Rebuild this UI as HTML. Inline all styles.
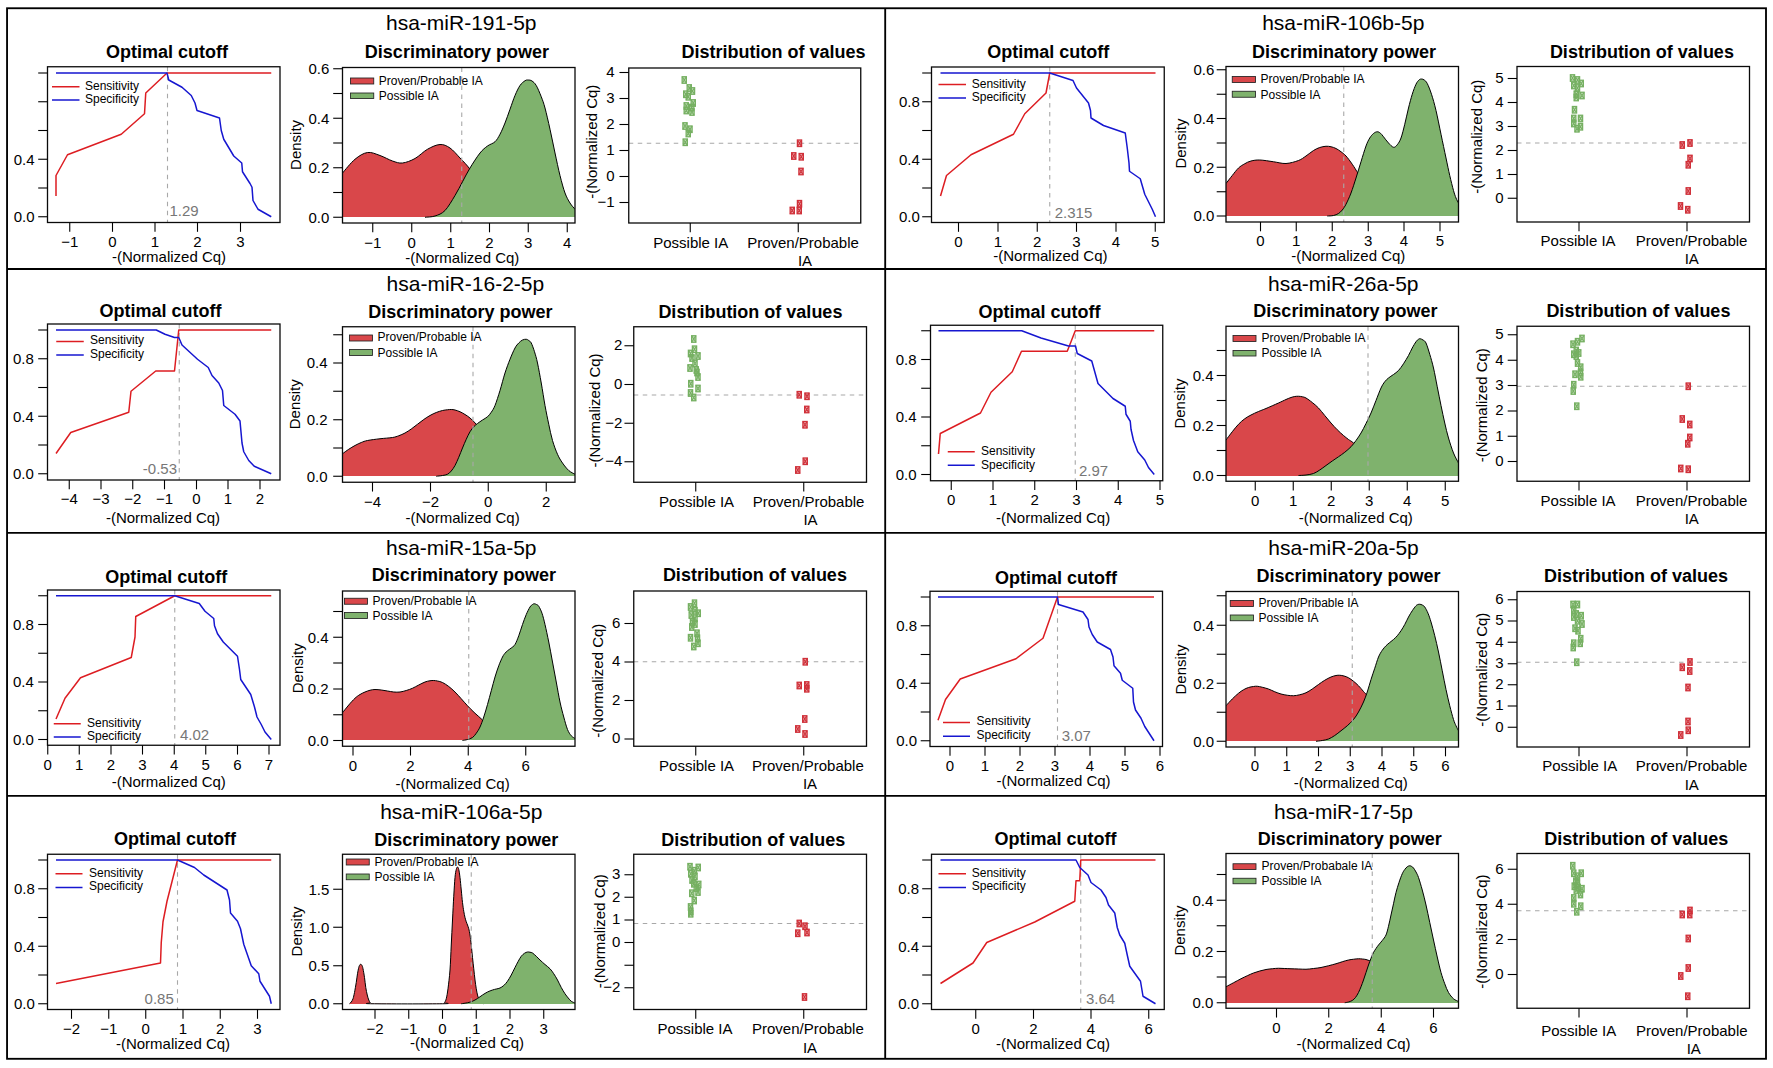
<!DOCTYPE html>
<html><head><meta charset="utf-8"><title>miRNA cutoff panels</title>
<style>html,body{margin:0;padding:0;background:#fff}svg{display:block}</style></head>
<body>
<svg width="1773" height="1068" viewBox="0 0 1773 1068" font-family='"Liberation Sans", sans-serif'>
<rect width="1773" height="1068" fill="#ffffff"/>
<text x="461.25" y="30" font-size="21" text-anchor="middle" fill="#000000">hsa-miR-191-5p</text>
<line x1="167.5" y1="66.75" x2="167.5" y2="222.5" stroke="#a8a8a8" stroke-width="1.1" stroke-dasharray="4.5 4.5"/>
<polyline points="56,196 56,175.5 67.5,154.75 121.25,134.25 144.5,113.75 145.75,93 167,73 271.25,73" fill="none" stroke="#dd1d22" stroke-width="1.5" stroke-linejoin="round" stroke-linecap="butt"/>
<polyline points="56,73 167,73 168.75,80 182,87.25 191.25,95.5 195,103 197,110.5 219.5,118 221.25,130.5 223.75,139.25 233.75,156 241.75,163 242.5,171.75 250,183.5 252,187.25 253,200.5 258,209.25 271.25,216.75" fill="none" stroke="#1616d0" stroke-width="1.5" stroke-linejoin="round" stroke-linecap="butt"/>
<rect x="47.5" y="66.75" width="232.5" height="155.75" fill="none" stroke="#0a0a0a" stroke-width="1.3"/>
<line x1="38.2" y1="73" x2="47.5" y2="73" stroke="#000000" stroke-width="1.1"/>
<line x1="38.2" y1="101.75" x2="47.5" y2="101.75" stroke="#000000" stroke-width="1.1"/>
<line x1="38.2" y1="130.5" x2="47.5" y2="130.5" stroke="#000000" stroke-width="1.1"/>
<line x1="38.2" y1="159.25" x2="47.5" y2="159.25" stroke="#000000" stroke-width="1.1"/>
<text x="34.5" y="164.55" font-size="15" text-anchor="end" fill="#000000">0.4</text>
<line x1="38.2" y1="188" x2="47.5" y2="188" stroke="#000000" stroke-width="1.1"/>
<line x1="38.2" y1="216.75" x2="47.5" y2="216.75" stroke="#000000" stroke-width="1.1"/>
<text x="34.5" y="222.05" font-size="15" text-anchor="end" fill="#000000">0.0</text>
<line x1="69.75" y1="222.5" x2="69.75" y2="231.8" stroke="#000000" stroke-width="1.1"/>
<text x="69.75" y="246.75" font-size="15" text-anchor="middle" fill="#000000">−1</text>
<line x1="112.5" y1="222.5" x2="112.5" y2="231.8" stroke="#000000" stroke-width="1.1"/>
<text x="112.5" y="246.75" font-size="15" text-anchor="middle" fill="#000000">0</text>
<line x1="155" y1="222.5" x2="155" y2="231.8" stroke="#000000" stroke-width="1.1"/>
<text x="155" y="246.75" font-size="15" text-anchor="middle" fill="#000000">1</text>
<line x1="197.5" y1="222.5" x2="197.5" y2="231.8" stroke="#000000" stroke-width="1.1"/>
<text x="197.5" y="246.75" font-size="15" text-anchor="middle" fill="#000000">2</text>
<line x1="240.5" y1="222.5" x2="240.5" y2="231.8" stroke="#000000" stroke-width="1.1"/>
<text x="240.5" y="246.75" font-size="15" text-anchor="middle" fill="#000000">3</text>
<text x="167" y="57.5" font-size="18" text-anchor="middle" font-weight="bold" fill="#000000">Optimal cutoff</text>
<text x="169" y="261.75" font-size="15" text-anchor="middle" fill="#000000">-(Normalized Cq)</text>
<text x="169.5" y="216" font-size="15" text-anchor="start" fill="#777777">1.29</text>
<line x1="52" y1="86.75" x2="79.5" y2="86.75" stroke="#dd1d22" stroke-width="1.5"/>
<line x1="52" y1="100" x2="79.5" y2="100" stroke="#1616d0" stroke-width="1.5"/>
<text x="85" y="90" font-size="12" text-anchor="start" fill="#000000">Sensitivity</text>
<text x="85" y="103" font-size="12" text-anchor="start" fill="#000000">Specificity</text>
<clipPath id="c1"><rect x="342.5" y="67.5" width="232.5" height="155.5"/></clipPath>
<g clip-path="url(#c1)">
<path d="M342.5,173 C344.58,170.71 350.83,162.67 355,159.25 C359.17,155.83 363.33,153.12 367.5,152.5 C371.67,151.88 375.83,154.08 380,155.5 C384.17,156.92 388.75,159.75 392.5,161 C396.25,162.25 398.75,163.42 402.5,163 C406.25,162.58 410.83,160.79 415,158.5 C419.17,156.21 423.33,151.58 427.5,149.25 C431.67,146.92 436.25,144.71 440,144.5 C443.75,144.29 446.67,145.75 450,148 C453.33,150.25 456.67,154.46 460,158 C463.33,161.54 466.67,164.67 470,169.25 C473.33,173.83 476.67,180.29 480,185.5 C483.33,190.71 486.67,196.12 490,200.5 C493.33,204.88 498.33,209.88 500,211.75 L500,217 L342.5,217 Z" fill="#d9474a" stroke="none"/>
<path d="M342.5,173 C344.58,170.71 350.83,162.67 355,159.25 C359.17,155.83 363.33,153.12 367.5,152.5 C371.67,151.88 375.83,154.08 380,155.5 C384.17,156.92 388.75,159.75 392.5,161 C396.25,162.25 398.75,163.42 402.5,163 C406.25,162.58 410.83,160.79 415,158.5 C419.17,156.21 423.33,151.58 427.5,149.25 C431.67,146.92 436.25,144.71 440,144.5 C443.75,144.29 446.67,145.75 450,148 C453.33,150.25 456.67,154.46 460,158 C463.33,161.54 466.67,164.67 470,169.25 C473.33,173.83 476.67,180.29 480,185.5 C483.33,190.71 486.67,196.12 490,200.5 C493.33,204.88 498.33,209.88 500,211.75" fill="none" stroke="#000000" stroke-width="1" stroke-linejoin="round"/>
<path d="M425,217.25 C426.67,217.04 431.67,217.12 435,216 C438.33,214.88 441.67,213.92 445,210.5 C448.33,207.08 452.08,200.29 455,195.5 C457.92,190.71 460,186.33 462.5,181.75 C465,177.17 467.08,172.79 470,168 C472.92,163.21 477.08,156.67 480,153 C482.92,149.33 485,147.88 487.5,146 C490,144.12 492.92,143.71 495,141.75 C497.08,139.79 498.33,137.38 500,134.25 C501.67,131.12 503.33,127.17 505,123 C506.67,118.83 508.33,113.83 510,109.25 C511.67,104.67 513.33,99.46 515,95.5 C516.67,91.54 518.33,87.96 520,85.5 C521.67,83.04 523.62,81.67 525,80.75 C526.38,79.83 527.08,79.96 528.25,80 C529.42,80.04 530.67,80.08 532,81 C533.33,81.92 534.71,82.88 536.25,85.5 C537.79,88.12 539.79,93 541.25,96.75 C542.71,100.5 543.54,102.58 545,108 C546.46,113.42 548.33,121.75 550,129.25 C551.67,136.75 553.33,145.29 555,153 C556.67,160.71 558.33,168.83 560,175.5 C561.67,182.17 563.33,188.42 565,193 C566.67,197.58 568.33,200.29 570,203 C571.67,205.71 574.17,208.21 575,209.25 L575,217 L425,217 Z" fill="#7fb26d" stroke="none"/>
<path d="M425,217.25 C426.67,217.04 431.67,217.12 435,216 C438.33,214.88 441.67,213.92 445,210.5 C448.33,207.08 452.08,200.29 455,195.5 C457.92,190.71 460,186.33 462.5,181.75 C465,177.17 467.08,172.79 470,168 C472.92,163.21 477.08,156.67 480,153 C482.92,149.33 485,147.88 487.5,146 C490,144.12 492.92,143.71 495,141.75 C497.08,139.79 498.33,137.38 500,134.25 C501.67,131.12 503.33,127.17 505,123 C506.67,118.83 508.33,113.83 510,109.25 C511.67,104.67 513.33,99.46 515,95.5 C516.67,91.54 518.33,87.96 520,85.5 C521.67,83.04 523.62,81.67 525,80.75 C526.38,79.83 527.08,79.96 528.25,80 C529.42,80.04 530.67,80.08 532,81 C533.33,81.92 534.71,82.88 536.25,85.5 C537.79,88.12 539.79,93 541.25,96.75 C542.71,100.5 543.54,102.58 545,108 C546.46,113.42 548.33,121.75 550,129.25 C551.67,136.75 553.33,145.29 555,153 C556.67,160.71 558.33,168.83 560,175.5 C561.67,182.17 563.33,188.42 565,193 C566.67,197.58 568.33,200.29 570,203 C571.67,205.71 574.17,208.21 575,209.25" fill="none" stroke="#000000" stroke-width="1" stroke-linejoin="round"/>
</g>
<line x1="461.75" y1="67.5" x2="461.75" y2="223" stroke="#a8a8a8" stroke-width="1.1" stroke-dasharray="4.5 4.5"/>
<rect x="342.5" y="67.5" width="232.5" height="155.5" fill="none" stroke="#0a0a0a" stroke-width="1.3"/>
<line x1="333.2" y1="68.75" x2="342.5" y2="68.75" stroke="#000000" stroke-width="1.1"/>
<text x="329.3" y="74.05" font-size="15" text-anchor="end" fill="#000000">0.6</text>
<line x1="333.2" y1="93.5" x2="342.5" y2="93.5" stroke="#000000" stroke-width="1.1"/>
<line x1="333.2" y1="118.25" x2="342.5" y2="118.25" stroke="#000000" stroke-width="1.1"/>
<text x="329.3" y="123.55" font-size="15" text-anchor="end" fill="#000000">0.4</text>
<line x1="333.2" y1="143" x2="342.5" y2="143" stroke="#000000" stroke-width="1.1"/>
<line x1="333.2" y1="167.75" x2="342.5" y2="167.75" stroke="#000000" stroke-width="1.1"/>
<text x="329.3" y="173.05" font-size="15" text-anchor="end" fill="#000000">0.2</text>
<line x1="333.2" y1="192.5" x2="342.5" y2="192.5" stroke="#000000" stroke-width="1.1"/>
<line x1="333.2" y1="217.25" x2="342.5" y2="217.25" stroke="#000000" stroke-width="1.1"/>
<text x="329.3" y="222.55" font-size="15" text-anchor="end" fill="#000000">0.0</text>
<line x1="372.75" y1="223" x2="372.75" y2="232.3" stroke="#000000" stroke-width="1.1"/>
<text x="372.75" y="247.5" font-size="15" text-anchor="middle" fill="#000000">−1</text>
<line x1="411.75" y1="223" x2="411.75" y2="232.3" stroke="#000000" stroke-width="1.1"/>
<text x="411.75" y="247.5" font-size="15" text-anchor="middle" fill="#000000">0</text>
<line x1="450.75" y1="223" x2="450.75" y2="232.3" stroke="#000000" stroke-width="1.1"/>
<text x="450.75" y="247.5" font-size="15" text-anchor="middle" fill="#000000">1</text>
<line x1="489.5" y1="223" x2="489.5" y2="232.3" stroke="#000000" stroke-width="1.1"/>
<text x="489.5" y="247.5" font-size="15" text-anchor="middle" fill="#000000">2</text>
<line x1="528.25" y1="223" x2="528.25" y2="232.3" stroke="#000000" stroke-width="1.1"/>
<text x="528.25" y="247.5" font-size="15" text-anchor="middle" fill="#000000">3</text>
<line x1="567.25" y1="223" x2="567.25" y2="232.3" stroke="#000000" stroke-width="1.1"/>
<text x="567.25" y="247.5" font-size="15" text-anchor="middle" fill="#000000">4</text>
<text x="456.9" y="57.5" font-size="18" text-anchor="middle" font-weight="bold" fill="#000000">Discriminatory power</text>
<text x="462.25" y="263" font-size="15" text-anchor="middle" fill="#000000">-(Normalized Cq)</text>
<text x="301.25" y="144.9" font-size="15" text-anchor="middle" fill="#000000" transform="rotate(-90 301.25 144.9)">Density</text>
<rect x="350.5" y="78" width="23.25" height="6" fill="#d9474a" stroke="#222" stroke-width="0.85"/>
<rect x="350.5" y="93" width="23.25" height="5.5" fill="#7fb26d" stroke="#222" stroke-width="0.85"/>
<text x="378.75" y="84.5" font-size="12" text-anchor="start" fill="#000000">Proven/Probable IA</text>
<text x="378.75" y="99.75" font-size="12" text-anchor="start" fill="#000000">Possible IA</text>
<line x1="628.75" y1="143.25" x2="860.75" y2="143.25" stroke="#a8a8a8" stroke-width="1.1" stroke-dasharray="4.5 4.5"/>
<g stroke="#76b062" stroke-width="1.3" fill="#76b062" fill-opacity="0.38"><rect x="682.15" y="76.75" width="4.2" height="6.5"/></g>
<path d="M682.15,76.75 L686.35,83.25 M686.35,76.75 L682.15,83.25" stroke="#76b062" stroke-width="1.2" fill="none"/>
<g stroke="#76b062" stroke-width="1.3" fill="#76b062" fill-opacity="0.38"><rect x="687.15" y="84.75" width="4.2" height="6.5"/></g>
<path d="M687.15,84.75 L691.35,91.25 M691.35,84.75 L687.15,91.25" stroke="#76b062" stroke-width="1.2" fill="none"/>
<g stroke="#76b062" stroke-width="1.3" fill="#76b062" fill-opacity="0.38"><rect x="690.4" y="87.75" width="4.2" height="6.5"/></g>
<path d="M690.4,87.75 L694.6,94.25 M694.6,87.75 L690.4,94.25" stroke="#76b062" stroke-width="1.2" fill="none"/>
<g stroke="#76b062" stroke-width="1.3" fill="#76b062" fill-opacity="0.38"><rect x="683.65" y="91" width="4.2" height="6.5"/></g>
<path d="M683.65,91 L687.85,97.5 M687.85,91 L683.65,97.5" stroke="#76b062" stroke-width="1.2" fill="none"/>
<g stroke="#76b062" stroke-width="1.3" fill="#76b062" fill-opacity="0.38"><rect x="686.15" y="93.5" width="4.2" height="6.5"/></g>
<path d="M686.15,93.5 L690.35,100 M690.35,93.5 L686.15,100" stroke="#76b062" stroke-width="1.2" fill="none"/>
<g stroke="#76b062" stroke-width="1.3" fill="#76b062" fill-opacity="0.38"><rect x="691.15" y="99.75" width="4.2" height="6.5"/></g>
<path d="M691.15,99.75 L695.35,106.25 M695.35,99.75 L691.15,106.25" stroke="#76b062" stroke-width="1.2" fill="none"/>
<g stroke="#76b062" stroke-width="1.3" fill="#76b062" fill-opacity="0.38"><rect x="684.15" y="102.75" width="4.2" height="6.5"/></g>
<path d="M684.15,102.75 L688.35,109.25 M688.35,102.75 L684.15,109.25" stroke="#76b062" stroke-width="1.2" fill="none"/>
<g stroke="#76b062" stroke-width="1.3" fill="#76b062" fill-opacity="0.38"><rect x="689.65" y="104.25" width="4.2" height="6.5"/></g>
<path d="M689.65,104.25 L693.85,110.75 M693.85,104.25 L689.65,110.75" stroke="#76b062" stroke-width="1.2" fill="none"/>
<g stroke="#76b062" stroke-width="1.3" fill="#76b062" fill-opacity="0.38"><rect x="684.15" y="107.25" width="4.2" height="6.5"/></g>
<path d="M684.15,107.25 L688.35,113.75 M688.35,107.25 L684.15,113.75" stroke="#76b062" stroke-width="1.2" fill="none"/>
<g stroke="#76b062" stroke-width="1.3" fill="#76b062" fill-opacity="0.38"><rect x="689.9" y="108.75" width="4.2" height="6.5"/></g>
<path d="M689.9,108.75 L694.1,115.25 M694.1,108.75 L689.9,115.25" stroke="#76b062" stroke-width="1.2" fill="none"/>
<g stroke="#76b062" stroke-width="1.3" fill="#76b062" fill-opacity="0.38"><rect x="682.9" y="122.75" width="4.2" height="6.5"/></g>
<path d="M682.9,122.75 L687.1,129.25 M687.1,122.75 L682.9,129.25" stroke="#76b062" stroke-width="1.2" fill="none"/>
<g stroke="#76b062" stroke-width="1.3" fill="#76b062" fill-opacity="0.38"><rect x="687.9" y="126" width="4.2" height="6.5"/></g>
<path d="M687.9,126 L692.1,132.5 M692.1,126 L687.9,132.5" stroke="#76b062" stroke-width="1.2" fill="none"/>
<g stroke="#76b062" stroke-width="1.3" fill="#76b062" fill-opacity="0.38"><rect x="686.15" y="130.25" width="4.2" height="6.5"/></g>
<path d="M686.15,130.25 L690.35,136.75 M690.35,130.25 L686.15,136.75" stroke="#76b062" stroke-width="1.2" fill="none"/>
<g stroke="#76b062" stroke-width="1.3" fill="#76b062" fill-opacity="0.38"><rect x="683.15" y="139" width="4.2" height="6.5"/></g>
<path d="M683.15,139 L687.35,145.5 M687.35,139 L683.15,145.5" stroke="#76b062" stroke-width="1.2" fill="none"/>
<g stroke="#d0313a" stroke-width="1.3" fill="#d0313a" fill-opacity="0.38"><rect x="797.4" y="140" width="4.2" height="6.5"/></g>
<path d="M797.4,140 L801.6,146.5 M801.6,140 L797.4,146.5" stroke="#d0313a" stroke-width="1.2" fill="none"/>
<g stroke="#d0313a" stroke-width="1.3" fill="#d0313a" fill-opacity="0.38"><rect x="791.65" y="152.75" width="4.2" height="6.5"/></g>
<path d="M791.65,152.75 L795.85,159.25 M795.85,152.75 L791.65,159.25" stroke="#d0313a" stroke-width="1.2" fill="none"/>
<g stroke="#d0313a" stroke-width="1.3" fill="#d0313a" fill-opacity="0.38"><rect x="799.15" y="153.5" width="4.2" height="6.5"/></g>
<path d="M799.15,153.5 L803.35,160 M803.35,153.5 L799.15,160" stroke="#d0313a" stroke-width="1.2" fill="none"/>
<g stroke="#d0313a" stroke-width="1.3" fill="#d0313a" fill-opacity="0.38"><rect x="798.9" y="168.25" width="4.2" height="6.5"/></g>
<path d="M798.9,168.25 L803.1,174.75 M803.1,168.25 L798.9,174.75" stroke="#d0313a" stroke-width="1.2" fill="none"/>
<g stroke="#d0313a" stroke-width="1.3" fill="#d0313a" fill-opacity="0.38"><rect x="797.4" y="200.5" width="4.2" height="6.5"/></g>
<path d="M797.4,200.5 L801.6,207 M801.6,200.5 L797.4,207" stroke="#d0313a" stroke-width="1.2" fill="none"/>
<g stroke="#d0313a" stroke-width="1.3" fill="#d0313a" fill-opacity="0.38"><rect x="790.15" y="207.25" width="4.2" height="6.5"/></g>
<path d="M790.15,207.25 L794.35,213.75 M794.35,207.25 L790.15,213.75" stroke="#d0313a" stroke-width="1.2" fill="none"/>
<g stroke="#d0313a" stroke-width="1.3" fill="#d0313a" fill-opacity="0.38"><rect x="797.15" y="207.25" width="4.2" height="6.5"/></g>
<path d="M797.15,207.25 L801.35,213.75 M801.35,207.25 L797.15,213.75" stroke="#d0313a" stroke-width="1.2" fill="none"/>
<rect x="628.75" y="68" width="232" height="155" fill="none" stroke="#0a0a0a" stroke-width="1.3"/>
<line x1="619.45" y1="72.5" x2="628.75" y2="72.5" stroke="#000000" stroke-width="1.1"/>
<text x="614.55" y="76.9" font-size="15" text-anchor="end" fill="#000000">4</text>
<line x1="619.45" y1="98.5" x2="628.75" y2="98.5" stroke="#000000" stroke-width="1.1"/>
<text x="614.55" y="102.9" font-size="15" text-anchor="end" fill="#000000">3</text>
<line x1="619.45" y1="124.5" x2="628.75" y2="124.5" stroke="#000000" stroke-width="1.1"/>
<text x="614.55" y="128.9" font-size="15" text-anchor="end" fill="#000000">2</text>
<line x1="619.45" y1="150.5" x2="628.75" y2="150.5" stroke="#000000" stroke-width="1.1"/>
<text x="614.55" y="154.9" font-size="15" text-anchor="end" fill="#000000">1</text>
<line x1="619.45" y1="176.5" x2="628.75" y2="176.5" stroke="#000000" stroke-width="1.1"/>
<text x="614.55" y="180.9" font-size="15" text-anchor="end" fill="#000000">0</text>
<line x1="619.45" y1="202.5" x2="628.75" y2="202.5" stroke="#000000" stroke-width="1.1"/>
<text x="614.55" y="206.9" font-size="15" text-anchor="end" fill="#000000">−1</text>
<line x1="690.25" y1="223" x2="690.25" y2="232.3" stroke="#000000" stroke-width="1.1"/>
<line x1="798.25" y1="223" x2="798.25" y2="232.3" stroke="#000000" stroke-width="1.1"/>
<text x="773.6" y="57.5" font-size="18" text-anchor="middle" font-weight="bold" fill="#000000">Distribution of values</text>
<text x="596.75" y="141.75" font-size="15" text-anchor="middle" fill="#000000" transform="rotate(-90 596.75 141.75)">-(Normalized Cq)</text>
<text x="690.75" y="247.5" font-size="15" text-anchor="middle" fill="#000000">Possible IA</text>
<text x="803" y="247.5" font-size="15" text-anchor="middle" fill="#000000">Proven/Probable</text>
<text x="805" y="265.5" font-size="15" text-anchor="middle" fill="#000000">IA</text>
<text x="1343.25" y="30" font-size="21" text-anchor="middle" fill="#000000">hsa-miR-106b-5p</text>
<line x1="1049.75" y1="67" x2="1049.75" y2="222.5" stroke="#a8a8a8" stroke-width="1.1" stroke-dasharray="4.5 4.5"/>
<polyline points="940.5,196 946.5,175.5 971,154.75 1013.5,134.25 1024.75,113.75 1046,93 1049.75,73 1155.5,73" fill="none" stroke="#dd1d22" stroke-width="1.5" stroke-linejoin="round" stroke-linecap="butt"/>
<polyline points="940.5,73 1049.75,73 1073,80.5 1076.5,88 1088.5,103 1090.5,110.5 1091,118 1103.5,125.5 1125.25,133 1127.25,148 1129,163 1129.5,171.25 1140.25,178.75 1144.75,194.25 1152.25,209.25 1155.5,216.75" fill="none" stroke="#1616d0" stroke-width="1.5" stroke-linejoin="round" stroke-linecap="butt"/>
<rect x="931.5" y="67" width="232.75" height="155.5" fill="none" stroke="#0a0a0a" stroke-width="1.3"/>
<line x1="922.2" y1="73" x2="931.5" y2="73" stroke="#000000" stroke-width="1.1"/>
<line x1="922.2" y1="101.75" x2="931.5" y2="101.75" stroke="#000000" stroke-width="1.1"/>
<text x="919.8" y="107.05" font-size="15" text-anchor="end" fill="#000000">0.8</text>
<line x1="922.2" y1="130.5" x2="931.5" y2="130.5" stroke="#000000" stroke-width="1.1"/>
<line x1="922.2" y1="159.25" x2="931.5" y2="159.25" stroke="#000000" stroke-width="1.1"/>
<text x="919.8" y="164.55" font-size="15" text-anchor="end" fill="#000000">0.4</text>
<line x1="922.2" y1="188" x2="931.5" y2="188" stroke="#000000" stroke-width="1.1"/>
<line x1="922.2" y1="216.75" x2="931.5" y2="216.75" stroke="#000000" stroke-width="1.1"/>
<text x="919.8" y="222.05" font-size="15" text-anchor="end" fill="#000000">0.0</text>
<line x1="958.5" y1="222.5" x2="958.5" y2="231.8" stroke="#000000" stroke-width="1.1"/>
<text x="958.5" y="246.75" font-size="15" text-anchor="middle" fill="#000000">0</text>
<line x1="998" y1="222.5" x2="998" y2="231.8" stroke="#000000" stroke-width="1.1"/>
<text x="998" y="246.75" font-size="15" text-anchor="middle" fill="#000000">1</text>
<line x1="1037.25" y1="222.5" x2="1037.25" y2="231.8" stroke="#000000" stroke-width="1.1"/>
<text x="1037.25" y="246.75" font-size="15" text-anchor="middle" fill="#000000">2</text>
<line x1="1076.5" y1="222.5" x2="1076.5" y2="231.8" stroke="#000000" stroke-width="1.1"/>
<text x="1076.5" y="246.75" font-size="15" text-anchor="middle" fill="#000000">3</text>
<line x1="1116" y1="222.5" x2="1116" y2="231.8" stroke="#000000" stroke-width="1.1"/>
<text x="1116" y="246.75" font-size="15" text-anchor="middle" fill="#000000">4</text>
<line x1="1155.25" y1="222.5" x2="1155.25" y2="231.8" stroke="#000000" stroke-width="1.1"/>
<text x="1155.25" y="246.75" font-size="15" text-anchor="middle" fill="#000000">5</text>
<text x="1048.25" y="57.5" font-size="18" text-anchor="middle" font-weight="bold" fill="#000000">Optimal cutoff</text>
<text x="1050.4" y="261.25" font-size="15" text-anchor="middle" fill="#000000">-(Normalized Cq)</text>
<text x="1054.75" y="217.5" font-size="15" text-anchor="start" fill="#777777">2.315</text>
<line x1="938.5" y1="84.5" x2="966" y2="84.5" stroke="#dd1d22" stroke-width="1.5"/>
<line x1="938.5" y1="98" x2="966" y2="98" stroke="#1616d0" stroke-width="1.5"/>
<text x="971.75" y="87.5" font-size="12" text-anchor="start" fill="#000000">Sensitivity</text>
<text x="971.75" y="101" font-size="12" text-anchor="start" fill="#000000">Specificity</text>
<clipPath id="c2"><rect x="1226" y="66.5" width="232.5" height="155.5"/></clipPath>
<g clip-path="url(#c2)">
<path d="M1226,183.5 C1227.04,182.17 1230.17,178.08 1232.25,175.5 C1234.33,172.92 1236.42,169.96 1238.5,168 C1240.58,166.04 1242.67,164.92 1244.75,163.75 C1246.83,162.58 1248.5,161.62 1251,161 C1253.5,160.38 1256,159.88 1259.75,160 C1263.5,160.12 1269.12,161.17 1273.5,161.75 C1277.88,162.33 1281.83,163.71 1286,163.5 C1290.17,163.29 1295.17,161.75 1298.5,160.5 C1301.83,159.25 1303.5,157.67 1306,156 C1308.5,154.33 1311.21,151.92 1313.5,150.5 C1315.79,149.08 1317.67,148.21 1319.75,147.5 C1321.83,146.79 1324.12,146.38 1326,146.25 C1327.88,146.12 1329.33,146.38 1331,146.75 C1332.67,147.12 1334.33,147.67 1336,148.5 C1337.67,149.33 1339.33,150.5 1341,151.75 C1342.67,153 1344.12,153.92 1346,156 C1347.88,158.08 1350.17,161.21 1352.25,164.25 C1354.33,167.29 1356.21,170.29 1358.5,174.25 C1360.79,178.21 1363.5,183.62 1366,188 C1368.5,192.38 1371,196.96 1373.5,200.5 C1376,204.04 1379.75,207.79 1381,209.25 L1381,216 L1226,216 Z" fill="#d9474a" stroke="none"/>
<path d="M1226,183.5 C1227.04,182.17 1230.17,178.08 1232.25,175.5 C1234.33,172.92 1236.42,169.96 1238.5,168 C1240.58,166.04 1242.67,164.92 1244.75,163.75 C1246.83,162.58 1248.5,161.62 1251,161 C1253.5,160.38 1256,159.88 1259.75,160 C1263.5,160.12 1269.12,161.17 1273.5,161.75 C1277.88,162.33 1281.83,163.71 1286,163.5 C1290.17,163.29 1295.17,161.75 1298.5,160.5 C1301.83,159.25 1303.5,157.67 1306,156 C1308.5,154.33 1311.21,151.92 1313.5,150.5 C1315.79,149.08 1317.67,148.21 1319.75,147.5 C1321.83,146.79 1324.12,146.38 1326,146.25 C1327.88,146.12 1329.33,146.38 1331,146.75 C1332.67,147.12 1334.33,147.67 1336,148.5 C1337.67,149.33 1339.33,150.5 1341,151.75 C1342.67,153 1344.12,153.92 1346,156 C1347.88,158.08 1350.17,161.21 1352.25,164.25 C1354.33,167.29 1356.21,170.29 1358.5,174.25 C1360.79,178.21 1363.5,183.62 1366,188 C1368.5,192.38 1371,196.96 1373.5,200.5 C1376,204.04 1379.75,207.79 1381,209.25" fill="none" stroke="#000000" stroke-width="1" stroke-linejoin="round"/>
<path d="M1327.25,216 C1328.29,215.92 1331.62,215.92 1333.5,215.5 C1335.38,215.08 1337.04,214.42 1338.5,213.5 C1339.96,212.58 1341,211.54 1342.25,210 C1343.5,208.46 1344.54,207.08 1346,204.25 C1347.46,201.42 1349.33,197.38 1351,193 C1352.67,188.62 1354.33,183.21 1356,178 C1357.67,172.79 1359.33,167.08 1361,161.75 C1362.67,156.42 1364.54,149.96 1366,146 C1367.46,142.04 1368.5,140.08 1369.75,138 C1371,135.92 1372.25,134.54 1373.5,133.5 C1374.75,132.46 1376.08,131.79 1377.25,131.75 C1378.42,131.71 1379.46,132.42 1380.5,133.25 C1381.54,134.08 1382.17,135.12 1383.5,136.75 C1384.83,138.38 1386.83,141.25 1388.5,143 C1390.17,144.75 1392.04,146.96 1393.5,147.25 C1394.96,147.54 1396,146.29 1397.25,144.75 C1398.5,143.21 1399.75,141.42 1401,138 C1402.25,134.58 1403.5,129.25 1404.75,124.25 C1406,119.25 1407.25,113 1408.5,108 C1409.75,103 1411,98.21 1412.25,94.25 C1413.5,90.29 1414.88,86.62 1416,84.25 C1417.12,81.88 1418.08,80.88 1419,80 C1419.92,79.12 1420.62,79 1421.5,79 C1422.38,79 1423.29,79.25 1424.25,80 C1425.21,80.75 1426.04,81.12 1427.25,83.5 C1428.46,85.88 1430.04,89.75 1431.5,94.25 C1432.96,98.75 1434.42,103.83 1436,110.5 C1437.58,117.17 1439.33,126.33 1441,134.25 C1442.67,142.17 1444.54,151.12 1446,158 C1447.46,164.88 1448.5,170.08 1449.75,175.5 C1451,180.92 1452.46,186.75 1453.5,190.5 C1454.54,194.25 1455.17,195.92 1456,198 C1456.83,200.08 1458.08,202.17 1458.5,203 L1458.5,216 L1327.25,216 Z" fill="#7fb26d" stroke="none"/>
<path d="M1327.25,216 C1328.29,215.92 1331.62,215.92 1333.5,215.5 C1335.38,215.08 1337.04,214.42 1338.5,213.5 C1339.96,212.58 1341,211.54 1342.25,210 C1343.5,208.46 1344.54,207.08 1346,204.25 C1347.46,201.42 1349.33,197.38 1351,193 C1352.67,188.62 1354.33,183.21 1356,178 C1357.67,172.79 1359.33,167.08 1361,161.75 C1362.67,156.42 1364.54,149.96 1366,146 C1367.46,142.04 1368.5,140.08 1369.75,138 C1371,135.92 1372.25,134.54 1373.5,133.5 C1374.75,132.46 1376.08,131.79 1377.25,131.75 C1378.42,131.71 1379.46,132.42 1380.5,133.25 C1381.54,134.08 1382.17,135.12 1383.5,136.75 C1384.83,138.38 1386.83,141.25 1388.5,143 C1390.17,144.75 1392.04,146.96 1393.5,147.25 C1394.96,147.54 1396,146.29 1397.25,144.75 C1398.5,143.21 1399.75,141.42 1401,138 C1402.25,134.58 1403.5,129.25 1404.75,124.25 C1406,119.25 1407.25,113 1408.5,108 C1409.75,103 1411,98.21 1412.25,94.25 C1413.5,90.29 1414.88,86.62 1416,84.25 C1417.12,81.88 1418.08,80.88 1419,80 C1419.92,79.12 1420.62,79 1421.5,79 C1422.38,79 1423.29,79.25 1424.25,80 C1425.21,80.75 1426.04,81.12 1427.25,83.5 C1428.46,85.88 1430.04,89.75 1431.5,94.25 C1432.96,98.75 1434.42,103.83 1436,110.5 C1437.58,117.17 1439.33,126.33 1441,134.25 C1442.67,142.17 1444.54,151.12 1446,158 C1447.46,164.88 1448.5,170.08 1449.75,175.5 C1451,180.92 1452.46,186.75 1453.5,190.5 C1454.54,194.25 1455.17,195.92 1456,198 C1456.83,200.08 1458.08,202.17 1458.5,203" fill="none" stroke="#000000" stroke-width="1" stroke-linejoin="round"/>
</g>
<line x1="1343.75" y1="66.5" x2="1343.75" y2="222" stroke="#a8a8a8" stroke-width="1.1" stroke-dasharray="4.5 4.5"/>
<rect x="1226" y="66.5" width="232.5" height="155.5" fill="none" stroke="#0a0a0a" stroke-width="1.3"/>
<line x1="1216.7" y1="69.75" x2="1226" y2="69.75" stroke="#000000" stroke-width="1.1"/>
<text x="1214.3" y="75.05" font-size="15" text-anchor="end" fill="#000000">0.6</text>
<line x1="1216.7" y1="94.25" x2="1226" y2="94.25" stroke="#000000" stroke-width="1.1"/>
<line x1="1216.7" y1="118.5" x2="1226" y2="118.5" stroke="#000000" stroke-width="1.1"/>
<text x="1214.3" y="123.8" font-size="15" text-anchor="end" fill="#000000">0.4</text>
<line x1="1216.7" y1="143" x2="1226" y2="143" stroke="#000000" stroke-width="1.1"/>
<line x1="1216.7" y1="167.25" x2="1226" y2="167.25" stroke="#000000" stroke-width="1.1"/>
<text x="1214.3" y="172.55" font-size="15" text-anchor="end" fill="#000000">0.2</text>
<line x1="1216.7" y1="191.75" x2="1226" y2="191.75" stroke="#000000" stroke-width="1.1"/>
<line x1="1216.7" y1="216" x2="1226" y2="216" stroke="#000000" stroke-width="1.1"/>
<text x="1214.3" y="221.3" font-size="15" text-anchor="end" fill="#000000">0.0</text>
<line x1="1260.5" y1="222" x2="1260.5" y2="231.3" stroke="#000000" stroke-width="1.1"/>
<text x="1260.5" y="246" font-size="15" text-anchor="middle" fill="#000000">0</text>
<line x1="1296.25" y1="222" x2="1296.25" y2="231.3" stroke="#000000" stroke-width="1.1"/>
<text x="1296.25" y="246" font-size="15" text-anchor="middle" fill="#000000">1</text>
<line x1="1332.25" y1="222" x2="1332.25" y2="231.3" stroke="#000000" stroke-width="1.1"/>
<text x="1332.25" y="246" font-size="15" text-anchor="middle" fill="#000000">2</text>
<line x1="1368.25" y1="222" x2="1368.25" y2="231.3" stroke="#000000" stroke-width="1.1"/>
<text x="1368.25" y="246" font-size="15" text-anchor="middle" fill="#000000">3</text>
<line x1="1404" y1="222" x2="1404" y2="231.3" stroke="#000000" stroke-width="1.1"/>
<text x="1404" y="246" font-size="15" text-anchor="middle" fill="#000000">4</text>
<line x1="1440" y1="222" x2="1440" y2="231.3" stroke="#000000" stroke-width="1.1"/>
<text x="1440" y="246" font-size="15" text-anchor="middle" fill="#000000">5</text>
<text x="1344.1" y="58.25" font-size="18" text-anchor="middle" font-weight="bold" fill="#000000">Discriminatory power</text>
<text x="1348.25" y="261.25" font-size="15" text-anchor="middle" fill="#000000">-(Normalized Cq)</text>
<text x="1186" y="143.6" font-size="15" text-anchor="middle" fill="#000000" transform="rotate(-90 1186 143.6)">Density</text>
<rect x="1232.25" y="76.5" width="23.25" height="6" fill="#d9474a" stroke="#222" stroke-width="0.85"/>
<rect x="1232.25" y="91.25" width="23.25" height="6" fill="#7fb26d" stroke="#222" stroke-width="0.85"/>
<text x="1260.5" y="83" font-size="12" text-anchor="start" fill="#000000">Proven/Probable IA</text>
<text x="1260.5" y="98.5" font-size="12" text-anchor="start" fill="#000000">Possible IA</text>
<line x1="1517" y1="143" x2="1749.5" y2="143" stroke="#a8a8a8" stroke-width="1.1" stroke-dasharray="4.5 4.5"/>
<g stroke="#76b062" stroke-width="1.3" fill="#76b062" fill-opacity="0.38"><rect x="1570.4" y="74.75" width="4.2" height="6.5"/></g>
<path d="M1570.4,74.75 L1574.6,81.25 M1574.6,74.75 L1570.4,81.25" stroke="#76b062" stroke-width="1.2" fill="none"/>
<g stroke="#76b062" stroke-width="1.3" fill="#76b062" fill-opacity="0.38"><rect x="1575.4" y="76.75" width="4.2" height="6.5"/></g>
<path d="M1575.4,76.75 L1579.6,83.25 M1579.6,76.75 L1575.4,83.25" stroke="#76b062" stroke-width="1.2" fill="none"/>
<g stroke="#76b062" stroke-width="1.3" fill="#76b062" fill-opacity="0.38"><rect x="1579.15" y="80.25" width="4.2" height="6.5"/></g>
<path d="M1579.15,80.25 L1583.35,86.75 M1583.35,80.25 L1579.15,86.75" stroke="#76b062" stroke-width="1.2" fill="none"/>
<g stroke="#76b062" stroke-width="1.3" fill="#76b062" fill-opacity="0.38"><rect x="1571.65" y="82.25" width="4.2" height="6.5"/></g>
<path d="M1571.65,82.25 L1575.85,88.75 M1575.85,82.25 L1571.65,88.75" stroke="#76b062" stroke-width="1.2" fill="none"/>
<g stroke="#76b062" stroke-width="1.3" fill="#76b062" fill-opacity="0.38"><rect x="1575.4" y="84.75" width="4.2" height="6.5"/></g>
<path d="M1575.4,84.75 L1579.6,91.25 M1579.6,84.75 L1575.4,91.25" stroke="#76b062" stroke-width="1.2" fill="none"/>
<g stroke="#76b062" stroke-width="1.3" fill="#76b062" fill-opacity="0.38"><rect x="1574.15" y="91" width="4.2" height="6.5"/></g>
<path d="M1574.15,91 L1578.35,97.5 M1578.35,91 L1574.15,97.5" stroke="#76b062" stroke-width="1.2" fill="none"/>
<g stroke="#76b062" stroke-width="1.3" fill="#76b062" fill-opacity="0.38"><rect x="1579.9" y="92.25" width="4.2" height="6.5"/></g>
<path d="M1579.9,92.25 L1584.1,98.75 M1584.1,92.25 L1579.9,98.75" stroke="#76b062" stroke-width="1.2" fill="none"/>
<g stroke="#76b062" stroke-width="1.3" fill="#76b062" fill-opacity="0.38"><rect x="1574.15" y="94.25" width="4.2" height="6.5"/></g>
<path d="M1574.15,94.25 L1578.35,100.75 M1578.35,94.25 L1574.15,100.75" stroke="#76b062" stroke-width="1.2" fill="none"/>
<g stroke="#76b062" stroke-width="1.3" fill="#76b062" fill-opacity="0.38"><rect x="1572.4" y="106.5" width="4.2" height="6.5"/></g>
<path d="M1572.4,106.5 L1576.6,113 M1576.6,106.5 L1572.4,113" stroke="#76b062" stroke-width="1.2" fill="none"/>
<g stroke="#76b062" stroke-width="1.3" fill="#76b062" fill-opacity="0.38"><rect x="1571.65" y="115.25" width="4.2" height="6.5"/></g>
<path d="M1571.65,115.25 L1575.85,121.75 M1575.85,115.25 L1571.65,121.75" stroke="#76b062" stroke-width="1.2" fill="none"/>
<g stroke="#76b062" stroke-width="1.3" fill="#76b062" fill-opacity="0.38"><rect x="1578.4" y="115.25" width="4.2" height="6.5"/></g>
<path d="M1578.4,115.25 L1582.6,121.75 M1582.6,115.25 L1578.4,121.75" stroke="#76b062" stroke-width="1.2" fill="none"/>
<g stroke="#76b062" stroke-width="1.3" fill="#76b062" fill-opacity="0.38"><rect x="1571.65" y="120.25" width="4.2" height="6.5"/></g>
<path d="M1571.65,120.25 L1575.85,126.75 M1575.85,120.25 L1571.65,126.75" stroke="#76b062" stroke-width="1.2" fill="none"/>
<g stroke="#76b062" stroke-width="1.3" fill="#76b062" fill-opacity="0.38"><rect x="1578.4" y="123.5" width="4.2" height="6.5"/></g>
<path d="M1578.4,123.5 L1582.6,130 M1582.6,123.5 L1578.4,130" stroke="#76b062" stroke-width="1.2" fill="none"/>
<g stroke="#76b062" stroke-width="1.3" fill="#76b062" fill-opacity="0.38"><rect x="1574.9" y="125.5" width="4.2" height="6.5"/></g>
<path d="M1574.9,125.5 L1579.1,132 M1579.1,125.5 L1574.9,132" stroke="#76b062" stroke-width="1.2" fill="none"/>
<g stroke="#d0313a" stroke-width="1.3" fill="#d0313a" fill-opacity="0.38"><rect x="1687.9" y="139.75" width="4.2" height="6.5"/></g>
<path d="M1687.9,139.75 L1692.1,146.25 M1692.1,139.75 L1687.9,146.25" stroke="#d0313a" stroke-width="1.2" fill="none"/>
<g stroke="#d0313a" stroke-width="1.3" fill="#d0313a" fill-opacity="0.38"><rect x="1680.15" y="141.75" width="4.2" height="6.5"/></g>
<path d="M1680.15,141.75 L1684.35,148.25 M1684.35,141.75 L1680.15,148.25" stroke="#d0313a" stroke-width="1.2" fill="none"/>
<g stroke="#d0313a" stroke-width="1.3" fill="#d0313a" fill-opacity="0.38"><rect x="1687.9" y="155.25" width="4.2" height="6.5"/></g>
<path d="M1687.9,155.25 L1692.1,161.75 M1692.1,155.25 L1687.9,161.75" stroke="#d0313a" stroke-width="1.2" fill="none"/>
<g stroke="#d0313a" stroke-width="1.3" fill="#d0313a" fill-opacity="0.38"><rect x="1686.15" y="161.5" width="4.2" height="6.5"/></g>
<path d="M1686.15,161.5 L1690.35,168 M1690.35,161.5 L1686.15,168" stroke="#d0313a" stroke-width="1.2" fill="none"/>
<g stroke="#d0313a" stroke-width="1.3" fill="#d0313a" fill-opacity="0.38"><rect x="1686.15" y="187.75" width="4.2" height="6.5"/></g>
<path d="M1686.15,187.75 L1690.35,194.25 M1690.35,187.75 L1686.15,194.25" stroke="#d0313a" stroke-width="1.2" fill="none"/>
<g stroke="#d0313a" stroke-width="1.3" fill="#d0313a" fill-opacity="0.38"><rect x="1678.4" y="202.75" width="4.2" height="6.5"/></g>
<path d="M1678.4,202.75 L1682.6,209.25 M1682.6,202.75 L1678.4,209.25" stroke="#d0313a" stroke-width="1.2" fill="none"/>
<g stroke="#d0313a" stroke-width="1.3" fill="#d0313a" fill-opacity="0.38"><rect x="1685.65" y="206.5" width="4.2" height="6.5"/></g>
<path d="M1685.65,206.5 L1689.85,213 M1689.85,206.5 L1685.65,213" stroke="#d0313a" stroke-width="1.2" fill="none"/>
<rect x="1517" y="66.5" width="232.5" height="155.5" fill="none" stroke="#0a0a0a" stroke-width="1.3"/>
<line x1="1507.7" y1="78.5" x2="1517" y2="78.5" stroke="#000000" stroke-width="1.1"/>
<text x="1503.5" y="82.9" font-size="15" text-anchor="end" fill="#000000">5</text>
<line x1="1507.7" y1="102.5" x2="1517" y2="102.5" stroke="#000000" stroke-width="1.1"/>
<text x="1503.5" y="106.9" font-size="15" text-anchor="end" fill="#000000">4</text>
<line x1="1507.7" y1="126.5" x2="1517" y2="126.5" stroke="#000000" stroke-width="1.1"/>
<text x="1503.5" y="130.9" font-size="15" text-anchor="end" fill="#000000">3</text>
<line x1="1507.7" y1="150.5" x2="1517" y2="150.5" stroke="#000000" stroke-width="1.1"/>
<text x="1503.5" y="154.9" font-size="15" text-anchor="end" fill="#000000">2</text>
<line x1="1507.7" y1="174.5" x2="1517" y2="174.5" stroke="#000000" stroke-width="1.1"/>
<text x="1503.5" y="178.9" font-size="15" text-anchor="end" fill="#000000">1</text>
<line x1="1507.7" y1="198.25" x2="1517" y2="198.25" stroke="#000000" stroke-width="1.1"/>
<text x="1503.5" y="202.65" font-size="15" text-anchor="end" fill="#000000">0</text>
<line x1="1579" y1="222" x2="1579" y2="231.3" stroke="#000000" stroke-width="1.1"/>
<line x1="1687" y1="222" x2="1687" y2="231.3" stroke="#000000" stroke-width="1.1"/>
<text x="1641.9" y="58.25" font-size="18" text-anchor="middle" font-weight="bold" fill="#000000">Distribution of values</text>
<text x="1482.25" y="136.75" font-size="15" text-anchor="middle" fill="#000000" transform="rotate(-90 1482.25 136.75)">-(Normalized Cq)</text>
<text x="1578.1" y="246" font-size="15" text-anchor="middle" fill="#000000">Possible IA</text>
<text x="1691.6" y="246" font-size="15" text-anchor="middle" fill="#000000">Proven/Probable</text>
<text x="1691.75" y="264.25" font-size="15" text-anchor="middle" fill="#000000">IA</text>
<text x="465.4" y="291.25" font-size="21" text-anchor="middle" fill="#000000">hsa-miR-16-2-5p</text>
<line x1="179.25" y1="324" x2="179.25" y2="480" stroke="#a8a8a8" stroke-width="1.1" stroke-dasharray="4.5 4.5"/>
<polyline points="56,453.5 70.75,432.5 128.75,412.25 131,391.25 155.75,371 174.5,371 178.75,330 271.25,330" fill="none" stroke="#dd1d22" stroke-width="1.5" stroke-linejoin="round" stroke-linecap="butt"/>
<polyline points="56,330 156.25,330 165,334.25 174.5,337.5 178.75,337.5 182,345 197.5,359.25 208.25,367.5 212,375.5 218.75,383 222.5,390.5 223.75,405.5 235,414.25 240,421 242,443 243.75,451.75 248.75,460.5 254.25,466.25 271.25,473.75" fill="none" stroke="#1616d0" stroke-width="1.5" stroke-linejoin="round" stroke-linecap="butt"/>
<rect x="47.5" y="324" width="232.5" height="156" fill="none" stroke="#0a0a0a" stroke-width="1.3"/>
<line x1="38.2" y1="330" x2="47.5" y2="330" stroke="#000000" stroke-width="1.1"/>
<line x1="38.2" y1="358.75" x2="47.5" y2="358.75" stroke="#000000" stroke-width="1.1"/>
<text x="33.8" y="364.05" font-size="15" text-anchor="end" fill="#000000">0.8</text>
<line x1="38.2" y1="387.5" x2="47.5" y2="387.5" stroke="#000000" stroke-width="1.1"/>
<line x1="38.2" y1="416.25" x2="47.5" y2="416.25" stroke="#000000" stroke-width="1.1"/>
<text x="33.8" y="421.55" font-size="15" text-anchor="end" fill="#000000">0.4</text>
<line x1="38.2" y1="445" x2="47.5" y2="445" stroke="#000000" stroke-width="1.1"/>
<line x1="38.2" y1="473.75" x2="47.5" y2="473.75" stroke="#000000" stroke-width="1.1"/>
<text x="33.8" y="479.05" font-size="15" text-anchor="end" fill="#000000">0.0</text>
<line x1="69.25" y1="480" x2="69.25" y2="489.3" stroke="#000000" stroke-width="1.1"/>
<text x="69.25" y="504.25" font-size="15" text-anchor="middle" fill="#000000">−4</text>
<line x1="101" y1="480" x2="101" y2="489.3" stroke="#000000" stroke-width="1.1"/>
<text x="101" y="504.25" font-size="15" text-anchor="middle" fill="#000000">−3</text>
<line x1="132.75" y1="480" x2="132.75" y2="489.3" stroke="#000000" stroke-width="1.1"/>
<text x="132.75" y="504.25" font-size="15" text-anchor="middle" fill="#000000">−2</text>
<line x1="164.5" y1="480" x2="164.5" y2="489.3" stroke="#000000" stroke-width="1.1"/>
<text x="164.5" y="504.25" font-size="15" text-anchor="middle" fill="#000000">−1</text>
<line x1="196.5" y1="480" x2="196.5" y2="489.3" stroke="#000000" stroke-width="1.1"/>
<text x="196.5" y="504.25" font-size="15" text-anchor="middle" fill="#000000">0</text>
<line x1="228" y1="480" x2="228" y2="489.3" stroke="#000000" stroke-width="1.1"/>
<text x="228" y="504.25" font-size="15" text-anchor="middle" fill="#000000">1</text>
<line x1="260" y1="480" x2="260" y2="489.3" stroke="#000000" stroke-width="1.1"/>
<text x="260" y="504.25" font-size="15" text-anchor="middle" fill="#000000">2</text>
<text x="160.5" y="316.5" font-size="18" text-anchor="middle" font-weight="bold" fill="#000000">Optimal cutoff</text>
<text x="163" y="523" font-size="15" text-anchor="middle" fill="#000000">-(Normalized Cq)</text>
<text x="177" y="473.5" font-size="15" text-anchor="end" fill="#777777">-0.53</text>
<line x1="56.25" y1="341.5" x2="83.75" y2="341.5" stroke="#dd1d22" stroke-width="1.5"/>
<line x1="56.25" y1="355" x2="83.75" y2="355" stroke="#1616d0" stroke-width="1.5"/>
<text x="90" y="344.25" font-size="12" text-anchor="start" fill="#000000">Sensitivity</text>
<text x="90" y="358" font-size="12" text-anchor="start" fill="#000000">Specificity</text>
<clipPath id="c3"><rect x="342.5" y="326.75" width="232.5" height="155.5"/></clipPath>
<g clip-path="url(#c3)">
<path d="M342.5,453.75 C343.54,453 346.67,450.62 348.75,449.25 C350.83,447.88 352.92,446.62 355,445.5 C357.08,444.38 359.17,443.33 361.25,442.5 C363.33,441.67 364.38,441.12 367.5,440.5 C370.62,439.88 375.83,439.25 380,438.75 C384.17,438.25 389.38,438 392.5,437.5 C395.62,437 396.67,436.5 398.75,435.75 C400.83,435 402.92,434.12 405,433 C407.08,431.88 409.17,430.46 411.25,429 C413.33,427.54 415.42,425.83 417.5,424.25 C419.58,422.67 421.67,420.96 423.75,419.5 C425.83,418.04 427.92,416.67 430,415.5 C432.08,414.33 434.17,413.33 436.25,412.5 C438.33,411.67 440.62,410.96 442.5,410.5 C444.38,410.04 446.04,409.92 447.5,409.75 C448.96,409.58 450,409.46 451.25,409.5 C452.5,409.54 453.54,409.62 455,410 C456.46,410.38 458.33,411 460,411.75 C461.67,412.5 463.33,413.46 465,414.5 C466.67,415.54 468.12,416.38 470,418 C471.88,419.62 474.17,421.75 476.25,424.25 C478.33,426.75 480.21,429.46 482.5,433 C484.79,436.54 487.5,441.33 490,445.5 C492.5,449.67 495,454.25 497.5,458 C500,461.75 502.5,465.42 505,468 C507.5,470.58 511.25,472.58 512.5,473.5 L512.5,476 L342.5,476 Z" fill="#d9474a" stroke="none"/>
<path d="M342.5,453.75 C343.54,453 346.67,450.62 348.75,449.25 C350.83,447.88 352.92,446.62 355,445.5 C357.08,444.38 359.17,443.33 361.25,442.5 C363.33,441.67 364.38,441.12 367.5,440.5 C370.62,439.88 375.83,439.25 380,438.75 C384.17,438.25 389.38,438 392.5,437.5 C395.62,437 396.67,436.5 398.75,435.75 C400.83,435 402.92,434.12 405,433 C407.08,431.88 409.17,430.46 411.25,429 C413.33,427.54 415.42,425.83 417.5,424.25 C419.58,422.67 421.67,420.96 423.75,419.5 C425.83,418.04 427.92,416.67 430,415.5 C432.08,414.33 434.17,413.33 436.25,412.5 C438.33,411.67 440.62,410.96 442.5,410.5 C444.38,410.04 446.04,409.92 447.5,409.75 C448.96,409.58 450,409.46 451.25,409.5 C452.5,409.54 453.54,409.62 455,410 C456.46,410.38 458.33,411 460,411.75 C461.67,412.5 463.33,413.46 465,414.5 C466.67,415.54 468.12,416.38 470,418 C471.88,419.62 474.17,421.75 476.25,424.25 C478.33,426.75 480.21,429.46 482.5,433 C484.79,436.54 487.5,441.33 490,445.5 C492.5,449.67 495,454.25 497.5,458 C500,461.75 502.5,465.42 505,468 C507.5,470.58 511.25,472.58 512.5,473.5" fill="none" stroke="#000000" stroke-width="1" stroke-linejoin="round"/>
<path d="M436.25,476.25 C437.29,476.12 440.62,475.83 442.5,475.5 C444.38,475.17 446.04,475 447.5,474.25 C448.96,473.5 450,472.46 451.25,471 C452.5,469.54 453.75,467.79 455,465.5 C456.25,463.21 457.5,460.17 458.75,457.25 C460,454.33 461.25,451 462.5,448 C463.75,445 465,441.96 466.25,439.25 C467.5,436.54 468.75,433.83 470,431.75 C471.25,429.67 472.5,428.12 473.75,426.75 C475,425.38 476.04,424.62 477.5,423.5 C478.96,422.38 480.83,421.12 482.5,420 C484.17,418.88 486.04,418.04 487.5,416.75 C488.96,415.46 490,414.12 491.25,412.25 C492.5,410.38 493.54,409.12 495,405.5 C496.46,401.88 498.33,395.92 500,390.5 C501.67,385.08 503.33,378.21 505,373 C506.67,367.79 508.33,363.42 510,359.25 C511.67,355.08 513.54,350.71 515,348 C516.46,345.29 517.5,344.33 518.75,343 C520,341.67 521.25,340.62 522.5,340 C523.75,339.38 525.21,339.17 526.25,339.25 C527.29,339.33 527.92,339.88 528.75,340.5 C529.58,341.12 530.29,341.12 531.25,343 C532.21,344.88 533.46,348.42 534.5,351.75 C535.54,355.08 536.38,357.79 537.5,363 C538.62,368.21 540,375.92 541.25,383 C542.5,390.08 543.75,398.62 545,405.5 C546.25,412.38 547.5,418.42 548.75,424.25 C550,430.08 551.04,435.5 552.5,440.5 C553.96,445.5 555.83,450.5 557.5,454.25 C559.17,458 560.62,460.29 562.5,463 C564.38,465.71 566.67,468.62 568.75,470.5 C570.83,472.38 573.96,473.62 575,474.25 L575,476 L436.25,476 Z" fill="#7fb26d" stroke="none"/>
<path d="M436.25,476.25 C437.29,476.12 440.62,475.83 442.5,475.5 C444.38,475.17 446.04,475 447.5,474.25 C448.96,473.5 450,472.46 451.25,471 C452.5,469.54 453.75,467.79 455,465.5 C456.25,463.21 457.5,460.17 458.75,457.25 C460,454.33 461.25,451 462.5,448 C463.75,445 465,441.96 466.25,439.25 C467.5,436.54 468.75,433.83 470,431.75 C471.25,429.67 472.5,428.12 473.75,426.75 C475,425.38 476.04,424.62 477.5,423.5 C478.96,422.38 480.83,421.12 482.5,420 C484.17,418.88 486.04,418.04 487.5,416.75 C488.96,415.46 490,414.12 491.25,412.25 C492.5,410.38 493.54,409.12 495,405.5 C496.46,401.88 498.33,395.92 500,390.5 C501.67,385.08 503.33,378.21 505,373 C506.67,367.79 508.33,363.42 510,359.25 C511.67,355.08 513.54,350.71 515,348 C516.46,345.29 517.5,344.33 518.75,343 C520,341.67 521.25,340.62 522.5,340 C523.75,339.38 525.21,339.17 526.25,339.25 C527.29,339.33 527.92,339.88 528.75,340.5 C529.58,341.12 530.29,341.12 531.25,343 C532.21,344.88 533.46,348.42 534.5,351.75 C535.54,355.08 536.38,357.79 537.5,363 C538.62,368.21 540,375.92 541.25,383 C542.5,390.08 543.75,398.62 545,405.5 C546.25,412.38 547.5,418.42 548.75,424.25 C550,430.08 551.04,435.5 552.5,440.5 C553.96,445.5 555.83,450.5 557.5,454.25 C559.17,458 560.62,460.29 562.5,463 C564.38,465.71 566.67,468.62 568.75,470.5 C570.83,472.38 573.96,473.62 575,474.25" fill="none" stroke="#000000" stroke-width="1" stroke-linejoin="round"/>
</g>
<line x1="473" y1="326.75" x2="473" y2="482.25" stroke="#a8a8a8" stroke-width="1.1" stroke-dasharray="4.5 4.5"/>
<rect x="342.5" y="326.75" width="232.5" height="155.5" fill="none" stroke="#0a0a0a" stroke-width="1.3"/>
<line x1="333.2" y1="334.75" x2="342.5" y2="334.75" stroke="#000000" stroke-width="1.1"/>
<line x1="333.2" y1="363" x2="342.5" y2="363" stroke="#000000" stroke-width="1.1"/>
<text x="327.5" y="368.3" font-size="15" text-anchor="end" fill="#000000">0.4</text>
<line x1="333.2" y1="391.25" x2="342.5" y2="391.25" stroke="#000000" stroke-width="1.1"/>
<line x1="333.2" y1="419.75" x2="342.5" y2="419.75" stroke="#000000" stroke-width="1.1"/>
<text x="327.5" y="425.05" font-size="15" text-anchor="end" fill="#000000">0.2</text>
<line x1="333.2" y1="448" x2="342.5" y2="448" stroke="#000000" stroke-width="1.1"/>
<line x1="333.2" y1="476.25" x2="342.5" y2="476.25" stroke="#000000" stroke-width="1.1"/>
<text x="327.5" y="481.55" font-size="15" text-anchor="end" fill="#000000">0.0</text>
<line x1="372.5" y1="482.25" x2="372.5" y2="491.55" stroke="#000000" stroke-width="1.1"/>
<text x="372.5" y="506.75" font-size="15" text-anchor="middle" fill="#000000">−4</text>
<line x1="430.5" y1="482.25" x2="430.5" y2="491.55" stroke="#000000" stroke-width="1.1"/>
<text x="430.5" y="506.75" font-size="15" text-anchor="middle" fill="#000000">−2</text>
<line x1="488.25" y1="482.25" x2="488.25" y2="491.55" stroke="#000000" stroke-width="1.1"/>
<text x="488.25" y="506.75" font-size="15" text-anchor="middle" fill="#000000">0</text>
<line x1="546.25" y1="482.25" x2="546.25" y2="491.55" stroke="#000000" stroke-width="1.1"/>
<text x="546.25" y="506.75" font-size="15" text-anchor="middle" fill="#000000">2</text>
<text x="460.4" y="318.25" font-size="18" text-anchor="middle" font-weight="bold" fill="#000000">Discriminatory power</text>
<text x="462.6" y="522.5" font-size="15" text-anchor="middle" fill="#000000">-(Normalized Cq)</text>
<text x="299.5" y="404.25" font-size="15" text-anchor="middle" fill="#000000" transform="rotate(-90 299.5 404.25)">Density</text>
<rect x="349.5" y="335" width="23" height="6" fill="#d9474a" stroke="#222" stroke-width="0.85"/>
<rect x="349.5" y="349.5" width="23" height="6" fill="#7fb26d" stroke="#222" stroke-width="0.85"/>
<text x="377.5" y="341.25" font-size="12" text-anchor="start" fill="#000000">Proven/Probable IA</text>
<text x="377.5" y="356.75" font-size="12" text-anchor="start" fill="#000000">Possible IA</text>
<line x1="633.75" y1="395" x2="866.5" y2="395" stroke="#a8a8a8" stroke-width="1.1" stroke-dasharray="4.5 4.5"/>
<g stroke="#76b062" stroke-width="1.3" fill="#76b062" fill-opacity="0.38"><rect x="691.65" y="335.75" width="4.2" height="6.5"/></g>
<path d="M691.65,335.75 L695.85,342.25 M695.85,335.75 L691.65,342.25" stroke="#76b062" stroke-width="1.2" fill="none"/>
<g stroke="#76b062" stroke-width="1.3" fill="#76b062" fill-opacity="0.38"><rect x="692.4" y="346" width="4.2" height="6.5"/></g>
<path d="M692.4,346 L696.6,352.5 M696.6,346 L692.4,352.5" stroke="#76b062" stroke-width="1.2" fill="none"/>
<g stroke="#76b062" stroke-width="1.3" fill="#76b062" fill-opacity="0.38"><rect x="688.4" y="350.25" width="4.2" height="6.5"/></g>
<path d="M688.4,350.25 L692.6,356.75 M692.6,350.25 L688.4,356.75" stroke="#76b062" stroke-width="1.2" fill="none"/>
<g stroke="#76b062" stroke-width="1.3" fill="#76b062" fill-opacity="0.38"><rect x="695.9" y="352.75" width="4.2" height="6.5"/></g>
<path d="M695.9,352.75 L700.1,359.25 M700.1,352.75 L695.9,359.25" stroke="#76b062" stroke-width="1.2" fill="none"/>
<g stroke="#76b062" stroke-width="1.3" fill="#76b062" fill-opacity="0.38"><rect x="689.9" y="354.75" width="4.2" height="6.5"/></g>
<path d="M689.9,354.75 L694.1,361.25 M694.1,354.75 L689.9,361.25" stroke="#76b062" stroke-width="1.2" fill="none"/>
<g stroke="#76b062" stroke-width="1.3" fill="#76b062" fill-opacity="0.38"><rect x="692.9" y="360.25" width="4.2" height="6.5"/></g>
<path d="M692.9,360.25 L697.1,366.75 M697.1,360.25 L692.9,366.75" stroke="#76b062" stroke-width="1.2" fill="none"/>
<g stroke="#76b062" stroke-width="1.3" fill="#76b062" fill-opacity="0.38"><rect x="687.9" y="364.75" width="4.2" height="6.5"/></g>
<path d="M687.9,364.75 L692.1,371.25 M692.1,364.75 L687.9,371.25" stroke="#76b062" stroke-width="1.2" fill="none"/>
<g stroke="#76b062" stroke-width="1.3" fill="#76b062" fill-opacity="0.38"><rect x="694.15" y="366.75" width="4.2" height="6.5"/></g>
<path d="M694.15,366.75 L698.35,373.25 M698.35,366.75 L694.15,373.25" stroke="#76b062" stroke-width="1.2" fill="none"/>
<g stroke="#76b062" stroke-width="1.3" fill="#76b062" fill-opacity="0.38"><rect x="694.9" y="369.25" width="4.2" height="6.5"/></g>
<path d="M694.9,369.25 L699.1,375.75 M699.1,369.25 L694.9,375.75" stroke="#76b062" stroke-width="1.2" fill="none"/>
<g stroke="#76b062" stroke-width="1.3" fill="#76b062" fill-opacity="0.38"><rect x="695.9" y="373.75" width="4.2" height="6.5"/></g>
<path d="M695.9,373.75 L700.1,380.25 M700.1,373.75 L695.9,380.25" stroke="#76b062" stroke-width="1.2" fill="none"/>
<g stroke="#76b062" stroke-width="1.3" fill="#76b062" fill-opacity="0.38"><rect x="688.65" y="380.5" width="4.2" height="6.5"/></g>
<path d="M688.65,380.5 L692.85,387 M692.85,380.5 L688.65,387" stroke="#76b062" stroke-width="1.2" fill="none"/>
<g stroke="#76b062" stroke-width="1.3" fill="#76b062" fill-opacity="0.38"><rect x="695.9" y="385.25" width="4.2" height="6.5"/></g>
<path d="M695.9,385.25 L700.1,391.75 M700.1,385.25 L695.9,391.75" stroke="#76b062" stroke-width="1.2" fill="none"/>
<g stroke="#76b062" stroke-width="1.3" fill="#76b062" fill-opacity="0.38"><rect x="688.4" y="389.75" width="4.2" height="6.5"/></g>
<path d="M688.4,389.75 L692.6,396.25 M692.6,389.75 L688.4,396.25" stroke="#76b062" stroke-width="1.2" fill="none"/>
<g stroke="#76b062" stroke-width="1.3" fill="#76b062" fill-opacity="0.38"><rect x="691.65" y="394.25" width="4.2" height="6.5"/></g>
<path d="M691.65,394.25 L695.85,400.75 M695.85,394.25 L691.65,400.75" stroke="#76b062" stroke-width="1.2" fill="none"/>
<g stroke="#d0313a" stroke-width="1.3" fill="#d0313a" fill-opacity="0.38"><rect x="797.15" y="391.5" width="4.2" height="6.5"/></g>
<path d="M797.15,391.5 L801.35,398 M801.35,391.5 L797.15,398" stroke="#d0313a" stroke-width="1.2" fill="none"/>
<g stroke="#d0313a" stroke-width="1.3" fill="#d0313a" fill-opacity="0.38"><rect x="804.9" y="393" width="4.2" height="6.5"/></g>
<path d="M804.9,393 L809.1,399.5 M809.1,393 L804.9,399.5" stroke="#d0313a" stroke-width="1.2" fill="none"/>
<g stroke="#d0313a" stroke-width="1.3" fill="#d0313a" fill-opacity="0.38"><rect x="804.65" y="406.25" width="4.2" height="6.5"/></g>
<path d="M804.65,406.25 L808.85,412.75 M808.85,406.25 L804.65,412.75" stroke="#d0313a" stroke-width="1.2" fill="none"/>
<g stroke="#d0313a" stroke-width="1.3" fill="#d0313a" fill-opacity="0.38"><rect x="802.9" y="421.5" width="4.2" height="6.5"/></g>
<path d="M802.9,421.5 L807.1,428 M807.1,421.5 L802.9,428" stroke="#d0313a" stroke-width="1.2" fill="none"/>
<g stroke="#d0313a" stroke-width="1.3" fill="#d0313a" fill-opacity="0.38"><rect x="803.15" y="458" width="4.2" height="6.5"/></g>
<path d="M803.15,458 L807.35,464.5 M807.35,458 L803.15,464.5" stroke="#d0313a" stroke-width="1.2" fill="none"/>
<g stroke="#d0313a" stroke-width="1.3" fill="#d0313a" fill-opacity="0.38"><rect x="795.65" y="466.75" width="4.2" height="6.5"/></g>
<path d="M795.65,466.75 L799.85,473.25 M799.85,466.75 L795.65,473.25" stroke="#d0313a" stroke-width="1.2" fill="none"/>
<rect x="633.75" y="326.75" width="232.75" height="155.5" fill="none" stroke="#0a0a0a" stroke-width="1.3"/>
<line x1="624.45" y1="345.75" x2="633.75" y2="345.75" stroke="#000000" stroke-width="1.1"/>
<text x="622.45" y="350.15" font-size="15" text-anchor="end" fill="#000000">2</text>
<line x1="624.45" y1="384.5" x2="633.75" y2="384.5" stroke="#000000" stroke-width="1.1"/>
<text x="622.45" y="388.9" font-size="15" text-anchor="end" fill="#000000">0</text>
<line x1="624.45" y1="423.25" x2="633.75" y2="423.25" stroke="#000000" stroke-width="1.1"/>
<text x="622.45" y="427.65" font-size="15" text-anchor="end" fill="#000000">−2</text>
<line x1="624.45" y1="461.75" x2="633.75" y2="461.75" stroke="#000000" stroke-width="1.1"/>
<text x="622.45" y="466.15" font-size="15" text-anchor="end" fill="#000000">−4</text>
<line x1="695.75" y1="482.25" x2="695.75" y2="491.55" stroke="#000000" stroke-width="1.1"/>
<line x1="803.75" y1="482.25" x2="803.75" y2="491.55" stroke="#000000" stroke-width="1.1"/>
<text x="750.4" y="318.25" font-size="18" text-anchor="middle" font-weight="bold" fill="#000000">Distribution of values</text>
<text x="600" y="410.5" font-size="15" text-anchor="middle" fill="#000000" transform="rotate(-90 600 410.5)">-(Normalized Cq)</text>
<text x="696.6" y="506.75" font-size="15" text-anchor="middle" fill="#000000">Possible IA</text>
<text x="808.6" y="506.75" font-size="15" text-anchor="middle" fill="#000000">Proven/Probable</text>
<text x="810.5" y="525" font-size="15" text-anchor="middle" fill="#000000">IA</text>
<text x="1343.25" y="291.25" font-size="21" text-anchor="middle" fill="#000000">hsa-miR-26a-5p</text>
<line x1="1075.25" y1="325.25" x2="1075.25" y2="480.75" stroke="#a8a8a8" stroke-width="1.1" stroke-dasharray="4.5 4.5"/>
<polyline points="938.5,454 940.25,433.5 980.5,413 991,392.25 1012.25,371.75 1021.5,351.25 1067.25,351.25 1071,341.75 1075.25,330.75 1154.25,330.75" fill="none" stroke="#dd1d22" stroke-width="1.5" stroke-linejoin="round" stroke-linecap="butt"/>
<polyline points="938.5,330.75 1021.75,330.75 1041,338 1068.5,346 1075.5,346 1077.25,353.5 1091.75,361 1098,383.5 1113,398.5 1125.25,406.25 1126,414.25 1130.25,421.25 1131,429.25 1133.5,440.5 1137.75,451.75 1144.75,460 1148.5,467.5 1154.25,474.5" fill="none" stroke="#1616d0" stroke-width="1.5" stroke-linejoin="round" stroke-linecap="butt"/>
<rect x="930.5" y="325.25" width="232.25" height="155.5" fill="none" stroke="#0a0a0a" stroke-width="1.3"/>
<line x1="921.2" y1="330.75" x2="930.5" y2="330.75" stroke="#000000" stroke-width="1.1"/>
<line x1="921.2" y1="359.5" x2="930.5" y2="359.5" stroke="#000000" stroke-width="1.1"/>
<text x="916.5" y="364.8" font-size="15" text-anchor="end" fill="#000000">0.8</text>
<line x1="921.2" y1="388.25" x2="930.5" y2="388.25" stroke="#000000" stroke-width="1.1"/>
<line x1="921.2" y1="417" x2="930.5" y2="417" stroke="#000000" stroke-width="1.1"/>
<text x="916.5" y="422.3" font-size="15" text-anchor="end" fill="#000000">0.4</text>
<line x1="921.2" y1="445.75" x2="930.5" y2="445.75" stroke="#000000" stroke-width="1.1"/>
<line x1="921.2" y1="474.5" x2="930.5" y2="474.5" stroke="#000000" stroke-width="1.1"/>
<text x="916.5" y="479.8" font-size="15" text-anchor="end" fill="#000000">0.0</text>
<line x1="951.25" y1="480.75" x2="951.25" y2="490.05" stroke="#000000" stroke-width="1.1"/>
<text x="951.25" y="505" font-size="15" text-anchor="middle" fill="#000000">0</text>
<line x1="993" y1="480.75" x2="993" y2="490.05" stroke="#000000" stroke-width="1.1"/>
<text x="993" y="505" font-size="15" text-anchor="middle" fill="#000000">1</text>
<line x1="1034.75" y1="480.75" x2="1034.75" y2="490.05" stroke="#000000" stroke-width="1.1"/>
<text x="1034.75" y="505" font-size="15" text-anchor="middle" fill="#000000">2</text>
<line x1="1076.5" y1="480.75" x2="1076.5" y2="490.05" stroke="#000000" stroke-width="1.1"/>
<text x="1076.5" y="505" font-size="15" text-anchor="middle" fill="#000000">3</text>
<line x1="1118.25" y1="480.75" x2="1118.25" y2="490.05" stroke="#000000" stroke-width="1.1"/>
<text x="1118.25" y="505" font-size="15" text-anchor="middle" fill="#000000">4</text>
<line x1="1160" y1="480.75" x2="1160" y2="490.05" stroke="#000000" stroke-width="1.1"/>
<text x="1160" y="505" font-size="15" text-anchor="middle" fill="#000000">5</text>
<text x="1039.4" y="317.75" font-size="18" text-anchor="middle" font-weight="bold" fill="#000000">Optimal cutoff</text>
<text x="1053.1" y="523" font-size="15" text-anchor="middle" fill="#000000">-(Normalized Cq)</text>
<text x="1079" y="475.5" font-size="15" text-anchor="start" fill="#777777">2.97</text>
<line x1="947.75" y1="451.75" x2="974.75" y2="451.75" stroke="#dd1d22" stroke-width="1.5"/>
<line x1="947.75" y1="465.25" x2="974.75" y2="465.25" stroke="#1616d0" stroke-width="1.5"/>
<text x="981" y="455" font-size="12" text-anchor="start" fill="#000000">Sensitivity</text>
<text x="981" y="468.5" font-size="12" text-anchor="start" fill="#000000">Specificity</text>
<clipPath id="c4"><rect x="1226" y="326.25" width="232.5" height="155"/></clipPath>
<g clip-path="url(#c4)">
<path d="M1226,440 C1227.04,438.62 1230.17,434.38 1232.25,431.75 C1234.33,429.12 1236.42,426.42 1238.5,424.25 C1240.58,422.08 1242.67,420.29 1244.75,418.75 C1246.83,417.21 1248.71,416.21 1251,415 C1253.29,413.79 1256,412.58 1258.5,411.5 C1261,410.42 1262.67,409.92 1266,408.5 C1269.33,407.08 1275.17,404.5 1278.5,403 C1281.83,401.5 1283.92,400.42 1286,399.5 C1288.08,398.58 1289.54,398 1291,397.5 C1292.46,397 1293.5,396.71 1294.75,396.5 C1296,396.29 1297.25,396.21 1298.5,396.25 C1299.75,396.29 1301,396.46 1302.25,396.75 C1303.5,397.04 1304.33,397.04 1306,398 C1307.67,398.96 1310.17,400.83 1312.25,402.5 C1314.33,404.17 1316.42,405.83 1318.5,408 C1320.58,410.17 1322.67,413 1324.75,415.5 C1326.83,418 1328.92,420.62 1331,423 C1333.08,425.38 1335.17,427.67 1337.25,429.75 C1339.33,431.83 1341.62,433.88 1343.5,435.5 C1345.38,437.12 1346.83,438.25 1348.5,439.5 C1350.17,440.75 1351,440.75 1353.5,443 C1356,445.25 1360.17,449.67 1363.5,453 C1366.83,456.33 1370.17,460 1373.5,463 C1376.83,466 1381.83,469.67 1383.5,471 L1383.5,476 L1226,476 Z" fill="#d9474a" stroke="none"/>
<path d="M1226,440 C1227.04,438.62 1230.17,434.38 1232.25,431.75 C1234.33,429.12 1236.42,426.42 1238.5,424.25 C1240.58,422.08 1242.67,420.29 1244.75,418.75 C1246.83,417.21 1248.71,416.21 1251,415 C1253.29,413.79 1256,412.58 1258.5,411.5 C1261,410.42 1262.67,409.92 1266,408.5 C1269.33,407.08 1275.17,404.5 1278.5,403 C1281.83,401.5 1283.92,400.42 1286,399.5 C1288.08,398.58 1289.54,398 1291,397.5 C1292.46,397 1293.5,396.71 1294.75,396.5 C1296,396.29 1297.25,396.21 1298.5,396.25 C1299.75,396.29 1301,396.46 1302.25,396.75 C1303.5,397.04 1304.33,397.04 1306,398 C1307.67,398.96 1310.17,400.83 1312.25,402.5 C1314.33,404.17 1316.42,405.83 1318.5,408 C1320.58,410.17 1322.67,413 1324.75,415.5 C1326.83,418 1328.92,420.62 1331,423 C1333.08,425.38 1335.17,427.67 1337.25,429.75 C1339.33,431.83 1341.62,433.88 1343.5,435.5 C1345.38,437.12 1346.83,438.25 1348.5,439.5 C1350.17,440.75 1351,440.75 1353.5,443 C1356,445.25 1360.17,449.67 1363.5,453 C1366.83,456.33 1370.17,460 1373.5,463 C1376.83,466 1381.83,469.67 1383.5,471" fill="none" stroke="#000000" stroke-width="1" stroke-linejoin="round"/>
<path d="M1298.5,475.5 C1299.75,475.42 1303.5,475.33 1306,475 C1308.5,474.67 1311.21,474.33 1313.5,473.5 C1315.79,472.67 1317.67,471.33 1319.75,470 C1321.83,468.67 1323.92,467 1326,465.5 C1328.08,464 1330.17,462.46 1332.25,461 C1334.33,459.54 1336.42,458.21 1338.5,456.75 C1340.58,455.29 1342.67,453.92 1344.75,452.25 C1346.83,450.58 1349.12,448.71 1351,446.75 C1352.88,444.79 1354.33,442.79 1356,440.5 C1357.67,438.21 1359.33,435.83 1361,433 C1362.67,430.17 1364.33,426.83 1366,423.5 C1367.67,420.17 1369.33,416.83 1371,413 C1372.67,409.17 1374.33,404.67 1376,400.5 C1377.67,396.33 1379.54,391.12 1381,388 C1382.46,384.88 1383.5,383.42 1384.75,381.75 C1386,380.08 1387.04,379.21 1388.5,378 C1389.96,376.79 1391.83,375.75 1393.5,374.5 C1395.17,373.25 1396.83,372.29 1398.5,370.5 C1400.17,368.71 1401.83,366.25 1403.5,363.75 C1405.17,361.25 1407.04,358.12 1408.5,355.5 C1409.96,352.88 1411,350.29 1412.25,348 C1413.5,345.71 1414.96,343.21 1416,341.75 C1417.04,340.29 1417.79,339.75 1418.5,339.25 C1419.21,338.75 1419.5,338.62 1420.25,338.75 C1421,338.88 1422.04,339.29 1423,340 C1423.96,340.71 1424.88,340.62 1426,343 C1427.12,345.38 1428.5,350.08 1429.75,354.25 C1431,358.42 1432.25,362.58 1433.5,368 C1434.75,373.42 1436,380.5 1437.25,386.75 C1438.5,393 1439.75,399.46 1441,405.5 C1442.25,411.54 1443.5,417.58 1444.75,423 C1446,428.42 1447.04,433 1448.5,438 C1449.96,443 1451.83,448.83 1453.5,453 C1455.17,457.17 1457.67,461.33 1458.5,463 L1458.5,476 L1298.5,476 Z" fill="#7fb26d" stroke="none"/>
<path d="M1298.5,475.5 C1299.75,475.42 1303.5,475.33 1306,475 C1308.5,474.67 1311.21,474.33 1313.5,473.5 C1315.79,472.67 1317.67,471.33 1319.75,470 C1321.83,468.67 1323.92,467 1326,465.5 C1328.08,464 1330.17,462.46 1332.25,461 C1334.33,459.54 1336.42,458.21 1338.5,456.75 C1340.58,455.29 1342.67,453.92 1344.75,452.25 C1346.83,450.58 1349.12,448.71 1351,446.75 C1352.88,444.79 1354.33,442.79 1356,440.5 C1357.67,438.21 1359.33,435.83 1361,433 C1362.67,430.17 1364.33,426.83 1366,423.5 C1367.67,420.17 1369.33,416.83 1371,413 C1372.67,409.17 1374.33,404.67 1376,400.5 C1377.67,396.33 1379.54,391.12 1381,388 C1382.46,384.88 1383.5,383.42 1384.75,381.75 C1386,380.08 1387.04,379.21 1388.5,378 C1389.96,376.79 1391.83,375.75 1393.5,374.5 C1395.17,373.25 1396.83,372.29 1398.5,370.5 C1400.17,368.71 1401.83,366.25 1403.5,363.75 C1405.17,361.25 1407.04,358.12 1408.5,355.5 C1409.96,352.88 1411,350.29 1412.25,348 C1413.5,345.71 1414.96,343.21 1416,341.75 C1417.04,340.29 1417.79,339.75 1418.5,339.25 C1419.21,338.75 1419.5,338.62 1420.25,338.75 C1421,338.88 1422.04,339.29 1423,340 C1423.96,340.71 1424.88,340.62 1426,343 C1427.12,345.38 1428.5,350.08 1429.75,354.25 C1431,358.42 1432.25,362.58 1433.5,368 C1434.75,373.42 1436,380.5 1437.25,386.75 C1438.5,393 1439.75,399.46 1441,405.5 C1442.25,411.54 1443.5,417.58 1444.75,423 C1446,428.42 1447.04,433 1448.5,438 C1449.96,443 1451.83,448.83 1453.5,453 C1455.17,457.17 1457.67,461.33 1458.5,463" fill="none" stroke="#000000" stroke-width="1" stroke-linejoin="round"/>
</g>
<line x1="1368" y1="326.25" x2="1368" y2="481.25" stroke="#a8a8a8" stroke-width="1.1" stroke-dasharray="4.5 4.5"/>
<rect x="1226" y="326.25" width="232.5" height="155" fill="none" stroke="#0a0a0a" stroke-width="1.3"/>
<line x1="1216.7" y1="350.5" x2="1226" y2="350.5" stroke="#000000" stroke-width="1.1"/>
<line x1="1216.7" y1="375.5" x2="1226" y2="375.5" stroke="#000000" stroke-width="1.1"/>
<text x="1213.5" y="380.8" font-size="15" text-anchor="end" fill="#000000">0.4</text>
<line x1="1216.7" y1="400.5" x2="1226" y2="400.5" stroke="#000000" stroke-width="1.1"/>
<line x1="1216.7" y1="425.5" x2="1226" y2="425.5" stroke="#000000" stroke-width="1.1"/>
<text x="1213.5" y="430.8" font-size="15" text-anchor="end" fill="#000000">0.2</text>
<line x1="1216.7" y1="450.5" x2="1226" y2="450.5" stroke="#000000" stroke-width="1.1"/>
<line x1="1216.7" y1="475.5" x2="1226" y2="475.5" stroke="#000000" stroke-width="1.1"/>
<text x="1213.5" y="480.8" font-size="15" text-anchor="end" fill="#000000">0.0</text>
<line x1="1255.25" y1="481.25" x2="1255.25" y2="490.55" stroke="#000000" stroke-width="1.1"/>
<text x="1255.25" y="505.5" font-size="15" text-anchor="middle" fill="#000000">0</text>
<line x1="1293.25" y1="481.25" x2="1293.25" y2="490.55" stroke="#000000" stroke-width="1.1"/>
<text x="1293.25" y="505.5" font-size="15" text-anchor="middle" fill="#000000">1</text>
<line x1="1331.25" y1="481.25" x2="1331.25" y2="490.55" stroke="#000000" stroke-width="1.1"/>
<text x="1331.25" y="505.5" font-size="15" text-anchor="middle" fill="#000000">2</text>
<line x1="1369.25" y1="481.25" x2="1369.25" y2="490.55" stroke="#000000" stroke-width="1.1"/>
<text x="1369.25" y="505.5" font-size="15" text-anchor="middle" fill="#000000">3</text>
<line x1="1407.25" y1="481.25" x2="1407.25" y2="490.55" stroke="#000000" stroke-width="1.1"/>
<text x="1407.25" y="505.5" font-size="15" text-anchor="middle" fill="#000000">4</text>
<line x1="1445.25" y1="481.25" x2="1445.25" y2="490.55" stroke="#000000" stroke-width="1.1"/>
<text x="1445.25" y="505.5" font-size="15" text-anchor="middle" fill="#000000">5</text>
<text x="1345.4" y="317" font-size="18" text-anchor="middle" font-weight="bold" fill="#000000">Discriminatory power</text>
<text x="1355.75" y="523" font-size="15" text-anchor="middle" fill="#000000">-(Normalized Cq)</text>
<text x="1184.75" y="403.6" font-size="15" text-anchor="middle" fill="#000000" transform="rotate(-90 1184.75 403.6)">Density</text>
<rect x="1233" y="335.5" width="23" height="6" fill="#d9474a" stroke="#222" stroke-width="0.85"/>
<rect x="1233" y="350.5" width="23" height="5.5" fill="#7fb26d" stroke="#222" stroke-width="0.85"/>
<text x="1261.5" y="342" font-size="12" text-anchor="start" fill="#000000">Proven/Probable IA</text>
<text x="1261.5" y="357.25" font-size="12" text-anchor="start" fill="#000000">Possible IA</text>
<line x1="1517" y1="386.25" x2="1749.5" y2="386.25" stroke="#a8a8a8" stroke-width="1.1" stroke-dasharray="4.5 4.5"/>
<g stroke="#76b062" stroke-width="1.3" fill="#76b062" fill-opacity="0.38"><rect x="1579.9" y="335.25" width="4.2" height="6.5"/></g>
<path d="M1579.9,335.25 L1584.1,341.75 M1584.1,335.25 L1579.9,341.75" stroke="#76b062" stroke-width="1.2" fill="none"/>
<g stroke="#76b062" stroke-width="1.3" fill="#76b062" fill-opacity="0.38"><rect x="1575.4" y="338.5" width="4.2" height="6.5"/></g>
<path d="M1575.4,338.5 L1579.6,345 M1579.6,338.5 L1575.4,345" stroke="#76b062" stroke-width="1.2" fill="none"/>
<g stroke="#76b062" stroke-width="1.3" fill="#76b062" fill-opacity="0.38"><rect x="1570.9" y="341" width="4.2" height="6.5"/></g>
<path d="M1570.9,341 L1575.1,347.5 M1575.1,341 L1570.9,347.5" stroke="#76b062" stroke-width="1.2" fill="none"/>
<g stroke="#76b062" stroke-width="1.3" fill="#76b062" fill-opacity="0.38"><rect x="1574.15" y="347.25" width="4.2" height="6.5"/></g>
<path d="M1574.15,347.25 L1578.35,353.75 M1578.35,347.25 L1574.15,353.75" stroke="#76b062" stroke-width="1.2" fill="none"/>
<g stroke="#76b062" stroke-width="1.3" fill="#76b062" fill-opacity="0.38"><rect x="1576.65" y="349.75" width="4.2" height="6.5"/></g>
<path d="M1576.65,349.75 L1580.85,356.25 M1580.85,349.75 L1576.65,356.25" stroke="#76b062" stroke-width="1.2" fill="none"/>
<g stroke="#76b062" stroke-width="1.3" fill="#76b062" fill-opacity="0.38"><rect x="1571.65" y="351" width="4.2" height="6.5"/></g>
<path d="M1571.65,351 L1575.85,357.5 M1575.85,351 L1571.65,357.5" stroke="#76b062" stroke-width="1.2" fill="none"/>
<g stroke="#76b062" stroke-width="1.3" fill="#76b062" fill-opacity="0.38"><rect x="1574.15" y="352.75" width="4.2" height="6.5"/></g>
<path d="M1574.15,352.75 L1578.35,359.25 M1578.35,352.75 L1574.15,359.25" stroke="#76b062" stroke-width="1.2" fill="none"/>
<g stroke="#76b062" stroke-width="1.3" fill="#76b062" fill-opacity="0.38"><rect x="1575.4" y="359.75" width="4.2" height="6.5"/></g>
<path d="M1575.4,359.75 L1579.6,366.25 M1579.6,359.75 L1575.4,366.25" stroke="#76b062" stroke-width="1.2" fill="none"/>
<g stroke="#76b062" stroke-width="1.3" fill="#76b062" fill-opacity="0.38"><rect x="1578.65" y="364" width="4.2" height="6.5"/></g>
<path d="M1578.65,364 L1582.85,370.5 M1582.85,364 L1578.65,370.5" stroke="#76b062" stroke-width="1.2" fill="none"/>
<g stroke="#76b062" stroke-width="1.3" fill="#76b062" fill-opacity="0.38"><rect x="1578.4" y="369.25" width="4.2" height="6.5"/></g>
<path d="M1578.4,369.25 L1582.6,375.75 M1582.6,369.25 L1578.4,375.75" stroke="#76b062" stroke-width="1.2" fill="none"/>
<g stroke="#76b062" stroke-width="1.3" fill="#76b062" fill-opacity="0.38"><rect x="1572.9" y="371" width="4.2" height="6.5"/></g>
<path d="M1572.9,371 L1577.1,377.5 M1577.1,371 L1572.9,377.5" stroke="#76b062" stroke-width="1.2" fill="none"/>
<g stroke="#76b062" stroke-width="1.3" fill="#76b062" fill-opacity="0.38"><rect x="1578.65" y="373.5" width="4.2" height="6.5"/></g>
<path d="M1578.65,373.5 L1582.85,380 M1582.85,373.5 L1578.65,380" stroke="#76b062" stroke-width="1.2" fill="none"/>
<g stroke="#76b062" stroke-width="1.3" fill="#76b062" fill-opacity="0.38"><rect x="1571.65" y="381.5" width="4.2" height="6.5"/></g>
<path d="M1571.65,381.5 L1575.85,388 M1575.85,381.5 L1571.65,388" stroke="#76b062" stroke-width="1.2" fill="none"/>
<g stroke="#76b062" stroke-width="1.3" fill="#76b062" fill-opacity="0.38"><rect x="1571.15" y="387.75" width="4.2" height="6.5"/></g>
<path d="M1571.15,387.75 L1575.35,394.25 M1575.35,387.75 L1571.15,394.25" stroke="#76b062" stroke-width="1.2" fill="none"/>
<g stroke="#76b062" stroke-width="1.3" fill="#76b062" fill-opacity="0.38"><rect x="1574.65" y="403" width="4.2" height="6.5"/></g>
<path d="M1574.65,403 L1578.85,409.5 M1578.85,403 L1574.65,409.5" stroke="#76b062" stroke-width="1.2" fill="none"/>
<g stroke="#d0313a" stroke-width="1.3" fill="#d0313a" fill-opacity="0.38"><rect x="1686.15" y="383" width="4.2" height="6.5"/></g>
<path d="M1686.15,383 L1690.35,389.5 M1690.35,383 L1686.15,389.5" stroke="#d0313a" stroke-width="1.2" fill="none"/>
<g stroke="#d0313a" stroke-width="1.3" fill="#d0313a" fill-opacity="0.38"><rect x="1680.15" y="415.75" width="4.2" height="6.5"/></g>
<path d="M1680.15,415.75 L1684.35,422.25 M1684.35,415.75 L1680.15,422.25" stroke="#d0313a" stroke-width="1.2" fill="none"/>
<g stroke="#d0313a" stroke-width="1.3" fill="#d0313a" fill-opacity="0.38"><rect x="1687.65" y="421.25" width="4.2" height="6.5"/></g>
<path d="M1687.65,421.25 L1691.85,427.75 M1691.85,421.25 L1687.65,427.75" stroke="#d0313a" stroke-width="1.2" fill="none"/>
<g stroke="#d0313a" stroke-width="1.3" fill="#d0313a" fill-opacity="0.38"><rect x="1687.65" y="434.25" width="4.2" height="6.5"/></g>
<path d="M1687.65,434.25 L1691.85,440.75 M1691.85,434.25 L1687.65,440.75" stroke="#d0313a" stroke-width="1.2" fill="none"/>
<g stroke="#d0313a" stroke-width="1.3" fill="#d0313a" fill-opacity="0.38"><rect x="1685.65" y="440.5" width="4.2" height="6.5"/></g>
<path d="M1685.65,440.5 L1689.85,447 M1689.85,440.5 L1685.65,447" stroke="#d0313a" stroke-width="1.2" fill="none"/>
<g stroke="#d0313a" stroke-width="1.3" fill="#d0313a" fill-opacity="0.38"><rect x="1678.65" y="465.25" width="4.2" height="6.5"/></g>
<path d="M1678.65,465.25 L1682.85,471.75 M1682.85,465.25 L1678.65,471.75" stroke="#d0313a" stroke-width="1.2" fill="none"/>
<g stroke="#d0313a" stroke-width="1.3" fill="#d0313a" fill-opacity="0.38"><rect x="1686.15" y="466" width="4.2" height="6.5"/></g>
<path d="M1686.15,466 L1690.35,472.5 M1690.35,466 L1686.15,472.5" stroke="#d0313a" stroke-width="1.2" fill="none"/>
<rect x="1517" y="326.25" width="232.5" height="155" fill="none" stroke="#0a0a0a" stroke-width="1.3"/>
<line x1="1507.7" y1="334.75" x2="1517" y2="334.75" stroke="#000000" stroke-width="1.1"/>
<text x="1503.7" y="339.15" font-size="15" text-anchor="end" fill="#000000">5</text>
<line x1="1507.7" y1="360.25" x2="1517" y2="360.25" stroke="#000000" stroke-width="1.1"/>
<text x="1503.7" y="364.65" font-size="15" text-anchor="end" fill="#000000">4</text>
<line x1="1507.7" y1="385.5" x2="1517" y2="385.5" stroke="#000000" stroke-width="1.1"/>
<text x="1503.7" y="389.9" font-size="15" text-anchor="end" fill="#000000">3</text>
<line x1="1507.7" y1="411" x2="1517" y2="411" stroke="#000000" stroke-width="1.1"/>
<text x="1503.7" y="415.4" font-size="15" text-anchor="end" fill="#000000">2</text>
<line x1="1507.7" y1="436.25" x2="1517" y2="436.25" stroke="#000000" stroke-width="1.1"/>
<text x="1503.7" y="440.65" font-size="15" text-anchor="end" fill="#000000">1</text>
<line x1="1507.7" y1="461.5" x2="1517" y2="461.5" stroke="#000000" stroke-width="1.1"/>
<text x="1503.7" y="465.9" font-size="15" text-anchor="end" fill="#000000">0</text>
<line x1="1579" y1="481.25" x2="1579" y2="490.55" stroke="#000000" stroke-width="1.1"/>
<line x1="1687" y1="481.25" x2="1687" y2="490.55" stroke="#000000" stroke-width="1.1"/>
<text x="1638.4" y="317" font-size="18" text-anchor="middle" font-weight="bold" fill="#000000">Distribution of values</text>
<text x="1486.7" y="405.25" font-size="15" text-anchor="middle" fill="#000000" transform="rotate(-90 1486.7 405.25)">-(Normalized Cq)</text>
<text x="1578.1" y="505.5" font-size="15" text-anchor="middle" fill="#000000">Possible IA</text>
<text x="1691.6" y="505.5" font-size="15" text-anchor="middle" fill="#000000">Proven/Probable</text>
<text x="1691.75" y="524.25" font-size="15" text-anchor="middle" fill="#000000">IA</text>
<text x="461.25" y="554.5" font-size="21" text-anchor="middle" fill="#000000">hsa-miR-15a-5p</text>
<line x1="174.75" y1="590" x2="174.75" y2="745.25" stroke="#a8a8a8" stroke-width="1.1" stroke-dasharray="4.5 4.5"/>
<polyline points="56,719 65,698.25 80.5,677.75 131.25,657.5 135,637 135.75,616.5 174.75,595.75 271.25,595.75" fill="none" stroke="#dd1d22" stroke-width="1.5" stroke-linejoin="round" stroke-linecap="butt"/>
<polyline points="56,595.75 174.75,595.75 199.25,603.5 205,611.25 213.75,618.5 214.5,625.75 217.5,633.75 223.25,642 237.5,656.25 239.5,669.5 240.75,679.5 250.75,694.5 254.5,707 257,717 261.25,724.5 265,732 271.25,739.5" fill="none" stroke="#1616d0" stroke-width="1.5" stroke-linejoin="round" stroke-linecap="butt"/>
<rect x="47.5" y="590" width="232.5" height="155.25" fill="none" stroke="#0a0a0a" stroke-width="1.3"/>
<line x1="38.2" y1="595.75" x2="47.5" y2="595.75" stroke="#000000" stroke-width="1.1"/>
<line x1="38.2" y1="624.5" x2="47.5" y2="624.5" stroke="#000000" stroke-width="1.1"/>
<text x="33.8" y="629.8" font-size="15" text-anchor="end" fill="#000000">0.8</text>
<line x1="38.2" y1="653.25" x2="47.5" y2="653.25" stroke="#000000" stroke-width="1.1"/>
<line x1="38.2" y1="682" x2="47.5" y2="682" stroke="#000000" stroke-width="1.1"/>
<text x="33.8" y="687.3" font-size="15" text-anchor="end" fill="#000000">0.4</text>
<line x1="38.2" y1="710.75" x2="47.5" y2="710.75" stroke="#000000" stroke-width="1.1"/>
<line x1="38.2" y1="739.5" x2="47.5" y2="739.5" stroke="#000000" stroke-width="1.1"/>
<text x="33.8" y="744.8" font-size="15" text-anchor="end" fill="#000000">0.0</text>
<line x1="47.75" y1="745.25" x2="47.75" y2="754.55" stroke="#000000" stroke-width="1.1"/>
<text x="47.75" y="769.5" font-size="15" text-anchor="middle" fill="#000000">0</text>
<line x1="79.25" y1="745.25" x2="79.25" y2="754.55" stroke="#000000" stroke-width="1.1"/>
<text x="79.25" y="769.5" font-size="15" text-anchor="middle" fill="#000000">1</text>
<line x1="111" y1="745.25" x2="111" y2="754.55" stroke="#000000" stroke-width="1.1"/>
<text x="111" y="769.5" font-size="15" text-anchor="middle" fill="#000000">2</text>
<line x1="142.5" y1="745.25" x2="142.5" y2="754.55" stroke="#000000" stroke-width="1.1"/>
<text x="142.5" y="769.5" font-size="15" text-anchor="middle" fill="#000000">3</text>
<line x1="174.25" y1="745.25" x2="174.25" y2="754.55" stroke="#000000" stroke-width="1.1"/>
<text x="174.25" y="769.5" font-size="15" text-anchor="middle" fill="#000000">4</text>
<line x1="205.75" y1="745.25" x2="205.75" y2="754.55" stroke="#000000" stroke-width="1.1"/>
<text x="205.75" y="769.5" font-size="15" text-anchor="middle" fill="#000000">5</text>
<line x1="237.5" y1="745.25" x2="237.5" y2="754.55" stroke="#000000" stroke-width="1.1"/>
<text x="237.5" y="769.5" font-size="15" text-anchor="middle" fill="#000000">6</text>
<line x1="269" y1="745.25" x2="269" y2="754.55" stroke="#000000" stroke-width="1.1"/>
<text x="269" y="769.5" font-size="15" text-anchor="middle" fill="#000000">7</text>
<text x="166.25" y="582.75" font-size="18" text-anchor="middle" font-weight="bold" fill="#000000">Optimal cutoff</text>
<text x="168.75" y="787" font-size="15" text-anchor="middle" fill="#000000">-(Normalized Cq)</text>
<text x="180" y="740" font-size="15" text-anchor="start" fill="#777777">4.02</text>
<line x1="53.75" y1="723.75" x2="80.75" y2="723.75" stroke="#dd1d22" stroke-width="1.5"/>
<line x1="53.75" y1="737" x2="80.75" y2="737" stroke="#1616d0" stroke-width="1.5"/>
<text x="87" y="726.5" font-size="12" text-anchor="start" fill="#000000">Sensitivity</text>
<text x="87" y="740" font-size="12" text-anchor="start" fill="#000000">Specificity</text>
<clipPath id="c5"><rect x="342.5" y="591" width="232.5" height="155.25"/></clipPath>
<g clip-path="url(#c5)">
<path d="M342.5,712.75 C343.54,711.46 346.67,707.42 348.75,705 C350.83,702.58 353.12,700 355,698.25 C356.88,696.5 358.33,695.54 360,694.5 C361.67,693.46 363.33,692.71 365,692 C366.67,691.29 368.33,690.67 370,690.25 C371.67,689.83 373.12,689.54 375,689.5 C376.88,689.46 379.17,689.75 381.25,690 C383.33,690.25 385.42,690.67 387.5,691 C389.58,691.33 391.67,691.83 393.75,692 C395.83,692.17 397.92,692.25 400,692 C402.08,691.75 404.17,691.12 406.25,690.5 C408.33,689.88 410.42,689.17 412.5,688.25 C414.58,687.33 416.67,686.04 418.75,685 C420.83,683.96 423.12,682.71 425,682 C426.88,681.29 428.54,681 430,680.75 C431.46,680.5 432.5,680.46 433.75,680.5 C435,680.54 436.04,680.67 437.5,681 C438.96,681.33 440.62,681.58 442.5,682.5 C444.38,683.42 446.67,684.92 448.75,686.5 C450.83,688.08 452.92,689.96 455,692 C457.08,694.04 459.17,696.46 461.25,698.75 C463.33,701.04 465.21,703.33 467.5,705.75 C469.79,708.17 472.5,710.88 475,713.25 C477.5,715.62 480,717.5 482.5,720 C485,722.5 487.5,725.62 490,728.25 C492.5,730.88 496.25,734.5 497.5,735.75 L497.5,740 L342.5,740 Z" fill="#d9474a" stroke="none"/>
<path d="M342.5,712.75 C343.54,711.46 346.67,707.42 348.75,705 C350.83,702.58 353.12,700 355,698.25 C356.88,696.5 358.33,695.54 360,694.5 C361.67,693.46 363.33,692.71 365,692 C366.67,691.29 368.33,690.67 370,690.25 C371.67,689.83 373.12,689.54 375,689.5 C376.88,689.46 379.17,689.75 381.25,690 C383.33,690.25 385.42,690.67 387.5,691 C389.58,691.33 391.67,691.83 393.75,692 C395.83,692.17 397.92,692.25 400,692 C402.08,691.75 404.17,691.12 406.25,690.5 C408.33,689.88 410.42,689.17 412.5,688.25 C414.58,687.33 416.67,686.04 418.75,685 C420.83,683.96 423.12,682.71 425,682 C426.88,681.29 428.54,681 430,680.75 C431.46,680.5 432.5,680.46 433.75,680.5 C435,680.54 436.04,680.67 437.5,681 C438.96,681.33 440.62,681.58 442.5,682.5 C444.38,683.42 446.67,684.92 448.75,686.5 C450.83,688.08 452.92,689.96 455,692 C457.08,694.04 459.17,696.46 461.25,698.75 C463.33,701.04 465.21,703.33 467.5,705.75 C469.79,708.17 472.5,710.88 475,713.25 C477.5,715.62 480,717.5 482.5,720 C485,722.5 487.5,725.62 490,728.25 C492.5,730.88 496.25,734.5 497.5,735.75" fill="none" stroke="#000000" stroke-width="1" stroke-linejoin="round"/>
<path d="M462.5,740.5 C463.33,740.33 465.83,740 467.5,739.5 C469.17,739 471.04,738.54 472.5,737.5 C473.96,736.46 475,735 476.25,733.25 C477.5,731.5 478.75,729.71 480,727 C481.25,724.29 482.5,720.75 483.75,717 C485,713.25 486.25,708.88 487.5,704.5 C488.75,700.12 490,695.33 491.25,690.75 C492.5,686.17 493.75,681.17 495,677 C496.25,672.83 497.5,669.08 498.75,665.75 C500,662.42 501.46,659.08 502.5,657 C503.54,654.92 504.17,654.29 505,653.25 C505.83,652.21 506.46,651.62 507.5,650.75 C508.54,649.88 510,649.04 511.25,648 C512.5,646.96 513.75,646.54 515,644.5 C516.25,642.46 517.5,639.08 518.75,635.75 C520,632.42 521.25,628.04 522.5,624.5 C523.75,620.96 525,617.42 526.25,614.5 C527.5,611.58 528.96,608.67 530,607 C531.04,605.33 531.79,605.04 532.5,604.5 C533.21,603.96 533.58,603.75 534.25,603.75 C534.92,603.75 535.75,604.08 536.5,604.5 C537.25,604.92 537.83,604.79 538.75,606.25 C539.67,607.71 540.96,610.21 542,613.25 C543.04,616.29 543.88,619.71 545,624.5 C546.12,629.29 547.5,635.75 548.75,642 C550,648.25 551.25,655.33 552.5,662 C553.75,668.67 555,675.33 556.25,682 C557.5,688.67 558.75,696.17 560,702 C561.25,707.83 562.5,712.42 563.75,717 C565,721.58 566.25,726.38 567.5,729.5 C568.75,732.62 570,734.25 571.25,735.75 C572.5,737.25 574.38,738.04 575,738.5 L575,740 L462.5,740 Z" fill="#7fb26d" stroke="none"/>
<path d="M462.5,740.5 C463.33,740.33 465.83,740 467.5,739.5 C469.17,739 471.04,738.54 472.5,737.5 C473.96,736.46 475,735 476.25,733.25 C477.5,731.5 478.75,729.71 480,727 C481.25,724.29 482.5,720.75 483.75,717 C485,713.25 486.25,708.88 487.5,704.5 C488.75,700.12 490,695.33 491.25,690.75 C492.5,686.17 493.75,681.17 495,677 C496.25,672.83 497.5,669.08 498.75,665.75 C500,662.42 501.46,659.08 502.5,657 C503.54,654.92 504.17,654.29 505,653.25 C505.83,652.21 506.46,651.62 507.5,650.75 C508.54,649.88 510,649.04 511.25,648 C512.5,646.96 513.75,646.54 515,644.5 C516.25,642.46 517.5,639.08 518.75,635.75 C520,632.42 521.25,628.04 522.5,624.5 C523.75,620.96 525,617.42 526.25,614.5 C527.5,611.58 528.96,608.67 530,607 C531.04,605.33 531.79,605.04 532.5,604.5 C533.21,603.96 533.58,603.75 534.25,603.75 C534.92,603.75 535.75,604.08 536.5,604.5 C537.25,604.92 537.83,604.79 538.75,606.25 C539.67,607.71 540.96,610.21 542,613.25 C543.04,616.29 543.88,619.71 545,624.5 C546.12,629.29 547.5,635.75 548.75,642 C550,648.25 551.25,655.33 552.5,662 C553.75,668.67 555,675.33 556.25,682 C557.5,688.67 558.75,696.17 560,702 C561.25,707.83 562.5,712.42 563.75,717 C565,721.58 566.25,726.38 567.5,729.5 C568.75,732.62 570,734.25 571.25,735.75 C572.5,737.25 574.38,738.04 575,738.5" fill="none" stroke="#000000" stroke-width="1" stroke-linejoin="round"/>
</g>
<line x1="468.75" y1="591" x2="468.75" y2="746.25" stroke="#a8a8a8" stroke-width="1.1" stroke-dasharray="4.5 4.5"/>
<rect x="342.5" y="591" width="232.5" height="155.25" fill="none" stroke="#0a0a0a" stroke-width="1.3"/>
<line x1="333.2" y1="611.5" x2="342.5" y2="611.5" stroke="#000000" stroke-width="1.1"/>
<line x1="333.2" y1="637.25" x2="342.5" y2="637.25" stroke="#000000" stroke-width="1.1"/>
<text x="328.5" y="642.55" font-size="15" text-anchor="end" fill="#000000">0.4</text>
<line x1="333.2" y1="663" x2="342.5" y2="663" stroke="#000000" stroke-width="1.1"/>
<line x1="333.2" y1="689" x2="342.5" y2="689" stroke="#000000" stroke-width="1.1"/>
<text x="328.5" y="694.3" font-size="15" text-anchor="end" fill="#000000">0.2</text>
<line x1="333.2" y1="714.75" x2="342.5" y2="714.75" stroke="#000000" stroke-width="1.1"/>
<line x1="333.2" y1="740.5" x2="342.5" y2="740.5" stroke="#000000" stroke-width="1.1"/>
<text x="328.5" y="745.8" font-size="15" text-anchor="end" fill="#000000">0.0</text>
<line x1="353" y1="746.25" x2="353" y2="755.55" stroke="#000000" stroke-width="1.1"/>
<text x="353" y="770.75" font-size="15" text-anchor="middle" fill="#000000">0</text>
<line x1="410.5" y1="746.25" x2="410.5" y2="755.55" stroke="#000000" stroke-width="1.1"/>
<text x="410.5" y="770.75" font-size="15" text-anchor="middle" fill="#000000">2</text>
<line x1="468.25" y1="746.25" x2="468.25" y2="755.55" stroke="#000000" stroke-width="1.1"/>
<text x="468.25" y="770.75" font-size="15" text-anchor="middle" fill="#000000">4</text>
<line x1="525.75" y1="746.25" x2="525.75" y2="755.55" stroke="#000000" stroke-width="1.1"/>
<text x="525.75" y="770.75" font-size="15" text-anchor="middle" fill="#000000">6</text>
<text x="463.9" y="581" font-size="18" text-anchor="middle" font-weight="bold" fill="#000000">Discriminatory power</text>
<text x="452.6" y="789" font-size="15" text-anchor="middle" fill="#000000">-(Normalized Cq)</text>
<text x="302.5" y="668.25" font-size="15" text-anchor="middle" fill="#000000" transform="rotate(-90 302.5 668.25)">Density</text>
<rect x="344.5" y="598.25" width="23" height="6" fill="#d9474a" stroke="#222" stroke-width="0.85"/>
<rect x="344.5" y="612.5" width="23" height="6" fill="#7fb26d" stroke="#222" stroke-width="0.85"/>
<text x="372.5" y="604.5" font-size="12" text-anchor="start" fill="#000000">Proven/Probable IA</text>
<text x="372.5" y="620" font-size="12" text-anchor="start" fill="#000000">Possible IA</text>
<line x1="633.75" y1="661.75" x2="866.5" y2="661.75" stroke="#a8a8a8" stroke-width="1.1" stroke-dasharray="4.5 4.5"/>
<g stroke="#76b062" stroke-width="1.3" fill="#76b062" fill-opacity="0.38"><rect x="692.4" y="600" width="4.2" height="6.5"/></g>
<path d="M692.4,600 L696.6,606.5 M696.6,600 L692.4,606.5" stroke="#76b062" stroke-width="1.2" fill="none"/>
<g stroke="#76b062" stroke-width="1.3" fill="#76b062" fill-opacity="0.38"><rect x="688.4" y="603.75" width="4.2" height="6.5"/></g>
<path d="M688.4,603.75 L692.6,610.25 M692.6,603.75 L688.4,610.25" stroke="#76b062" stroke-width="1.2" fill="none"/>
<g stroke="#76b062" stroke-width="1.3" fill="#76b062" fill-opacity="0.38"><rect x="692.9" y="607.5" width="4.2" height="6.5"/></g>
<path d="M692.9,607.5 L697.1,614 M697.1,607.5 L692.9,614" stroke="#76b062" stroke-width="1.2" fill="none"/>
<g stroke="#76b062" stroke-width="1.3" fill="#76b062" fill-opacity="0.38"><rect x="696.15" y="610" width="4.2" height="6.5"/></g>
<path d="M696.15,610 L700.35,616.5 M700.35,610 L696.15,616.5" stroke="#76b062" stroke-width="1.2" fill="none"/>
<g stroke="#76b062" stroke-width="1.3" fill="#76b062" fill-opacity="0.38"><rect x="689.15" y="611.75" width="4.2" height="6.5"/></g>
<path d="M689.15,611.75 L693.35,618.25 M693.35,611.75 L689.15,618.25" stroke="#76b062" stroke-width="1.2" fill="none"/>
<g stroke="#76b062" stroke-width="1.3" fill="#76b062" fill-opacity="0.38"><rect x="692.9" y="615" width="4.2" height="6.5"/></g>
<path d="M692.9,615 L697.1,621.5 M697.1,615 L692.9,621.5" stroke="#76b062" stroke-width="1.2" fill="none"/>
<g stroke="#76b062" stroke-width="1.3" fill="#76b062" fill-opacity="0.38"><rect x="690.4" y="618.75" width="4.2" height="6.5"/></g>
<path d="M690.4,618.75 L694.6,625.25 M694.6,618.75 L690.4,625.25" stroke="#76b062" stroke-width="1.2" fill="none"/>
<g stroke="#76b062" stroke-width="1.3" fill="#76b062" fill-opacity="0.38"><rect x="692.9" y="620.75" width="4.2" height="6.5"/></g>
<path d="M692.9,620.75 L697.1,627.25 M697.1,620.75 L692.9,627.25" stroke="#76b062" stroke-width="1.2" fill="none"/>
<g stroke="#76b062" stroke-width="1.3" fill="#76b062" fill-opacity="0.38"><rect x="689.65" y="623.75" width="4.2" height="6.5"/></g>
<path d="M689.65,623.75 L693.85,630.25 M693.85,623.75 L689.65,630.25" stroke="#76b062" stroke-width="1.2" fill="none"/>
<g stroke="#76b062" stroke-width="1.3" fill="#76b062" fill-opacity="0.38"><rect x="694.9" y="630" width="4.2" height="6.5"/></g>
<path d="M694.9,630 L699.1,636.5 M699.1,630 L694.9,636.5" stroke="#76b062" stroke-width="1.2" fill="none"/>
<g stroke="#76b062" stroke-width="1.3" fill="#76b062" fill-opacity="0.38"><rect x="688.4" y="634.5" width="4.2" height="6.5"/></g>
<path d="M688.4,634.5 L692.6,641 M692.6,634.5 L688.4,641" stroke="#76b062" stroke-width="1.2" fill="none"/>
<g stroke="#76b062" stroke-width="1.3" fill="#76b062" fill-opacity="0.38"><rect x="695.4" y="635" width="4.2" height="6.5"/></g>
<path d="M695.4,635 L699.6,641.5 M699.6,635 L695.4,641.5" stroke="#76b062" stroke-width="1.2" fill="none"/>
<g stroke="#76b062" stroke-width="1.3" fill="#76b062" fill-opacity="0.38"><rect x="695.9" y="640" width="4.2" height="6.5"/></g>
<path d="M695.9,640 L700.1,646.5 M700.1,640 L695.9,646.5" stroke="#76b062" stroke-width="1.2" fill="none"/>
<g stroke="#76b062" stroke-width="1.3" fill="#76b062" fill-opacity="0.38"><rect x="691.65" y="643.25" width="4.2" height="6.5"/></g>
<path d="M691.65,643.25 L695.85,649.75 M695.85,643.25 L691.65,649.75" stroke="#76b062" stroke-width="1.2" fill="none"/>
<g stroke="#d0313a" stroke-width="1.3" fill="#d0313a" fill-opacity="0.38"><rect x="803.15" y="658.5" width="4.2" height="6.5"/></g>
<path d="M803.15,658.5 L807.35,665 M807.35,658.5 L803.15,665" stroke="#d0313a" stroke-width="1.2" fill="none"/>
<g stroke="#d0313a" stroke-width="1.3" fill="#d0313a" fill-opacity="0.38"><rect x="797.15" y="682.25" width="4.2" height="6.5"/></g>
<path d="M797.15,682.25 L801.35,688.75 M801.35,682.25 L797.15,688.75" stroke="#d0313a" stroke-width="1.2" fill="none"/>
<g stroke="#d0313a" stroke-width="1.3" fill="#d0313a" fill-opacity="0.38"><rect x="804.65" y="681.75" width="4.2" height="6.5"/></g>
<path d="M804.65,681.75 L808.85,688.25 M808.85,681.75 L804.65,688.25" stroke="#d0313a" stroke-width="1.2" fill="none"/>
<g stroke="#d0313a" stroke-width="1.3" fill="#d0313a" fill-opacity="0.38"><rect x="804.65" y="685.5" width="4.2" height="6.5"/></g>
<path d="M804.65,685.5 L808.85,692 M808.85,685.5 L804.65,692" stroke="#d0313a" stroke-width="1.2" fill="none"/>
<g stroke="#d0313a" stroke-width="1.3" fill="#d0313a" fill-opacity="0.38"><rect x="802.65" y="715.75" width="4.2" height="6.5"/></g>
<path d="M802.65,715.75 L806.85,722.25 M806.85,715.75 L802.65,722.25" stroke="#d0313a" stroke-width="1.2" fill="none"/>
<g stroke="#d0313a" stroke-width="1.3" fill="#d0313a" fill-opacity="0.38"><rect x="795.65" y="725.75" width="4.2" height="6.5"/></g>
<path d="M795.65,725.75 L799.85,732.25 M799.85,725.75 L795.65,732.25" stroke="#d0313a" stroke-width="1.2" fill="none"/>
<g stroke="#d0313a" stroke-width="1.3" fill="#d0313a" fill-opacity="0.38"><rect x="802.9" y="730.75" width="4.2" height="6.5"/></g>
<path d="M802.9,730.75 L807.1,737.25 M807.1,730.75 L802.9,737.25" stroke="#d0313a" stroke-width="1.2" fill="none"/>
<rect x="633.75" y="591" width="232.75" height="155.25" fill="none" stroke="#0a0a0a" stroke-width="1.3"/>
<line x1="624.45" y1="623.5" x2="633.75" y2="623.5" stroke="#000000" stroke-width="1.1"/>
<text x="620.45" y="627.9" font-size="15" text-anchor="end" fill="#000000">6</text>
<line x1="624.45" y1="662" x2="633.75" y2="662" stroke="#000000" stroke-width="1.1"/>
<text x="620.45" y="666.4" font-size="15" text-anchor="end" fill="#000000">4</text>
<line x1="624.45" y1="700.5" x2="633.75" y2="700.5" stroke="#000000" stroke-width="1.1"/>
<text x="620.45" y="704.9" font-size="15" text-anchor="end" fill="#000000">2</text>
<line x1="624.45" y1="739" x2="633.75" y2="739" stroke="#000000" stroke-width="1.1"/>
<text x="620.45" y="743.4" font-size="15" text-anchor="end" fill="#000000">0</text>
<line x1="695.75" y1="746.25" x2="695.75" y2="755.55" stroke="#000000" stroke-width="1.1"/>
<line x1="803.75" y1="746.25" x2="803.75" y2="755.55" stroke="#000000" stroke-width="1.1"/>
<text x="754.9" y="581" font-size="18" text-anchor="middle" font-weight="bold" fill="#000000">Distribution of values</text>
<text x="603" y="680.75" font-size="15" text-anchor="middle" fill="#000000" transform="rotate(-90 603 680.75)">-(Normalized Cq)</text>
<text x="696.6" y="770.75" font-size="15" text-anchor="middle" fill="#000000">Possible IA</text>
<text x="807.9" y="770.75" font-size="15" text-anchor="middle" fill="#000000">Proven/Probable</text>
<text x="810" y="789" font-size="15" text-anchor="middle" fill="#000000">IA</text>
<text x="1343.5" y="555" font-size="21" text-anchor="middle" fill="#000000">hsa-miR-20a-5p</text>
<line x1="1057.5" y1="591.25" x2="1057.5" y2="746.5" stroke="#a8a8a8" stroke-width="1.1" stroke-dasharray="4.5 4.5"/>
<polyline points="938,720.25 945.5,699.5 960.25,679 1016,658.75 1043,638.25 1057.5,597 1154,597" fill="none" stroke="#dd1d22" stroke-width="1.5" stroke-linejoin="round" stroke-linecap="butt"/>
<polyline points="938,597 1057.5,597 1058.5,604.5 1083,612 1088,619.5 1089,627 1092.25,634.5 1097.25,642 1110.5,649.5 1113,657 1114,665.75 1120.5,673.25 1122.25,680.25 1132.75,688.25 1133.5,702 1135.5,710 1141,718.25 1144.75,726.5 1154,740.75" fill="none" stroke="#1616d0" stroke-width="1.5" stroke-linejoin="round" stroke-linecap="butt"/>
<rect x="930" y="591.25" width="232.5" height="155.25" fill="none" stroke="#0a0a0a" stroke-width="1.3"/>
<line x1="920.7" y1="597" x2="930" y2="597" stroke="#000000" stroke-width="1.1"/>
<line x1="920.7" y1="625.75" x2="930" y2="625.75" stroke="#000000" stroke-width="1.1"/>
<text x="917" y="631.05" font-size="15" text-anchor="end" fill="#000000">0.8</text>
<line x1="920.7" y1="654.5" x2="930" y2="654.5" stroke="#000000" stroke-width="1.1"/>
<line x1="920.7" y1="683.25" x2="930" y2="683.25" stroke="#000000" stroke-width="1.1"/>
<text x="917" y="688.55" font-size="15" text-anchor="end" fill="#000000">0.4</text>
<line x1="920.7" y1="712" x2="930" y2="712" stroke="#000000" stroke-width="1.1"/>
<line x1="920.7" y1="740.75" x2="930" y2="740.75" stroke="#000000" stroke-width="1.1"/>
<text x="917" y="746.05" font-size="15" text-anchor="end" fill="#000000">0.0</text>
<line x1="950" y1="746.5" x2="950" y2="755.8" stroke="#000000" stroke-width="1.1"/>
<text x="950" y="770.75" font-size="15" text-anchor="middle" fill="#000000">0</text>
<line x1="985" y1="746.5" x2="985" y2="755.8" stroke="#000000" stroke-width="1.1"/>
<text x="985" y="770.75" font-size="15" text-anchor="middle" fill="#000000">1</text>
<line x1="1020" y1="746.5" x2="1020" y2="755.8" stroke="#000000" stroke-width="1.1"/>
<text x="1020" y="770.75" font-size="15" text-anchor="middle" fill="#000000">2</text>
<line x1="1055" y1="746.5" x2="1055" y2="755.8" stroke="#000000" stroke-width="1.1"/>
<text x="1055" y="770.75" font-size="15" text-anchor="middle" fill="#000000">3</text>
<line x1="1090" y1="746.5" x2="1090" y2="755.8" stroke="#000000" stroke-width="1.1"/>
<text x="1090" y="770.75" font-size="15" text-anchor="middle" fill="#000000">4</text>
<line x1="1125" y1="746.5" x2="1125" y2="755.8" stroke="#000000" stroke-width="1.1"/>
<text x="1125" y="770.75" font-size="15" text-anchor="middle" fill="#000000">5</text>
<line x1="1160" y1="746.5" x2="1160" y2="755.8" stroke="#000000" stroke-width="1.1"/>
<text x="1160" y="770.75" font-size="15" text-anchor="middle" fill="#000000">6</text>
<text x="1056" y="583.5" font-size="18" text-anchor="middle" font-weight="bold" fill="#000000">Optimal cutoff</text>
<text x="1053.5" y="785.75" font-size="15" text-anchor="middle" fill="#000000">-(Normalized Cq)</text>
<text x="1061.75" y="741.25" font-size="15" text-anchor="start" fill="#777777">3.07</text>
<line x1="943" y1="722.5" x2="970" y2="722.5" stroke="#dd1d22" stroke-width="1.5"/>
<line x1="943" y1="736.25" x2="970" y2="736.25" stroke="#1616d0" stroke-width="1.5"/>
<text x="976.5" y="725.25" font-size="12" text-anchor="start" fill="#000000">Sensitivity</text>
<text x="976.5" y="739" font-size="12" text-anchor="start" fill="#000000">Specificity</text>
<clipPath id="c6"><rect x="1226" y="591.5" width="232.5" height="155.5"/></clipPath>
<g clip-path="url(#c6)">
<path d="M1226,705.75 C1227.04,704.62 1230.17,701.08 1232.25,699 C1234.33,696.92 1236.62,694.79 1238.5,693.25 C1240.38,691.71 1241.83,690.71 1243.5,689.75 C1245.17,688.79 1246.83,688.04 1248.5,687.5 C1250.17,686.96 1252.04,686.71 1253.5,686.5 C1254.96,686.29 1255.79,686.12 1257.25,686.25 C1258.71,686.38 1260.38,686.79 1262.25,687.25 C1264.12,687.71 1266.42,688.25 1268.5,689 C1270.58,689.75 1272.67,690.92 1274.75,691.75 C1276.83,692.58 1278.92,693.42 1281,694 C1283.08,694.58 1285.17,694.96 1287.25,695.25 C1289.33,695.54 1291.42,695.83 1293.5,695.75 C1295.58,695.67 1297.67,695.25 1299.75,694.75 C1301.83,694.25 1303.92,693.71 1306,692.75 C1308.08,691.79 1310.17,690.38 1312.25,689 C1314.33,687.62 1316.42,685.96 1318.5,684.5 C1320.58,683.04 1322.67,681.5 1324.75,680.25 C1326.83,679 1329.12,677.79 1331,677 C1332.88,676.21 1334.54,675.79 1336,675.5 C1337.46,675.21 1338.42,675.17 1339.75,675.25 C1341.08,675.33 1342.54,675.58 1344,676 C1345.46,676.42 1346.92,676.88 1348.5,677.75 C1350.08,678.62 1351.83,679.92 1353.5,681.25 C1355.17,682.58 1356.83,684.04 1358.5,685.75 C1360.17,687.46 1362.04,689.83 1363.5,691.5 C1364.96,693.17 1365.58,693.38 1367.25,695.75 C1368.92,698.12 1371.21,702 1373.5,705.75 C1375.79,709.5 1378.5,714.29 1381,718.25 C1383.5,722.21 1386,726.38 1388.5,729.5 C1391,732.62 1394.75,735.75 1396,737 L1396,741 L1226,741 Z" fill="#d9474a" stroke="none"/>
<path d="M1226,705.75 C1227.04,704.62 1230.17,701.08 1232.25,699 C1234.33,696.92 1236.62,694.79 1238.5,693.25 C1240.38,691.71 1241.83,690.71 1243.5,689.75 C1245.17,688.79 1246.83,688.04 1248.5,687.5 C1250.17,686.96 1252.04,686.71 1253.5,686.5 C1254.96,686.29 1255.79,686.12 1257.25,686.25 C1258.71,686.38 1260.38,686.79 1262.25,687.25 C1264.12,687.71 1266.42,688.25 1268.5,689 C1270.58,689.75 1272.67,690.92 1274.75,691.75 C1276.83,692.58 1278.92,693.42 1281,694 C1283.08,694.58 1285.17,694.96 1287.25,695.25 C1289.33,695.54 1291.42,695.83 1293.5,695.75 C1295.58,695.67 1297.67,695.25 1299.75,694.75 C1301.83,694.25 1303.92,693.71 1306,692.75 C1308.08,691.79 1310.17,690.38 1312.25,689 C1314.33,687.62 1316.42,685.96 1318.5,684.5 C1320.58,683.04 1322.67,681.5 1324.75,680.25 C1326.83,679 1329.12,677.79 1331,677 C1332.88,676.21 1334.54,675.79 1336,675.5 C1337.46,675.21 1338.42,675.17 1339.75,675.25 C1341.08,675.33 1342.54,675.58 1344,676 C1345.46,676.42 1346.92,676.88 1348.5,677.75 C1350.08,678.62 1351.83,679.92 1353.5,681.25 C1355.17,682.58 1356.83,684.04 1358.5,685.75 C1360.17,687.46 1362.04,689.83 1363.5,691.5 C1364.96,693.17 1365.58,693.38 1367.25,695.75 C1368.92,698.12 1371.21,702 1373.5,705.75 C1375.79,709.5 1378.5,714.29 1381,718.25 C1383.5,722.21 1386,726.38 1388.5,729.5 C1391,732.62 1394.75,735.75 1396,737" fill="none" stroke="#000000" stroke-width="1" stroke-linejoin="round"/>
<path d="M1316,741.25 C1317.04,741.12 1320.17,740.88 1322.25,740.5 C1324.33,740.12 1326.42,739.83 1328.5,739 C1330.58,738.17 1332.67,736.88 1334.75,735.5 C1336.83,734.12 1338.92,732.38 1341,730.75 C1343.08,729.12 1345.17,727.62 1347.25,725.75 C1349.33,723.88 1351.62,721.79 1353.5,719.5 C1355.38,717.21 1356.83,714.92 1358.5,712 C1360.17,709.08 1362.04,705.33 1363.5,702 C1364.96,698.67 1366,695.75 1367.25,692 C1368.5,688.25 1369.75,683.46 1371,679.5 C1372.25,675.54 1373.5,672 1374.75,668.25 C1376,664.5 1377.25,660 1378.5,657 C1379.75,654 1381,652.12 1382.25,650.25 C1383.5,648.38 1384.75,647.04 1386,645.75 C1387.25,644.46 1388.5,643.54 1389.75,642.5 C1391,641.46 1392.25,640.62 1393.5,639.5 C1394.75,638.38 1396,637.21 1397.25,635.75 C1398.5,634.29 1399.75,632.62 1401,630.75 C1402.25,628.88 1403.5,626.79 1404.75,624.5 C1406,622.21 1407.25,619.29 1408.5,617 C1409.75,614.71 1411,612.62 1412.25,610.75 C1413.5,608.88 1415.04,606.79 1416,605.75 C1416.96,604.71 1417.38,604.75 1418,604.5 C1418.62,604.25 1419.04,604.17 1419.75,604.25 C1420.46,604.33 1421.42,604.54 1422.25,605 C1423.08,605.46 1423.79,605.62 1424.75,607 C1425.71,608.38 1426.96,610.75 1428,613.25 C1429.04,615.75 1429.88,618.25 1431,622 C1432.12,625.75 1433.5,630.75 1434.75,635.75 C1436,640.75 1437.25,646.17 1438.5,652 C1439.75,657.83 1441,664.5 1442.25,670.75 C1443.5,677 1444.75,683.67 1446,689.5 C1447.25,695.33 1448.5,700.75 1449.75,705.75 C1451,710.75 1452.46,716.17 1453.5,719.5 C1454.54,722.83 1455.17,723.88 1456,725.75 C1456.83,727.62 1458.08,729.92 1458.5,730.75 L1458.5,741 L1316,741 Z" fill="#7fb26d" stroke="none"/>
<path d="M1316,741.25 C1317.04,741.12 1320.17,740.88 1322.25,740.5 C1324.33,740.12 1326.42,739.83 1328.5,739 C1330.58,738.17 1332.67,736.88 1334.75,735.5 C1336.83,734.12 1338.92,732.38 1341,730.75 C1343.08,729.12 1345.17,727.62 1347.25,725.75 C1349.33,723.88 1351.62,721.79 1353.5,719.5 C1355.38,717.21 1356.83,714.92 1358.5,712 C1360.17,709.08 1362.04,705.33 1363.5,702 C1364.96,698.67 1366,695.75 1367.25,692 C1368.5,688.25 1369.75,683.46 1371,679.5 C1372.25,675.54 1373.5,672 1374.75,668.25 C1376,664.5 1377.25,660 1378.5,657 C1379.75,654 1381,652.12 1382.25,650.25 C1383.5,648.38 1384.75,647.04 1386,645.75 C1387.25,644.46 1388.5,643.54 1389.75,642.5 C1391,641.46 1392.25,640.62 1393.5,639.5 C1394.75,638.38 1396,637.21 1397.25,635.75 C1398.5,634.29 1399.75,632.62 1401,630.75 C1402.25,628.88 1403.5,626.79 1404.75,624.5 C1406,622.21 1407.25,619.29 1408.5,617 C1409.75,614.71 1411,612.62 1412.25,610.75 C1413.5,608.88 1415.04,606.79 1416,605.75 C1416.96,604.71 1417.38,604.75 1418,604.5 C1418.62,604.25 1419.04,604.17 1419.75,604.25 C1420.46,604.33 1421.42,604.54 1422.25,605 C1423.08,605.46 1423.79,605.62 1424.75,607 C1425.71,608.38 1426.96,610.75 1428,613.25 C1429.04,615.75 1429.88,618.25 1431,622 C1432.12,625.75 1433.5,630.75 1434.75,635.75 C1436,640.75 1437.25,646.17 1438.5,652 C1439.75,657.83 1441,664.5 1442.25,670.75 C1443.5,677 1444.75,683.67 1446,689.5 C1447.25,695.33 1448.5,700.75 1449.75,705.75 C1451,710.75 1452.46,716.17 1453.5,719.5 C1454.54,722.83 1455.17,723.88 1456,725.75 C1456.83,727.62 1458.08,729.92 1458.5,730.75" fill="none" stroke="#000000" stroke-width="1" stroke-linejoin="round"/>
</g>
<line x1="1352.25" y1="591.5" x2="1352.25" y2="747" stroke="#a8a8a8" stroke-width="1.1" stroke-dasharray="4.5 4.5"/>
<rect x="1226" y="591.5" width="232.5" height="155.5" fill="none" stroke="#0a0a0a" stroke-width="1.3"/>
<line x1="1216.7" y1="595.75" x2="1226" y2="595.75" stroke="#000000" stroke-width="1.1"/>
<line x1="1216.7" y1="625.25" x2="1226" y2="625.25" stroke="#000000" stroke-width="1.1"/>
<text x="1214" y="630.55" font-size="15" text-anchor="end" fill="#000000">0.4</text>
<line x1="1216.7" y1="654.25" x2="1226" y2="654.25" stroke="#000000" stroke-width="1.1"/>
<line x1="1216.7" y1="683.25" x2="1226" y2="683.25" stroke="#000000" stroke-width="1.1"/>
<text x="1214" y="688.55" font-size="15" text-anchor="end" fill="#000000">0.2</text>
<line x1="1216.7" y1="712.25" x2="1226" y2="712.25" stroke="#000000" stroke-width="1.1"/>
<line x1="1216.7" y1="741.25" x2="1226" y2="741.25" stroke="#000000" stroke-width="1.1"/>
<text x="1214" y="746.55" font-size="15" text-anchor="end" fill="#000000">0.0</text>
<line x1="1255" y1="747" x2="1255" y2="756.3" stroke="#000000" stroke-width="1.1"/>
<text x="1255" y="771.25" font-size="15" text-anchor="middle" fill="#000000">0</text>
<line x1="1286.75" y1="747" x2="1286.75" y2="756.3" stroke="#000000" stroke-width="1.1"/>
<text x="1286.75" y="771.25" font-size="15" text-anchor="middle" fill="#000000">1</text>
<line x1="1318.5" y1="747" x2="1318.5" y2="756.3" stroke="#000000" stroke-width="1.1"/>
<text x="1318.5" y="771.25" font-size="15" text-anchor="middle" fill="#000000">2</text>
<line x1="1350.25" y1="747" x2="1350.25" y2="756.3" stroke="#000000" stroke-width="1.1"/>
<text x="1350.25" y="771.25" font-size="15" text-anchor="middle" fill="#000000">3</text>
<line x1="1382" y1="747" x2="1382" y2="756.3" stroke="#000000" stroke-width="1.1"/>
<text x="1382" y="771.25" font-size="15" text-anchor="middle" fill="#000000">4</text>
<line x1="1413.75" y1="747" x2="1413.75" y2="756.3" stroke="#000000" stroke-width="1.1"/>
<text x="1413.75" y="771.25" font-size="15" text-anchor="middle" fill="#000000">5</text>
<line x1="1445.5" y1="747" x2="1445.5" y2="756.3" stroke="#000000" stroke-width="1.1"/>
<text x="1445.5" y="771.25" font-size="15" text-anchor="middle" fill="#000000">6</text>
<text x="1348.5" y="581.75" font-size="18" text-anchor="middle" font-weight="bold" fill="#000000">Discriminatory power</text>
<text x="1350.75" y="787.5" font-size="15" text-anchor="middle" fill="#000000">-(Normalized Cq)</text>
<text x="1185.5" y="669.5" font-size="15" text-anchor="middle" fill="#000000" transform="rotate(-90 1185.5 669.5)">Density</text>
<rect x="1230.25" y="600.5" width="23.25" height="6" fill="#d9474a" stroke="#222" stroke-width="0.85"/>
<rect x="1230.25" y="615" width="23.25" height="5.75" fill="#7fb26d" stroke="#222" stroke-width="0.85"/>
<text x="1258.5" y="606.5" font-size="12" text-anchor="start" fill="#000000">Proven/Pribable IA</text>
<text x="1258.5" y="622" font-size="12" text-anchor="start" fill="#000000">Possible IA</text>
<line x1="1517" y1="662.25" x2="1749.5" y2="662.25" stroke="#a8a8a8" stroke-width="1.1" stroke-dasharray="4.5 4.5"/>
<g stroke="#76b062" stroke-width="1.3" fill="#76b062" fill-opacity="0.38"><rect x="1570.9" y="601.25" width="4.2" height="6.5"/></g>
<path d="M1570.9,601.25 L1575.1,607.75 M1575.1,601.25 L1570.9,607.75" stroke="#76b062" stroke-width="1.2" fill="none"/>
<g stroke="#76b062" stroke-width="1.3" fill="#76b062" fill-opacity="0.38"><rect x="1575.4" y="601.25" width="4.2" height="6.5"/></g>
<path d="M1575.4,601.25 L1579.6,607.75 M1579.6,601.25 L1575.4,607.75" stroke="#76b062" stroke-width="1.2" fill="none"/>
<g stroke="#76b062" stroke-width="1.3" fill="#76b062" fill-opacity="0.38"><rect x="1571.65" y="606.75" width="4.2" height="6.5"/></g>
<path d="M1571.65,606.75 L1575.85,613.25 M1575.85,606.75 L1571.65,613.25" stroke="#76b062" stroke-width="1.2" fill="none"/>
<g stroke="#76b062" stroke-width="1.3" fill="#76b062" fill-opacity="0.38"><rect x="1574.15" y="610.75" width="4.2" height="6.5"/></g>
<path d="M1574.15,610.75 L1578.35,617.25 M1578.35,610.75 L1574.15,617.25" stroke="#76b062" stroke-width="1.2" fill="none"/>
<g stroke="#76b062" stroke-width="1.3" fill="#76b062" fill-opacity="0.38"><rect x="1579.15" y="612.5" width="4.2" height="6.5"/></g>
<path d="M1579.15,612.5 L1583.35,619 M1583.35,612.5 L1579.15,619" stroke="#76b062" stroke-width="1.2" fill="none"/>
<g stroke="#76b062" stroke-width="1.3" fill="#76b062" fill-opacity="0.38"><rect x="1571.65" y="613.75" width="4.2" height="6.5"/></g>
<path d="M1571.65,613.75 L1575.85,620.25 M1575.85,613.75 L1571.65,620.25" stroke="#76b062" stroke-width="1.2" fill="none"/>
<g stroke="#76b062" stroke-width="1.3" fill="#76b062" fill-opacity="0.38"><rect x="1575.4" y="617.5" width="4.2" height="6.5"/></g>
<path d="M1575.4,617.5 L1579.6,624 M1579.6,617.5 L1575.4,624" stroke="#76b062" stroke-width="1.2" fill="none"/>
<g stroke="#76b062" stroke-width="1.3" fill="#76b062" fill-opacity="0.38"><rect x="1579.9" y="620.75" width="4.2" height="6.5"/></g>
<path d="M1579.9,620.75 L1584.1,627.25 M1584.1,620.75 L1579.9,627.25" stroke="#76b062" stroke-width="1.2" fill="none"/>
<g stroke="#76b062" stroke-width="1.3" fill="#76b062" fill-opacity="0.38"><rect x="1572.9" y="625" width="4.2" height="6.5"/></g>
<path d="M1572.9,625 L1577.1,631.5 M1577.1,625 L1572.9,631.5" stroke="#76b062" stroke-width="1.2" fill="none"/>
<g stroke="#76b062" stroke-width="1.3" fill="#76b062" fill-opacity="0.38"><rect x="1575.9" y="627.5" width="4.2" height="6.5"/></g>
<path d="M1575.9,627.5 L1580.1,634 M1580.1,627.5 L1575.9,634" stroke="#76b062" stroke-width="1.2" fill="none"/>
<g stroke="#76b062" stroke-width="1.3" fill="#76b062" fill-opacity="0.38"><rect x="1578.65" y="635.5" width="4.2" height="6.5"/></g>
<path d="M1578.65,635.5 L1582.85,642 M1582.85,635.5 L1578.65,642" stroke="#76b062" stroke-width="1.2" fill="none"/>
<g stroke="#76b062" stroke-width="1.3" fill="#76b062" fill-opacity="0.38"><rect x="1578.15" y="640" width="4.2" height="6.5"/></g>
<path d="M1578.15,640 L1582.35,646.5 M1582.35,640 L1578.15,646.5" stroke="#76b062" stroke-width="1.2" fill="none"/>
<g stroke="#76b062" stroke-width="1.3" fill="#76b062" fill-opacity="0.38"><rect x="1571.65" y="640" width="4.2" height="6.5"/></g>
<path d="M1571.65,640 L1575.85,646.5 M1575.85,640 L1571.65,646.5" stroke="#76b062" stroke-width="1.2" fill="none"/>
<g stroke="#76b062" stroke-width="1.3" fill="#76b062" fill-opacity="0.38"><rect x="1571.15" y="644.25" width="4.2" height="6.5"/></g>
<path d="M1571.15,644.25 L1575.35,650.75 M1575.35,644.25 L1571.15,650.75" stroke="#76b062" stroke-width="1.2" fill="none"/>
<g stroke="#76b062" stroke-width="1.3" fill="#76b062" fill-opacity="0.38"><rect x="1574.65" y="659" width="4.2" height="6.5"/></g>
<path d="M1574.65,659 L1578.85,665.5 M1578.85,659 L1574.65,665.5" stroke="#76b062" stroke-width="1.2" fill="none"/>
<g stroke="#d0313a" stroke-width="1.3" fill="#d0313a" fill-opacity="0.38"><rect x="1687.9" y="658.75" width="4.2" height="6.5"/></g>
<path d="M1687.9,658.75 L1692.1,665.25 M1692.1,658.75 L1687.9,665.25" stroke="#d0313a" stroke-width="1.2" fill="none"/>
<g stroke="#d0313a" stroke-width="1.3" fill="#d0313a" fill-opacity="0.38"><rect x="1680.15" y="664" width="4.2" height="6.5"/></g>
<path d="M1680.15,664 L1684.35,670.5 M1684.35,664 L1680.15,670.5" stroke="#d0313a" stroke-width="1.2" fill="none"/>
<g stroke="#d0313a" stroke-width="1.3" fill="#d0313a" fill-opacity="0.38"><rect x="1687.65" y="667.75" width="4.2" height="6.5"/></g>
<path d="M1687.65,667.75 L1691.85,674.25 M1691.85,667.75 L1687.65,674.25" stroke="#d0313a" stroke-width="1.2" fill="none"/>
<g stroke="#d0313a" stroke-width="1.3" fill="#d0313a" fill-opacity="0.38"><rect x="1685.9" y="684.25" width="4.2" height="6.5"/></g>
<path d="M1685.9,684.25 L1690.1,690.75 M1690.1,684.25 L1685.9,690.75" stroke="#d0313a" stroke-width="1.2" fill="none"/>
<g stroke="#d0313a" stroke-width="1.3" fill="#d0313a" fill-opacity="0.38"><rect x="1685.9" y="718.25" width="4.2" height="6.5"/></g>
<path d="M1685.9,718.25 L1690.1,724.75 M1690.1,718.25 L1685.9,724.75" stroke="#d0313a" stroke-width="1.2" fill="none"/>
<g stroke="#d0313a" stroke-width="1.3" fill="#d0313a" fill-opacity="0.38"><rect x="1686.15" y="727" width="4.2" height="6.5"/></g>
<path d="M1686.15,727 L1690.35,733.5 M1690.35,727 L1686.15,733.5" stroke="#d0313a" stroke-width="1.2" fill="none"/>
<g stroke="#d0313a" stroke-width="1.3" fill="#d0313a" fill-opacity="0.38"><rect x="1678.65" y="731.75" width="4.2" height="6.5"/></g>
<path d="M1678.65,731.75 L1682.85,738.25 M1682.85,731.75 L1678.65,738.25" stroke="#d0313a" stroke-width="1.2" fill="none"/>
<rect x="1517" y="591.5" width="232.5" height="155.5" fill="none" stroke="#0a0a0a" stroke-width="1.3"/>
<line x1="1507.7" y1="599.75" x2="1517" y2="599.75" stroke="#000000" stroke-width="1.1"/>
<text x="1503.7" y="604.15" font-size="15" text-anchor="end" fill="#000000">6</text>
<line x1="1507.7" y1="621" x2="1517" y2="621" stroke="#000000" stroke-width="1.1"/>
<text x="1503.7" y="625.4" font-size="15" text-anchor="end" fill="#000000">5</text>
<line x1="1507.7" y1="642.25" x2="1517" y2="642.25" stroke="#000000" stroke-width="1.1"/>
<text x="1503.7" y="646.65" font-size="15" text-anchor="end" fill="#000000">4</text>
<line x1="1507.7" y1="663.75" x2="1517" y2="663.75" stroke="#000000" stroke-width="1.1"/>
<text x="1503.7" y="668.15" font-size="15" text-anchor="end" fill="#000000">3</text>
<line x1="1507.7" y1="684.75" x2="1517" y2="684.75" stroke="#000000" stroke-width="1.1"/>
<text x="1503.7" y="689.15" font-size="15" text-anchor="end" fill="#000000">2</text>
<line x1="1507.7" y1="706" x2="1517" y2="706" stroke="#000000" stroke-width="1.1"/>
<text x="1503.7" y="710.4" font-size="15" text-anchor="end" fill="#000000">1</text>
<line x1="1507.7" y1="727.25" x2="1517" y2="727.25" stroke="#000000" stroke-width="1.1"/>
<text x="1503.7" y="731.65" font-size="15" text-anchor="end" fill="#000000">0</text>
<line x1="1579" y1="747" x2="1579" y2="756.3" stroke="#000000" stroke-width="1.1"/>
<line x1="1687" y1="747" x2="1687" y2="756.3" stroke="#000000" stroke-width="1.1"/>
<text x="1636" y="581.75" font-size="18" text-anchor="middle" font-weight="bold" fill="#000000">Distribution of values</text>
<text x="1486.7" y="669.75" font-size="15" text-anchor="middle" fill="#000000" transform="rotate(-90 1486.7 669.75)">-(Normalized Cq)</text>
<text x="1579.75" y="771.25" font-size="15" text-anchor="middle" fill="#000000">Possible IA</text>
<text x="1691.6" y="771.25" font-size="15" text-anchor="middle" fill="#000000">Proven/Probable</text>
<text x="1691.75" y="789.5" font-size="15" text-anchor="middle" fill="#000000">IA</text>
<text x="461.25" y="818.75" font-size="21" text-anchor="middle" fill="#000000">hsa-miR-106a-5p</text>
<line x1="177.5" y1="854.25" x2="177.5" y2="1009.5" stroke="#a8a8a8" stroke-width="1.1" stroke-dasharray="4.5 4.5"/>
<polyline points="56,983.5 160.5,963 161.25,942.5 163,921.75 167,901.25 177.5,860 271.25,860" fill="none" stroke="#dd1d22" stroke-width="1.5" stroke-linejoin="round" stroke-linecap="butt"/>
<polyline points="56,860 177.5,860 194.5,867.5 203.75,875 227,890 229.5,900 230.5,913 237.5,921.25 240.5,928.75 243.75,944.25 251.25,965.75 258.75,973.75 260,981.25 269.5,996.25 271.25,1003.75" fill="none" stroke="#1616d0" stroke-width="1.5" stroke-linejoin="round" stroke-linecap="butt"/>
<rect x="47.5" y="854.25" width="232.5" height="155.25" fill="none" stroke="#0a0a0a" stroke-width="1.3"/>
<line x1="38.2" y1="860" x2="47.5" y2="860" stroke="#000000" stroke-width="1.1"/>
<line x1="38.2" y1="888.75" x2="47.5" y2="888.75" stroke="#000000" stroke-width="1.1"/>
<text x="34.8" y="894.05" font-size="15" text-anchor="end" fill="#000000">0.8</text>
<line x1="38.2" y1="917.5" x2="47.5" y2="917.5" stroke="#000000" stroke-width="1.1"/>
<line x1="38.2" y1="946.25" x2="47.5" y2="946.25" stroke="#000000" stroke-width="1.1"/>
<text x="34.8" y="951.55" font-size="15" text-anchor="end" fill="#000000">0.4</text>
<line x1="38.2" y1="975" x2="47.5" y2="975" stroke="#000000" stroke-width="1.1"/>
<line x1="38.2" y1="1003.75" x2="47.5" y2="1003.75" stroke="#000000" stroke-width="1.1"/>
<text x="34.8" y="1009.05" font-size="15" text-anchor="end" fill="#000000">0.0</text>
<line x1="71.5" y1="1009.5" x2="71.5" y2="1018.8" stroke="#000000" stroke-width="1.1"/>
<text x="71.5" y="1034.25" font-size="15" text-anchor="middle" fill="#000000">−2</text>
<line x1="108.75" y1="1009.5" x2="108.75" y2="1018.8" stroke="#000000" stroke-width="1.1"/>
<text x="108.75" y="1034.25" font-size="15" text-anchor="middle" fill="#000000">−1</text>
<line x1="145.75" y1="1009.5" x2="145.75" y2="1018.8" stroke="#000000" stroke-width="1.1"/>
<text x="145.75" y="1034.25" font-size="15" text-anchor="middle" fill="#000000">0</text>
<line x1="183" y1="1009.5" x2="183" y2="1018.8" stroke="#000000" stroke-width="1.1"/>
<text x="183" y="1034.25" font-size="15" text-anchor="middle" fill="#000000">1</text>
<line x1="220.25" y1="1009.5" x2="220.25" y2="1018.8" stroke="#000000" stroke-width="1.1"/>
<text x="220.25" y="1034.25" font-size="15" text-anchor="middle" fill="#000000">2</text>
<line x1="257.5" y1="1009.5" x2="257.5" y2="1018.8" stroke="#000000" stroke-width="1.1"/>
<text x="257.5" y="1034.25" font-size="15" text-anchor="middle" fill="#000000">3</text>
<text x="175" y="845.25" font-size="18" text-anchor="middle" font-weight="bold" fill="#000000">Optimal cutoff</text>
<text x="173" y="1049.25" font-size="15" text-anchor="middle" fill="#000000">-(Normalized Cq)</text>
<text x="173.75" y="1003.75" font-size="15" text-anchor="end" fill="#777777">0.85</text>
<line x1="55.5" y1="873.75" x2="82.5" y2="873.75" stroke="#dd1d22" stroke-width="1.5"/>
<line x1="55.5" y1="887.5" x2="82.5" y2="887.5" stroke="#1616d0" stroke-width="1.5"/>
<text x="89" y="876.5" font-size="12" text-anchor="start" fill="#000000">Sensitivity</text>
<text x="89" y="890" font-size="12" text-anchor="start" fill="#000000">Specificity</text>
<clipPath id="c7"><rect x="342.5" y="854.25" width="232.5" height="155.25"/></clipPath>
<g clip-path="url(#c7)">
<path d="M349.5,1003.75 C349.79,1003.46 350.67,1002.83 351.25,1002 C351.83,1001.17 352.46,1000.33 353,998.75 C353.54,997.17 353.96,995.21 354.5,992.5 C355.04,989.79 355.75,985.62 356.25,982.5 C356.75,979.38 357.08,976.25 357.5,973.75 C357.92,971.25 358.38,968.96 358.75,967.5 C359.12,966.04 359.42,965.54 359.75,965 C360.08,964.46 360.38,964.17 360.75,964.25 C361.12,964.33 361.62,964.75 362,965.5 C362.38,966.25 362.58,966.75 363,968.75 C363.42,970.75 364.04,974.38 364.5,977.5 C364.96,980.62 365.29,984.58 365.75,987.5 C366.21,990.42 366.75,992.92 367.25,995 C367.75,997.08 368.25,998.71 368.75,1000 C369.25,1001.29 369.71,1002.12 370.25,1002.75 C370.79,1003.38 359.96,1003.58 372,1003.75 C384.04,1003.92 430.42,1003.96 442.5,1003.75 C454.58,1003.54 443.88,1003.33 444.5,1002.5 C445.12,1001.67 445.67,1001.04 446.25,998.75 C446.83,996.46 447.38,993.54 448,988.75 C448.62,983.96 449.46,977.29 450,970 C450.54,962.71 450.83,953.33 451.25,945 C451.67,936.67 452.08,928.12 452.5,920 C452.92,911.88 453.33,903.33 453.75,896.25 C454.17,889.17 454.58,881.96 455,877.5 C455.42,873.04 455.83,871.25 456.25,869.5 C456.67,867.75 457.08,867 457.5,867 C457.92,867 458.33,867.75 458.75,869.5 C459.17,871.25 459.58,874.08 460,877.5 C460.42,880.92 460.83,885.83 461.25,890 C461.67,894.17 462.08,898.96 462.5,902.5 C462.92,906.04 463.33,908.75 463.75,911.25 C464.17,913.75 464.58,915.75 465,917.5 C465.42,919.25 465.83,920.5 466.25,921.75 C466.67,923 467.08,923.83 467.5,925 C467.92,926.17 468.33,927.08 468.75,928.75 C469.17,930.42 469.58,932.29 470,935 C470.42,937.71 470.83,941.25 471.25,945 C471.67,948.75 472.08,953.54 472.5,957.5 C472.92,961.46 473.33,965 473.75,968.75 C474.17,972.5 474.58,976.67 475,980 C475.42,983.33 475.83,986.25 476.25,988.75 C476.67,991.25 477.08,993.29 477.5,995 C477.92,996.71 478.33,997.96 478.75,999 C479.17,1000.04 479.46,1000.58 480,1001.25 C480.54,1001.92 481.38,1002.58 482,1003 C482.62,1003.42 483.46,1003.62 483.75,1003.75 L483.75,1004 L349.5,1004 Z" fill="#d9474a" stroke="none"/>
<path d="M349.5,1003.75 C349.79,1003.46 350.67,1002.83 351.25,1002 C351.83,1001.17 352.46,1000.33 353,998.75 C353.54,997.17 353.96,995.21 354.5,992.5 C355.04,989.79 355.75,985.62 356.25,982.5 C356.75,979.38 357.08,976.25 357.5,973.75 C357.92,971.25 358.38,968.96 358.75,967.5 C359.12,966.04 359.42,965.54 359.75,965 C360.08,964.46 360.38,964.17 360.75,964.25 C361.12,964.33 361.62,964.75 362,965.5 C362.38,966.25 362.58,966.75 363,968.75 C363.42,970.75 364.04,974.38 364.5,977.5 C364.96,980.62 365.29,984.58 365.75,987.5 C366.21,990.42 366.75,992.92 367.25,995 C367.75,997.08 368.25,998.71 368.75,1000 C369.25,1001.29 369.71,1002.12 370.25,1002.75 C370.79,1003.38 359.96,1003.58 372,1003.75 C384.04,1003.92 430.42,1003.96 442.5,1003.75 C454.58,1003.54 443.88,1003.33 444.5,1002.5 C445.12,1001.67 445.67,1001.04 446.25,998.75 C446.83,996.46 447.38,993.54 448,988.75 C448.62,983.96 449.46,977.29 450,970 C450.54,962.71 450.83,953.33 451.25,945 C451.67,936.67 452.08,928.12 452.5,920 C452.92,911.88 453.33,903.33 453.75,896.25 C454.17,889.17 454.58,881.96 455,877.5 C455.42,873.04 455.83,871.25 456.25,869.5 C456.67,867.75 457.08,867 457.5,867 C457.92,867 458.33,867.75 458.75,869.5 C459.17,871.25 459.58,874.08 460,877.5 C460.42,880.92 460.83,885.83 461.25,890 C461.67,894.17 462.08,898.96 462.5,902.5 C462.92,906.04 463.33,908.75 463.75,911.25 C464.17,913.75 464.58,915.75 465,917.5 C465.42,919.25 465.83,920.5 466.25,921.75 C466.67,923 467.08,923.83 467.5,925 C467.92,926.17 468.33,927.08 468.75,928.75 C469.17,930.42 469.58,932.29 470,935 C470.42,937.71 470.83,941.25 471.25,945 C471.67,948.75 472.08,953.54 472.5,957.5 C472.92,961.46 473.33,965 473.75,968.75 C474.17,972.5 474.58,976.67 475,980 C475.42,983.33 475.83,986.25 476.25,988.75 C476.67,991.25 477.08,993.29 477.5,995 C477.92,996.71 478.33,997.96 478.75,999 C479.17,1000.04 479.46,1000.58 480,1001.25 C480.54,1001.92 481.38,1002.58 482,1003 C482.62,1003.42 483.46,1003.62 483.75,1003.75" fill="none" stroke="#000000" stroke-width="1" stroke-linejoin="round"/>
<path d="M461.25,1003.75 C462.29,1003.58 465.62,1003.17 467.5,1002.75 C469.38,1002.33 470.83,1001.96 472.5,1001.25 C474.17,1000.54 475.83,999.54 477.5,998.5 C479.17,997.46 480.83,996.08 482.5,995 C484.17,993.92 485.83,992.83 487.5,992 C489.17,991.17 491.04,990.5 492.5,990 C493.96,989.5 495,989.33 496.25,989 C497.5,988.67 498.75,988.58 500,988 C501.25,987.42 502.5,986.62 503.75,985.5 C505,984.38 506.25,983 507.5,981.25 C508.75,979.5 510,977.29 511.25,975 C512.5,972.71 513.83,969.79 515,967.5 C516.17,965.21 517.21,963.12 518.25,961.25 C519.29,959.38 520.21,957.58 521.25,956.25 C522.29,954.92 523.46,953.96 524.5,953.25 C525.54,952.54 526.58,952.17 527.5,952 C528.42,951.83 529.17,952.08 530,952.25 C530.83,952.42 531.46,952.33 532.5,953 C533.54,953.67 535,955.08 536.25,956.25 C537.5,957.42 538.54,958.62 540,960 C541.46,961.38 543.33,963.04 545,964.5 C546.67,965.96 548.54,967.21 550,968.75 C551.46,970.29 552.5,971.88 553.75,973.75 C555,975.62 556.25,977.71 557.5,980 C558.75,982.29 560,985.21 561.25,987.5 C562.5,989.79 563.83,992 565,993.75 C566.17,995.5 567.21,996.75 568.25,998 C569.29,999.25 570.12,1000.42 571.25,1001.25 C572.38,1002.08 574.38,1002.71 575,1003 L575,1004 L461.25,1004 Z" fill="#7fb26d" stroke="none"/>
<path d="M461.25,1003.75 C462.29,1003.58 465.62,1003.17 467.5,1002.75 C469.38,1002.33 470.83,1001.96 472.5,1001.25 C474.17,1000.54 475.83,999.54 477.5,998.5 C479.17,997.46 480.83,996.08 482.5,995 C484.17,993.92 485.83,992.83 487.5,992 C489.17,991.17 491.04,990.5 492.5,990 C493.96,989.5 495,989.33 496.25,989 C497.5,988.67 498.75,988.58 500,988 C501.25,987.42 502.5,986.62 503.75,985.5 C505,984.38 506.25,983 507.5,981.25 C508.75,979.5 510,977.29 511.25,975 C512.5,972.71 513.83,969.79 515,967.5 C516.17,965.21 517.21,963.12 518.25,961.25 C519.29,959.38 520.21,957.58 521.25,956.25 C522.29,954.92 523.46,953.96 524.5,953.25 C525.54,952.54 526.58,952.17 527.5,952 C528.42,951.83 529.17,952.08 530,952.25 C530.83,952.42 531.46,952.33 532.5,953 C533.54,953.67 535,955.08 536.25,956.25 C537.5,957.42 538.54,958.62 540,960 C541.46,961.38 543.33,963.04 545,964.5 C546.67,965.96 548.54,967.21 550,968.75 C551.46,970.29 552.5,971.88 553.75,973.75 C555,975.62 556.25,977.71 557.5,980 C558.75,982.29 560,985.21 561.25,987.5 C562.5,989.79 563.83,992 565,993.75 C566.17,995.5 567.21,996.75 568.25,998 C569.29,999.25 570.12,1000.42 571.25,1001.25 C572.38,1002.08 574.38,1002.71 575,1003" fill="none" stroke="#000000" stroke-width="1" stroke-linejoin="round"/>
</g>
<line x1="471.25" y1="854.25" x2="471.25" y2="1009.5" stroke="#a8a8a8" stroke-width="1.1" stroke-dasharray="4.5 4.5"/>
<rect x="342.5" y="854.25" width="232.5" height="155.25" fill="none" stroke="#0a0a0a" stroke-width="1.3"/>
<line x1="333.2" y1="889.25" x2="342.5" y2="889.25" stroke="#000000" stroke-width="1.1"/>
<text x="329.3" y="894.55" font-size="15" text-anchor="end" fill="#000000">1.5</text>
<line x1="333.2" y1="927.25" x2="342.5" y2="927.25" stroke="#000000" stroke-width="1.1"/>
<text x="329.3" y="932.55" font-size="15" text-anchor="end" fill="#000000">1.0</text>
<line x1="333.2" y1="965.75" x2="342.5" y2="965.75" stroke="#000000" stroke-width="1.1"/>
<text x="329.3" y="971.05" font-size="15" text-anchor="end" fill="#000000">0.5</text>
<line x1="333.2" y1="1003.75" x2="342.5" y2="1003.75" stroke="#000000" stroke-width="1.1"/>
<text x="329.3" y="1009.05" font-size="15" text-anchor="end" fill="#000000">0.0</text>
<line x1="375" y1="1009.5" x2="375" y2="1018.8" stroke="#000000" stroke-width="1.1"/>
<text x="375" y="1034.25" font-size="15" text-anchor="middle" fill="#000000">−2</text>
<line x1="408.75" y1="1009.5" x2="408.75" y2="1018.8" stroke="#000000" stroke-width="1.1"/>
<text x="408.75" y="1034.25" font-size="15" text-anchor="middle" fill="#000000">−1</text>
<line x1="442.5" y1="1009.5" x2="442.5" y2="1018.8" stroke="#000000" stroke-width="1.1"/>
<text x="442.5" y="1034.25" font-size="15" text-anchor="middle" fill="#000000">0</text>
<line x1="476.25" y1="1009.5" x2="476.25" y2="1018.8" stroke="#000000" stroke-width="1.1"/>
<text x="476.25" y="1034.25" font-size="15" text-anchor="middle" fill="#000000">1</text>
<line x1="510" y1="1009.5" x2="510" y2="1018.8" stroke="#000000" stroke-width="1.1"/>
<text x="510" y="1034.25" font-size="15" text-anchor="middle" fill="#000000">2</text>
<line x1="543.75" y1="1009.5" x2="543.75" y2="1018.8" stroke="#000000" stroke-width="1.1"/>
<text x="543.75" y="1034.25" font-size="15" text-anchor="middle" fill="#000000">3</text>
<text x="466.25" y="846" font-size="18" text-anchor="middle" font-weight="bold" fill="#000000">Discriminatory power</text>
<text x="467" y="1048" font-size="15" text-anchor="middle" fill="#000000">-(Normalized Cq)</text>
<text x="302.5" y="931.4" font-size="15" text-anchor="middle" fill="#000000" transform="rotate(-90 302.5 931.4)">Density</text>
<rect x="346.25" y="859" width="23" height="6" fill="#d9474a" stroke="#222" stroke-width="0.85"/>
<rect x="346.25" y="874" width="23" height="5.75" fill="#7fb26d" stroke="#222" stroke-width="0.85"/>
<text x="374.5" y="865.5" font-size="12" text-anchor="start" fill="#000000">Proven/Probable IA</text>
<text x="374.5" y="881" font-size="12" text-anchor="start" fill="#000000">Possible IA</text>
<line x1="633.75" y1="923.5" x2="866.5" y2="923.5" stroke="#a8a8a8" stroke-width="1.1" stroke-dasharray="4.5 4.5"/>
<g stroke="#76b062" stroke-width="1.3" fill="#76b062" fill-opacity="0.38"><rect x="687.9" y="863.5" width="4.2" height="6.5"/></g>
<path d="M687.9,863.5 L692.1,870 M692.1,863.5 L687.9,870" stroke="#76b062" stroke-width="1.2" fill="none"/>
<g stroke="#76b062" stroke-width="1.3" fill="#76b062" fill-opacity="0.38"><rect x="696.15" y="864.25" width="4.2" height="6.5"/></g>
<path d="M696.15,864.25 L700.35,870.75 M700.35,864.25 L696.15,870.75" stroke="#76b062" stroke-width="1.2" fill="none"/>
<g stroke="#76b062" stroke-width="1.3" fill="#76b062" fill-opacity="0.38"><rect x="692.15" y="867.5" width="4.2" height="6.5"/></g>
<path d="M692.15,867.5 L696.35,874 M696.35,867.5 L692.15,874" stroke="#76b062" stroke-width="1.2" fill="none"/>
<g stroke="#76b062" stroke-width="1.3" fill="#76b062" fill-opacity="0.38"><rect x="688.65" y="870.5" width="4.2" height="6.5"/></g>
<path d="M688.65,870.5 L692.85,877 M692.85,870.5 L688.65,877" stroke="#76b062" stroke-width="1.2" fill="none"/>
<g stroke="#76b062" stroke-width="1.3" fill="#76b062" fill-opacity="0.38"><rect x="692.9" y="873" width="4.2" height="6.5"/></g>
<path d="M692.9,873 L697.1,879.5 M697.1,873 L692.9,879.5" stroke="#76b062" stroke-width="1.2" fill="none"/>
<g stroke="#76b062" stroke-width="1.3" fill="#76b062" fill-opacity="0.38"><rect x="689.9" y="876.75" width="4.2" height="6.5"/></g>
<path d="M689.9,876.75 L694.1,883.25 M694.1,876.75 L689.9,883.25" stroke="#76b062" stroke-width="1.2" fill="none"/>
<g stroke="#76b062" stroke-width="1.3" fill="#76b062" fill-opacity="0.38"><rect x="691.65" y="880.5" width="4.2" height="6.5"/></g>
<path d="M691.65,880.5 L695.85,887 M695.85,880.5 L691.65,887" stroke="#76b062" stroke-width="1.2" fill="none"/>
<g stroke="#76b062" stroke-width="1.3" fill="#76b062" fill-opacity="0.38"><rect x="696.65" y="881.25" width="4.2" height="6.5"/></g>
<path d="M696.65,881.25 L700.85,887.75 M700.85,881.25 L696.65,887.75" stroke="#76b062" stroke-width="1.2" fill="none"/>
<g stroke="#76b062" stroke-width="1.3" fill="#76b062" fill-opacity="0.38"><rect x="694.15" y="884.75" width="4.2" height="6.5"/></g>
<path d="M694.15,884.75 L698.35,891.25 M698.35,884.75 L694.15,891.25" stroke="#76b062" stroke-width="1.2" fill="none"/>
<g stroke="#76b062" stroke-width="1.3" fill="#76b062" fill-opacity="0.38"><rect x="695.9" y="888.75" width="4.2" height="6.5"/></g>
<path d="M695.9,888.75 L700.1,895.25 M700.1,888.75 L695.9,895.25" stroke="#76b062" stroke-width="1.2" fill="none"/>
<g stroke="#76b062" stroke-width="1.3" fill="#76b062" fill-opacity="0.38"><rect x="689.65" y="890" width="4.2" height="6.5"/></g>
<path d="M689.65,890 L693.85,896.5 M693.85,890 L689.65,896.5" stroke="#76b062" stroke-width="1.2" fill="none"/>
<g stroke="#76b062" stroke-width="1.3" fill="#76b062" fill-opacity="0.38"><rect x="692.15" y="897.25" width="4.2" height="6.5"/></g>
<path d="M692.15,897.25 L696.35,903.75 M696.35,897.25 L692.15,903.75" stroke="#76b062" stroke-width="1.2" fill="none"/>
<g stroke="#76b062" stroke-width="1.3" fill="#76b062" fill-opacity="0.38"><rect x="688.4" y="903.75" width="4.2" height="6.5"/></g>
<path d="M688.4,903.75 L692.6,910.25 M692.6,903.75 L688.4,910.25" stroke="#76b062" stroke-width="1.2" fill="none"/>
<g stroke="#76b062" stroke-width="1.3" fill="#76b062" fill-opacity="0.38"><rect x="688.65" y="908" width="4.2" height="6.5"/></g>
<path d="M688.65,908 L692.85,914.5 M692.85,908 L688.65,914.5" stroke="#76b062" stroke-width="1.2" fill="none"/>
<g stroke="#76b062" stroke-width="1.3" fill="#76b062" fill-opacity="0.38"><rect x="688.65" y="910.5" width="4.2" height="6.5"/></g>
<path d="M688.65,910.5 L692.85,917 M692.85,910.5 L688.65,917" stroke="#76b062" stroke-width="1.2" fill="none"/>
<g stroke="#d0313a" stroke-width="1.3" fill="#d0313a" fill-opacity="0.38"><rect x="797.15" y="920.25" width="4.2" height="6.5"/></g>
<path d="M797.15,920.25 L801.35,926.75 M801.35,920.25 L797.15,926.75" stroke="#d0313a" stroke-width="1.2" fill="none"/>
<g stroke="#d0313a" stroke-width="1.3" fill="#d0313a" fill-opacity="0.38"><rect x="802.9" y="923" width="4.2" height="6.5"/></g>
<path d="M802.9,923 L807.1,929.5 M807.1,923 L802.9,929.5" stroke="#d0313a" stroke-width="1.2" fill="none"/>
<g stroke="#d0313a" stroke-width="1.3" fill="#d0313a" fill-opacity="0.38"><rect x="804.9" y="929.25" width="4.2" height="6.5"/></g>
<path d="M804.9,929.25 L809.1,935.75 M809.1,929.25 L804.9,935.75" stroke="#d0313a" stroke-width="1.2" fill="none"/>
<g stroke="#d0313a" stroke-width="1.3" fill="#d0313a" fill-opacity="0.38"><rect x="795.65" y="930" width="4.2" height="6.5"/></g>
<path d="M795.65,930 L799.85,936.5 M799.85,930 L795.65,936.5" stroke="#d0313a" stroke-width="1.2" fill="none"/>
<g stroke="#d0313a" stroke-width="1.3" fill="#d0313a" fill-opacity="0.38"><rect x="802.4" y="993.75" width="4.2" height="6.5"/></g>
<path d="M802.4,993.75 L806.6,1000.25 M806.6,993.75 L802.4,1000.25" stroke="#d0313a" stroke-width="1.2" fill="none"/>
<rect x="633.75" y="854.25" width="232.75" height="155.25" fill="none" stroke="#0a0a0a" stroke-width="1.3"/>
<line x1="624.45" y1="874.75" x2="633.75" y2="874.75" stroke="#000000" stroke-width="1.1"/>
<text x="620.45" y="879.15" font-size="15" text-anchor="end" fill="#000000">3</text>
<line x1="624.45" y1="897.25" x2="633.75" y2="897.25" stroke="#000000" stroke-width="1.1"/>
<text x="620.45" y="901.65" font-size="15" text-anchor="end" fill="#000000">2</text>
<line x1="624.45" y1="920" x2="633.75" y2="920" stroke="#000000" stroke-width="1.1"/>
<text x="620.45" y="924.4" font-size="15" text-anchor="end" fill="#000000">1</text>
<line x1="624.45" y1="942.5" x2="633.75" y2="942.5" stroke="#000000" stroke-width="1.1"/>
<text x="620.45" y="946.9" font-size="15" text-anchor="end" fill="#000000">0</text>
<line x1="624.45" y1="965.25" x2="633.75" y2="965.25" stroke="#000000" stroke-width="1.1"/>
<line x1="624.45" y1="987.75" x2="633.75" y2="987.75" stroke="#000000" stroke-width="1.1"/>
<text x="620.45" y="992.15" font-size="15" text-anchor="end" fill="#000000">−2</text>
<line x1="695.75" y1="1009.5" x2="695.75" y2="1018.8" stroke="#000000" stroke-width="1.1"/>
<line x1="803.75" y1="1009.5" x2="803.75" y2="1018.8" stroke="#000000" stroke-width="1.1"/>
<text x="753.25" y="846" font-size="18" text-anchor="middle" font-weight="bold" fill="#000000">Distribution of values</text>
<text x="605.2" y="931.25" font-size="15" text-anchor="middle" fill="#000000" transform="rotate(-90 605.2 931.25)">-(Normalized Cq)</text>
<text x="695" y="1034.25" font-size="15" text-anchor="middle" fill="#000000">Possible IA</text>
<text x="807.9" y="1034.25" font-size="15" text-anchor="middle" fill="#000000">Proven/Probable</text>
<text x="810" y="1052.5" font-size="15" text-anchor="middle" fill="#000000">IA</text>
<text x="1343.5" y="818.75" font-size="21" text-anchor="middle" fill="#000000">hsa-miR-17-5p</text>
<line x1="1080.75" y1="854.25" x2="1080.75" y2="1009.5" stroke="#a8a8a8" stroke-width="1.1" stroke-dasharray="4.5 4.5"/>
<polyline points="940.5,983.5 973,963 986.75,942.5 1034.75,922 1074.75,901.25 1076,880.75 1079.75,880.75 1080.75,860 1155.5,860" fill="none" stroke="#dd1d22" stroke-width="1.5" stroke-linejoin="round" stroke-linecap="butt"/>
<polyline points="940.5,860 1076,860 1079.75,867.5 1088,875 1091,882.5 1101,890 1106,897.5 1108.5,905 1114.75,913 1117.25,927.5 1119.75,935 1124.75,943.25 1127.25,955 1129.75,966.25 1140.5,981.25 1143,996.25 1155.5,1003.75" fill="none" stroke="#1616d0" stroke-width="1.5" stroke-linejoin="round" stroke-linecap="butt"/>
<rect x="931.5" y="854.25" width="232.75" height="155.25" fill="none" stroke="#0a0a0a" stroke-width="1.3"/>
<line x1="922.2" y1="860" x2="931.5" y2="860" stroke="#000000" stroke-width="1.1"/>
<line x1="922.2" y1="888.75" x2="931.5" y2="888.75" stroke="#000000" stroke-width="1.1"/>
<text x="919" y="894.05" font-size="15" text-anchor="end" fill="#000000">0.8</text>
<line x1="922.2" y1="917.5" x2="931.5" y2="917.5" stroke="#000000" stroke-width="1.1"/>
<line x1="922.2" y1="946.25" x2="931.5" y2="946.25" stroke="#000000" stroke-width="1.1"/>
<text x="919" y="951.55" font-size="15" text-anchor="end" fill="#000000">0.4</text>
<line x1="922.2" y1="975" x2="931.5" y2="975" stroke="#000000" stroke-width="1.1"/>
<line x1="922.2" y1="1003.75" x2="931.5" y2="1003.75" stroke="#000000" stroke-width="1.1"/>
<text x="919" y="1009.05" font-size="15" text-anchor="end" fill="#000000">0.0</text>
<line x1="975.75" y1="1009.5" x2="975.75" y2="1018.8" stroke="#000000" stroke-width="1.1"/>
<text x="975.75" y="1034.25" font-size="15" text-anchor="middle" fill="#000000">0</text>
<line x1="1033.5" y1="1009.5" x2="1033.5" y2="1018.8" stroke="#000000" stroke-width="1.1"/>
<text x="1033.5" y="1034.25" font-size="15" text-anchor="middle" fill="#000000">2</text>
<line x1="1091" y1="1009.5" x2="1091" y2="1018.8" stroke="#000000" stroke-width="1.1"/>
<text x="1091" y="1034.25" font-size="15" text-anchor="middle" fill="#000000">4</text>
<line x1="1148.75" y1="1009.5" x2="1148.75" y2="1018.8" stroke="#000000" stroke-width="1.1"/>
<text x="1148.75" y="1034.25" font-size="15" text-anchor="middle" fill="#000000">6</text>
<text x="1055.5" y="845.25" font-size="18" text-anchor="middle" font-weight="bold" fill="#000000">Optimal cutoff</text>
<text x="1053" y="1049.25" font-size="15" text-anchor="middle" fill="#000000">-(Normalized Cq)</text>
<text x="1086" y="1003.75" font-size="15" text-anchor="start" fill="#777777">3.64</text>
<line x1="938.5" y1="873.75" x2="966" y2="873.75" stroke="#dd1d22" stroke-width="1.5"/>
<line x1="938.5" y1="887.5" x2="966" y2="887.5" stroke="#1616d0" stroke-width="1.5"/>
<text x="971.75" y="876.5" font-size="12" text-anchor="start" fill="#000000">Sensitivity</text>
<text x="971.75" y="890" font-size="12" text-anchor="start" fill="#000000">Specificity</text>
<clipPath id="c8"><rect x="1226" y="853.5" width="232.5" height="154.75"/></clipPath>
<g clip-path="url(#c8)">
<path d="M1226,986.75 C1227.25,986.08 1231,984.08 1233.5,982.75 C1236,981.42 1238.71,979.92 1241,978.75 C1243.29,977.58 1245.17,976.71 1247.25,975.75 C1249.33,974.79 1251.42,973.79 1253.5,973 C1255.58,972.21 1257.67,971.58 1259.75,971 C1261.83,970.42 1263.92,969.88 1266,969.5 C1268.08,969.12 1270.17,968.96 1272.25,968.75 C1274.33,968.54 1276.42,968.29 1278.5,968.25 C1280.58,968.21 1282.67,968.42 1284.75,968.5 C1286.83,968.58 1288.71,968.67 1291,968.75 C1293.29,968.83 1296,968.92 1298.5,969 C1301,969.08 1303.5,969.33 1306,969.25 C1308.5,969.17 1311,968.79 1313.5,968.5 C1316,968.21 1318.5,967.96 1321,967.5 C1323.5,967.04 1326,966.38 1328.5,965.75 C1331,965.12 1333.71,964.42 1336,963.75 C1338.29,963.08 1340.17,962.38 1342.25,961.75 C1344.33,961.12 1346.62,960.42 1348.5,960 C1350.38,959.58 1351.83,959.46 1353.5,959.25 C1355.17,959.04 1357.04,958.79 1358.5,958.75 C1359.96,958.71 1361,958.88 1362.25,959 C1363.5,959.12 1364.88,959.25 1366,959.5 C1367.12,959.75 1367.96,960.08 1369,960.5 C1370.04,960.92 1370.67,960.42 1372.25,962 C1373.83,963.58 1376.21,966.58 1378.5,970 C1380.79,973.42 1383.5,978.75 1386,982.5 C1388.5,986.25 1390.58,989.58 1393.5,992.5 C1396.42,995.42 1401.83,998.75 1403.5,1000 L1403.5,1003 L1226,1003 Z" fill="#d9474a" stroke="none"/>
<path d="M1226,986.75 C1227.25,986.08 1231,984.08 1233.5,982.75 C1236,981.42 1238.71,979.92 1241,978.75 C1243.29,977.58 1245.17,976.71 1247.25,975.75 C1249.33,974.79 1251.42,973.79 1253.5,973 C1255.58,972.21 1257.67,971.58 1259.75,971 C1261.83,970.42 1263.92,969.88 1266,969.5 C1268.08,969.12 1270.17,968.96 1272.25,968.75 C1274.33,968.54 1276.42,968.29 1278.5,968.25 C1280.58,968.21 1282.67,968.42 1284.75,968.5 C1286.83,968.58 1288.71,968.67 1291,968.75 C1293.29,968.83 1296,968.92 1298.5,969 C1301,969.08 1303.5,969.33 1306,969.25 C1308.5,969.17 1311,968.79 1313.5,968.5 C1316,968.21 1318.5,967.96 1321,967.5 C1323.5,967.04 1326,966.38 1328.5,965.75 C1331,965.12 1333.71,964.42 1336,963.75 C1338.29,963.08 1340.17,962.38 1342.25,961.75 C1344.33,961.12 1346.62,960.42 1348.5,960 C1350.38,959.58 1351.83,959.46 1353.5,959.25 C1355.17,959.04 1357.04,958.79 1358.5,958.75 C1359.96,958.71 1361,958.88 1362.25,959 C1363.5,959.12 1364.88,959.25 1366,959.5 C1367.12,959.75 1367.96,960.08 1369,960.5 C1370.04,960.92 1370.67,960.42 1372.25,962 C1373.83,963.58 1376.21,966.58 1378.5,970 C1380.79,973.42 1383.5,978.75 1386,982.5 C1388.5,986.25 1390.58,989.58 1393.5,992.5 C1396.42,995.42 1401.83,998.75 1403.5,1000" fill="none" stroke="#000000" stroke-width="1" stroke-linejoin="round"/>
<path d="M1344.75,1002.75 C1345.38,1002.62 1347.25,1002.38 1348.5,1002 C1349.75,1001.62 1351.08,1001.25 1352.25,1000.5 C1353.42,999.75 1354.46,998.83 1355.5,997.5 C1356.54,996.17 1357.58,994.29 1358.5,992.5 C1359.42,990.71 1360.17,988.83 1361,986.75 C1361.83,984.67 1362.67,982.38 1363.5,980 C1364.33,977.62 1365.17,975 1366,972.5 C1366.83,970 1367.67,967.38 1368.5,965 C1369.33,962.62 1370.17,960.33 1371,958.25 C1371.83,956.17 1372.67,954.12 1373.5,952.5 C1374.33,950.88 1375.17,949.75 1376,948.5 C1376.83,947.25 1377.46,946.33 1378.5,945 C1379.54,943.67 1381,942.17 1382.25,940.5 C1383.5,938.83 1384.96,937.38 1386,935 C1387.04,932.62 1387.67,929.58 1388.5,926.25 C1389.33,922.92 1390.17,918.75 1391,915 C1391.83,911.25 1392.67,907.5 1393.5,903.75 C1394.33,900 1395.08,896.04 1396,892.5 C1396.92,888.96 1397.96,885.62 1399,882.5 C1400.04,879.38 1401.29,875.92 1402.25,873.75 C1403.21,871.58 1403.92,870.67 1404.75,869.5 C1405.58,868.33 1406.42,867.38 1407.25,866.75 C1408.08,866.12 1409,865.79 1409.75,865.75 C1410.5,865.71 1411.12,866.12 1411.75,866.5 C1412.38,866.88 1412.79,867.08 1413.5,868 C1414.21,868.92 1415.17,870.42 1416,872 C1416.83,873.58 1417.46,874.5 1418.5,877.5 C1419.54,880.5 1421,885.42 1422.25,890 C1423.5,894.58 1424.75,899.58 1426,905 C1427.25,910.42 1428.5,916.67 1429.75,922.5 C1431,928.33 1432.25,934.25 1433.5,940 C1434.75,945.75 1436,951.58 1437.25,957 C1438.5,962.42 1439.75,968.04 1441,972.5 C1442.25,976.96 1443.5,980.42 1444.75,983.75 C1446,987.08 1447.04,990 1448.5,992.5 C1449.96,995 1451.83,997.25 1453.5,998.75 C1455.17,1000.25 1457.67,1001.04 1458.5,1001.5 L1458.5,1003 L1344.75,1003 Z" fill="#7fb26d" stroke="none"/>
<path d="M1344.75,1002.75 C1345.38,1002.62 1347.25,1002.38 1348.5,1002 C1349.75,1001.62 1351.08,1001.25 1352.25,1000.5 C1353.42,999.75 1354.46,998.83 1355.5,997.5 C1356.54,996.17 1357.58,994.29 1358.5,992.5 C1359.42,990.71 1360.17,988.83 1361,986.75 C1361.83,984.67 1362.67,982.38 1363.5,980 C1364.33,977.62 1365.17,975 1366,972.5 C1366.83,970 1367.67,967.38 1368.5,965 C1369.33,962.62 1370.17,960.33 1371,958.25 C1371.83,956.17 1372.67,954.12 1373.5,952.5 C1374.33,950.88 1375.17,949.75 1376,948.5 C1376.83,947.25 1377.46,946.33 1378.5,945 C1379.54,943.67 1381,942.17 1382.25,940.5 C1383.5,938.83 1384.96,937.38 1386,935 C1387.04,932.62 1387.67,929.58 1388.5,926.25 C1389.33,922.92 1390.17,918.75 1391,915 C1391.83,911.25 1392.67,907.5 1393.5,903.75 C1394.33,900 1395.08,896.04 1396,892.5 C1396.92,888.96 1397.96,885.62 1399,882.5 C1400.04,879.38 1401.29,875.92 1402.25,873.75 C1403.21,871.58 1403.92,870.67 1404.75,869.5 C1405.58,868.33 1406.42,867.38 1407.25,866.75 C1408.08,866.12 1409,865.79 1409.75,865.75 C1410.5,865.71 1411.12,866.12 1411.75,866.5 C1412.38,866.88 1412.79,867.08 1413.5,868 C1414.21,868.92 1415.17,870.42 1416,872 C1416.83,873.58 1417.46,874.5 1418.5,877.5 C1419.54,880.5 1421,885.42 1422.25,890 C1423.5,894.58 1424.75,899.58 1426,905 C1427.25,910.42 1428.5,916.67 1429.75,922.5 C1431,928.33 1432.25,934.25 1433.5,940 C1434.75,945.75 1436,951.58 1437.25,957 C1438.5,962.42 1439.75,968.04 1441,972.5 C1442.25,976.96 1443.5,980.42 1444.75,983.75 C1446,987.08 1447.04,990 1448.5,992.5 C1449.96,995 1451.83,997.25 1453.5,998.75 C1455.17,1000.25 1457.67,1001.04 1458.5,1001.5" fill="none" stroke="#000000" stroke-width="1" stroke-linejoin="round"/>
</g>
<line x1="1372.25" y1="853.5" x2="1372.25" y2="1008.25" stroke="#a8a8a8" stroke-width="1.1" stroke-dasharray="4.5 4.5"/>
<rect x="1226" y="853.5" width="232.5" height="154.75" fill="none" stroke="#0a0a0a" stroke-width="1.3"/>
<line x1="1216.7" y1="874.5" x2="1226" y2="874.5" stroke="#000000" stroke-width="1.1"/>
<line x1="1216.7" y1="900.25" x2="1226" y2="900.25" stroke="#000000" stroke-width="1.1"/>
<text x="1213.3" y="905.55" font-size="15" text-anchor="end" fill="#000000">0.4</text>
<line x1="1216.7" y1="925.75" x2="1226" y2="925.75" stroke="#000000" stroke-width="1.1"/>
<line x1="1216.7" y1="951.5" x2="1226" y2="951.5" stroke="#000000" stroke-width="1.1"/>
<text x="1213.3" y="956.8" font-size="15" text-anchor="end" fill="#000000">0.2</text>
<line x1="1216.7" y1="977" x2="1226" y2="977" stroke="#000000" stroke-width="1.1"/>
<line x1="1216.7" y1="1002.75" x2="1226" y2="1002.75" stroke="#000000" stroke-width="1.1"/>
<text x="1213.3" y="1008.05" font-size="15" text-anchor="end" fill="#000000">0.0</text>
<line x1="1276.5" y1="1008.25" x2="1276.5" y2="1017.55" stroke="#000000" stroke-width="1.1"/>
<text x="1276.5" y="1032.5" font-size="15" text-anchor="middle" fill="#000000">0</text>
<line x1="1328.75" y1="1008.25" x2="1328.75" y2="1017.55" stroke="#000000" stroke-width="1.1"/>
<text x="1328.75" y="1032.5" font-size="15" text-anchor="middle" fill="#000000">2</text>
<line x1="1381.25" y1="1008.25" x2="1381.25" y2="1017.55" stroke="#000000" stroke-width="1.1"/>
<text x="1381.25" y="1032.5" font-size="15" text-anchor="middle" fill="#000000">4</text>
<line x1="1433.5" y1="1008.25" x2="1433.5" y2="1017.55" stroke="#000000" stroke-width="1.1"/>
<text x="1433.5" y="1032.5" font-size="15" text-anchor="middle" fill="#000000">6</text>
<text x="1349.75" y="845.25" font-size="18" text-anchor="middle" font-weight="bold" fill="#000000">Discriminatory power</text>
<text x="1353.5" y="1049.25" font-size="15" text-anchor="middle" fill="#000000">-(Normalized Cq)</text>
<text x="1185.5" y="930.6" font-size="15" text-anchor="middle" fill="#000000" transform="rotate(-90 1185.5 930.6)">Density</text>
<rect x="1233" y="863.75" width="23" height="5.75" fill="#d9474a" stroke="#222" stroke-width="0.85"/>
<rect x="1233" y="878.25" width="23" height="5.5" fill="#7fb26d" stroke="#222" stroke-width="0.85"/>
<text x="1261.5" y="869.5" font-size="12" text-anchor="start" fill="#000000">Proven/Probabale IA</text>
<text x="1261.5" y="885" font-size="12" text-anchor="start" fill="#000000">Possible IA</text>
<line x1="1517" y1="910.75" x2="1749.5" y2="910.75" stroke="#a8a8a8" stroke-width="1.1" stroke-dasharray="4.5 4.5"/>
<g stroke="#76b062" stroke-width="1.3" fill="#76b062" fill-opacity="0.38"><rect x="1570.65" y="862.5" width="4.2" height="6.5"/></g>
<path d="M1570.65,862.5 L1574.85,869 M1574.85,862.5 L1570.65,869" stroke="#76b062" stroke-width="1.2" fill="none"/>
<g stroke="#76b062" stroke-width="1.3" fill="#76b062" fill-opacity="0.38"><rect x="1571.65" y="870" width="4.2" height="6.5"/></g>
<path d="M1571.65,870 L1575.85,876.5 M1575.85,870 L1571.65,876.5" stroke="#76b062" stroke-width="1.2" fill="none"/>
<g stroke="#76b062" stroke-width="1.3" fill="#76b062" fill-opacity="0.38"><rect x="1579.15" y="870" width="4.2" height="6.5"/></g>
<path d="M1579.15,870 L1583.35,876.5 M1583.35,870 L1579.15,876.5" stroke="#76b062" stroke-width="1.2" fill="none"/>
<g stroke="#76b062" stroke-width="1.3" fill="#76b062" fill-opacity="0.38"><rect x="1575.4" y="873" width="4.2" height="6.5"/></g>
<path d="M1575.4,873 L1579.6,879.5 M1579.6,873 L1575.4,879.5" stroke="#76b062" stroke-width="1.2" fill="none"/>
<g stroke="#76b062" stroke-width="1.3" fill="#76b062" fill-opacity="0.38"><rect x="1573.65" y="878" width="4.2" height="6.5"/></g>
<path d="M1573.65,878 L1577.85,884.5 M1577.85,878 L1573.65,884.5" stroke="#76b062" stroke-width="1.2" fill="none"/>
<g stroke="#76b062" stroke-width="1.3" fill="#76b062" fill-opacity="0.38"><rect x="1575.4" y="880.5" width="4.2" height="6.5"/></g>
<path d="M1575.4,880.5 L1579.6,887 M1579.6,880.5 L1575.4,887" stroke="#76b062" stroke-width="1.2" fill="none"/>
<g stroke="#76b062" stroke-width="1.3" fill="#76b062" fill-opacity="0.38"><rect x="1572.15" y="883" width="4.2" height="6.5"/></g>
<path d="M1572.15,883 L1576.35,889.5 M1576.35,883 L1572.15,889.5" stroke="#76b062" stroke-width="1.2" fill="none"/>
<g stroke="#76b062" stroke-width="1.3" fill="#76b062" fill-opacity="0.38"><rect x="1576.15" y="884.25" width="4.2" height="6.5"/></g>
<path d="M1576.15,884.25 L1580.35,890.75 M1580.35,884.25 L1576.15,890.75" stroke="#76b062" stroke-width="1.2" fill="none"/>
<g stroke="#76b062" stroke-width="1.3" fill="#76b062" fill-opacity="0.38"><rect x="1579.9" y="885.5" width="4.2" height="6.5"/></g>
<path d="M1579.9,885.5 L1584.1,892 M1584.1,885.5 L1579.9,892" stroke="#76b062" stroke-width="1.2" fill="none"/>
<g stroke="#76b062" stroke-width="1.3" fill="#76b062" fill-opacity="0.38"><rect x="1574.15" y="886.75" width="4.2" height="6.5"/></g>
<path d="M1574.15,886.75 L1578.35,893.25 M1578.35,886.75 L1574.15,893.25" stroke="#76b062" stroke-width="1.2" fill="none"/>
<g stroke="#76b062" stroke-width="1.3" fill="#76b062" fill-opacity="0.38"><rect x="1578.4" y="891.25" width="4.2" height="6.5"/></g>
<path d="M1578.4,891.25 L1582.6,897.75 M1582.6,891.25 L1578.4,897.75" stroke="#76b062" stroke-width="1.2" fill="none"/>
<g stroke="#76b062" stroke-width="1.3" fill="#76b062" fill-opacity="0.38"><rect x="1571.65" y="894.75" width="4.2" height="6.5"/></g>
<path d="M1571.65,894.75 L1575.85,901.25 M1575.85,894.75 L1571.65,901.25" stroke="#76b062" stroke-width="1.2" fill="none"/>
<g stroke="#76b062" stroke-width="1.3" fill="#76b062" fill-opacity="0.38"><rect x="1571.65" y="900.5" width="4.2" height="6.5"/></g>
<path d="M1571.65,900.5 L1575.85,907 M1575.85,900.5 L1571.65,907" stroke="#76b062" stroke-width="1.2" fill="none"/>
<g stroke="#76b062" stroke-width="1.3" fill="#76b062" fill-opacity="0.38"><rect x="1578.65" y="903" width="4.2" height="6.5"/></g>
<path d="M1578.65,903 L1582.85,909.5 M1582.85,903 L1578.65,909.5" stroke="#76b062" stroke-width="1.2" fill="none"/>
<g stroke="#76b062" stroke-width="1.3" fill="#76b062" fill-opacity="0.38"><rect x="1574.65" y="908.5" width="4.2" height="6.5"/></g>
<path d="M1574.65,908.5 L1578.85,915 M1578.85,908.5 L1574.65,915" stroke="#76b062" stroke-width="1.2" fill="none"/>
<g stroke="#d0313a" stroke-width="1.3" fill="#d0313a" fill-opacity="0.38"><rect x="1687.9" y="907.25" width="4.2" height="6.5"/></g>
<path d="M1687.9,907.25 L1692.1,913.75 M1692.1,907.25 L1687.9,913.75" stroke="#d0313a" stroke-width="1.2" fill="none"/>
<g stroke="#d0313a" stroke-width="1.3" fill="#d0313a" fill-opacity="0.38"><rect x="1680.15" y="911.25" width="4.2" height="6.5"/></g>
<path d="M1680.15,911.25 L1684.35,917.75 M1684.35,911.25 L1680.15,917.75" stroke="#d0313a" stroke-width="1.2" fill="none"/>
<g stroke="#d0313a" stroke-width="1.3" fill="#d0313a" fill-opacity="0.38"><rect x="1687.65" y="911.25" width="4.2" height="6.5"/></g>
<path d="M1687.65,911.25 L1691.85,917.75 M1691.85,911.25 L1687.65,917.75" stroke="#d0313a" stroke-width="1.2" fill="none"/>
<g stroke="#d0313a" stroke-width="1.3" fill="#d0313a" fill-opacity="0.38"><rect x="1686.15" y="935.25" width="4.2" height="6.5"/></g>
<path d="M1686.15,935.25 L1690.35,941.75 M1690.35,935.25 L1686.15,941.75" stroke="#d0313a" stroke-width="1.2" fill="none"/>
<g stroke="#d0313a" stroke-width="1.3" fill="#d0313a" fill-opacity="0.38"><rect x="1686.15" y="964.75" width="4.2" height="6.5"/></g>
<path d="M1686.15,964.75 L1690.35,971.25 M1690.35,964.75 L1686.15,971.25" stroke="#d0313a" stroke-width="1.2" fill="none"/>
<g stroke="#d0313a" stroke-width="1.3" fill="#d0313a" fill-opacity="0.38"><rect x="1678.65" y="972.75" width="4.2" height="6.5"/></g>
<path d="M1678.65,972.75 L1682.85,979.25 M1682.85,972.75 L1678.65,979.25" stroke="#d0313a" stroke-width="1.2" fill="none"/>
<g stroke="#d0313a" stroke-width="1.3" fill="#d0313a" fill-opacity="0.38"><rect x="1685.65" y="993" width="4.2" height="6.5"/></g>
<path d="M1685.65,993 L1689.85,999.5 M1689.85,993 L1685.65,999.5" stroke="#d0313a" stroke-width="1.2" fill="none"/>
<rect x="1517" y="853.5" width="232.5" height="154.75" fill="none" stroke="#0a0a0a" stroke-width="1.3"/>
<line x1="1507.7" y1="869.25" x2="1517" y2="869.25" stroke="#000000" stroke-width="1.1"/>
<text x="1503.7" y="873.65" font-size="15" text-anchor="end" fill="#000000">6</text>
<line x1="1507.7" y1="904.25" x2="1517" y2="904.25" stroke="#000000" stroke-width="1.1"/>
<text x="1503.7" y="908.65" font-size="15" text-anchor="end" fill="#000000">4</text>
<line x1="1507.7" y1="939.5" x2="1517" y2="939.5" stroke="#000000" stroke-width="1.1"/>
<text x="1503.7" y="943.9" font-size="15" text-anchor="end" fill="#000000">2</text>
<line x1="1507.7" y1="974.5" x2="1517" y2="974.5" stroke="#000000" stroke-width="1.1"/>
<text x="1503.7" y="978.9" font-size="15" text-anchor="end" fill="#000000">0</text>
<line x1="1579" y1="1008.25" x2="1579" y2="1017.55" stroke="#000000" stroke-width="1.1"/>
<line x1="1687" y1="1008.25" x2="1687" y2="1017.55" stroke="#000000" stroke-width="1.1"/>
<text x="1636.25" y="845.25" font-size="18" text-anchor="middle" font-weight="bold" fill="#000000">Distribution of values</text>
<text x="1486.7" y="931.6" font-size="15" text-anchor="middle" fill="#000000" transform="rotate(-90 1486.7 931.6)">-(Normalized Cq)</text>
<text x="1578.75" y="1035.5" font-size="15" text-anchor="middle" fill="#000000">Possible IA</text>
<text x="1691.75" y="1035.5" font-size="15" text-anchor="middle" fill="#000000">Proven/Probable</text>
<text x="1693.75" y="1053.75" font-size="15" text-anchor="middle" fill="#000000">IA</text>
<rect x="7.05" y="8.25" width="1758.95" height="1050.55" fill="none" stroke="#000" stroke-width="1.85"/>
<line x1="885.2" y1="8.25" x2="885.2" y2="1058.8" stroke="#000" stroke-width="1.85"/>
<line x1="7.05" y1="269" x2="1766" y2="269" stroke="#000" stroke-width="1.85"/>
<line x1="7.05" y1="532.8" x2="1766" y2="532.8" stroke="#000" stroke-width="1.85"/>
<line x1="7.05" y1="795.9" x2="1766" y2="795.9" stroke="#000" stroke-width="1.85"/>
</svg>
</body></html>
